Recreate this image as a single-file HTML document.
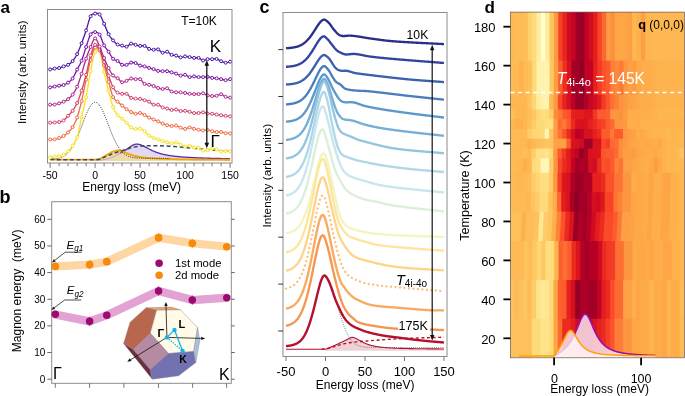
<!DOCTYPE html>
<html><head><meta charset="utf-8"><style>
html,body{margin:0;padding:0;background:#fff;width:685px;height:396px;overflow:hidden}
svg{display:block;will-change:transform}
text{font-family:"Liberation Sans",sans-serif}
</style></head><body>
<svg width="685" height="396" viewBox="0 0 685 396" font-family="Liberation Sans, sans-serif">
<rect width="685" height="396" fill="#fff"/>
<path d="M95.1,160.3 L95.55,160.3 L96,160.29 L96.45,160.29 L96.9,160.27 L97.35,160.26 L97.8,160.24 L98.25,160.22 L98.7,160.2 L99.15,160.17 L99.6,160.14 L100.05,160.1 L100.5,160.06 L100.95,160.01 L101.4,159.97 L101.85,159.91 L102.3,159.86 L102.75,159.8 L103.2,159.73 L103.65,159.66 L104.1,159.58 L104.55,159.5 L105,159.42 L105.45,159.33 L105.9,159.23 L106.35,159.13 L106.8,159.03 L107.25,158.92 L107.7,158.8 L108.15,158.68 L108.6,158.55 L109.05,158.41 L109.5,158.27 L109.95,158.13 L110.4,157.97 L110.85,157.82 L111.3,157.65 L111.75,157.48 L112.2,157.3 L112.65,157.12 L113.1,156.93 L113.55,156.73 L114,156.53 L114.45,156.32 L114.9,156.11 L115.35,155.89 L115.8,155.66 L116.25,155.43 L116.7,155.19 L117.15,154.95 L117.6,154.71 L118.05,154.46 L118.5,154.2 L118.95,153.95 L119.4,153.69 L119.85,153.43 L120.3,153.17 L120.75,152.91 L121.2,152.65 L121.65,152.4 L122.1,152.15 L122.55,151.9 L123,151.64 L123.45,151.38 L123.9,151.1 L124.35,150.82 L124.8,150.54 L125.25,150.25 L125.7,149.95 L126.15,149.64 L126.6,149.33 L127.05,149.02 L127.5,148.71 L127.95,148.39 L128.4,148.07 L128.85,147.75 L129.3,147.43 L129.75,147.12 L130.2,146.81 L130.65,146.51 L131.1,146.22 L131.55,145.94 L132,145.67 L132.45,145.41 L132.9,145.18 L133.35,144.96 L133.8,144.76 L134.25,144.59 L134.7,144.44 L135.15,144.31 L135.6,144.22 L136.05,144.15 L136.5,144.11 L136.95,144.1 L137.4,144.12 L137.85,144.16 L138.3,144.22 L138.75,144.3 L139.2,144.4 L139.65,144.51 L140.1,144.64 L140.55,144.78 L141,144.94 L141.45,145.11 L141.9,145.3 L142.35,145.49 L142.8,145.7 L143.25,145.91 L143.7,146.13 L144.15,146.36 L144.6,146.6 L145.05,146.83 L145.5,147.07 L145.95,147.32 L146.4,147.56 L146.85,147.81 L147.3,148.05 L147.75,148.3 L148.2,148.54 L148.65,148.78 L149.1,149.02 L149.55,149.25 L150,149.48 L150.45,149.71 L150.9,149.93 L151.35,150.15 L151.8,150.37 L152.25,150.58 L152.7,150.78 L153.15,150.99 L153.6,151.18 L154.05,151.37 L154.5,151.56 L154.95,151.74 L155.4,151.92 L155.85,152.09 L156.3,152.26 L156.75,152.42 L157.2,152.58 L157.65,152.73 L158.1,152.88 L158.55,153.03 L159,153.17 L159.45,153.31 L159.9,153.44 L160.35,153.57 L160.8,153.69 L161.25,153.82 L161.7,153.93 L162.15,154.05 L162.6,154.16 L163.05,154.27 L163.5,154.37 L163.95,154.47 L164.4,154.57 L164.85,154.67 L165.3,154.76 L165.75,154.85 L166.2,154.94 L166.65,155.03 L167.1,155.11 L167.55,155.19 L168,155.27 L168.45,155.35 L168.9,155.42 L169.35,155.49 L169.8,155.57 L170.25,155.63 L170.7,155.7 L171.15,155.77 L171.6,155.83 L172.05,155.89 L172.5,155.95 L172.95,156.01 L173.4,156.07 L173.85,156.12 L174.3,156.18 L174.75,156.23 L175.2,156.28 L175.65,156.33 L176.1,156.38 L176.55,156.43 L177,156.48 L177.45,156.52 L177.9,156.57 L178.35,156.61 L178.8,156.65 L179.25,156.69 L179.7,156.73 L180.15,156.77 L180.6,156.81 L181.05,156.85 L181.5,156.89 L181.95,156.92 L182.4,156.96 L182.85,156.99 L183.3,157.03 L183.75,157.06 L184.2,157.09 L184.65,157.13 L185.1,157.16 L185.55,157.19 L186,157.22 L186.45,157.25 L186.9,157.28 L187.35,157.31 L187.8,157.33 L188.25,157.36 L188.7,157.39 L189.15,157.41 L189.6,157.44 L190.05,157.47 L190.5,157.49 L190.95,157.51 L191.4,157.54 L191.85,157.56 L192.3,157.59 L192.75,157.61 L193.2,157.63 L193.65,157.65 L194.1,157.67 L194.55,157.7 L195,157.72 L195.45,157.74 L195.9,157.76 L196.35,157.78 L196.8,157.8 L197.25,157.82 L197.7,157.83 L198.15,157.85 L198.6,157.87 L199.05,157.89 L199.5,157.91 L199.95,157.93 L200.4,157.94 L200.85,157.96 L201.3,157.98 L201.75,157.99 L202.2,158.01 L202.65,158.03 L203.1,158.04 L203.55,158.06 L204,158.07 L204.45,158.09 L204.9,158.1 L205.35,158.12 L205.8,158.13 L206.25,158.15 L206.7,158.16 L207.15,158.17 L207.6,158.19 L208.05,158.2 L208.5,158.21 L208.95,158.23 L209.4,158.24 L209.85,158.25 L210.3,158.27 L210.75,158.28 L211.2,158.29 L211.65,158.3 L212.1,158.32 L212.55,158.33 L213,158.34 L213.45,158.35 L213.9,158.36 L214.35,158.38 L214.8,158.39 L215.25,158.4 L215.7,158.41 L216.15,158.42 L216.6,158.43 L217.05,158.44 L217.5,158.45 L217.95,158.46 L218.4,158.47 L218.85,158.48 L219.3,158.49 L219.75,158.5 L220.2,158.51 L220.65,158.52 L221.1,158.53 L221.55,158.54 L222,158.55 L222.45,158.56 L222.9,158.57 L223.35,158.58 L223.8,158.59 L224.25,158.6 L224.7,158.61 L225.15,158.62 L225.6,158.63 L226.05,158.63 L226.5,158.64 L226.95,158.65 L227.4,158.66 L227.85,158.67 L228.3,158.68 L228.75,158.69 L229.2,158.69 L229.65,158.7 L230.1,158.71 L230.1,161 L95.1,161 Z" fill="#ddd5ee" fill-opacity="0.9"/>
<path d="M94.2,159.7 L94.65,159.7 L95.1,159.7 L95.55,159.69 L96,159.66 L96.45,159.61 L96.9,159.54 L97.35,159.45 L97.8,159.34 L98.25,159.22 L98.7,159.09 L99.15,158.93 L99.6,158.77 L100.05,158.59 L100.5,158.4 L100.95,158.2 L101.4,157.98 L101.85,157.76 L102.3,157.53 L102.75,157.29 L103.2,157.04 L103.65,156.79 L104.1,156.53 L104.55,156.27 L105,156 L105.45,155.73 L105.9,155.46 L106.35,155.19 L106.8,154.91 L107.25,154.64 L107.7,154.37 L108.15,154.1 L108.6,153.83 L109.05,153.57 L109.5,153.31 L109.95,153.06 L110.4,152.81 L110.85,152.57 L111.3,152.34 L111.75,152.12 L112.2,151.9 L112.65,151.7 L113.1,151.51 L113.55,151.33 L114,151.17 L114.45,151.01 L114.9,150.88 L115.35,150.76 L115.8,150.65 L116.25,150.56 L116.7,150.49 L117.15,150.44 L117.6,150.41 L118.05,150.4 L118.5,150.42 L118.95,150.45 L119.4,150.51 L119.85,150.58 L120.3,150.67 L120.75,150.78 L121.2,150.9 L121.65,151.04 L122.1,151.18 L122.55,151.34 L123,151.51 L123.45,151.68 L123.9,151.86 L124.35,152.05 L124.8,152.24 L125.25,152.43 L125.7,152.63 L126.15,152.82 L126.6,153.01 L127.05,153.21 L127.5,153.4 L127.95,153.58 L128.4,153.77 L128.85,153.95 L129.3,154.12 L129.75,154.29 L130.2,154.46 L130.65,154.62 L131.1,154.78 L131.55,154.93 L132,155.08 L132.45,155.22 L132.9,155.36 L133.35,155.49 L133.8,155.62 L134.25,155.75 L134.7,155.87 L135.15,155.98 L135.6,156.09 L136.05,156.2 L136.5,156.31 L136.95,156.4 L137.4,156.5 L137.85,156.59 L138.3,156.68 L138.75,156.77 L139.2,156.85 L139.65,156.93 L140.1,157.01 L140.55,157.08 L141,157.15 L141.45,157.22 L141.9,157.29 L142.35,157.35 L142.8,157.41 L143.25,157.47 L143.7,157.53 L144.15,157.58 L144.6,157.64 L145.05,157.69 L145.5,157.74 L145.95,157.79 L146.4,157.84 L146.85,157.88 L147.3,157.92 L147.75,157.97 L148.2,158.01 L148.65,158.05 L149.1,158.09 L149.55,158.12 L150,158.16 L150.45,158.2 L150.9,158.23 L151.35,158.26 L151.8,158.29 L152.25,158.33 L152.7,158.36 L153.15,158.39 L153.6,158.41 L154.05,158.44 L154.5,158.47 L154.95,158.5 L155.4,158.52 L155.85,158.55 L156.3,158.57 L156.75,158.59 L157.2,158.62 L157.65,158.64 L158.1,158.66 L158.55,158.68 L159,158.7 L159.45,158.72 L159.9,158.74 L160.35,158.76 L160.8,158.78 L161.25,158.8 L161.7,158.82 L162.15,158.84 L162.6,158.85 L163.05,158.87 L163.5,158.89 L163.95,158.9 L164.4,158.92 L164.85,158.93 L165.3,158.95 L165.75,158.96 L166.2,158.98 L166.65,158.99 L167.1,159 L167.55,159.02 L168,159.03 L168.45,159.04 L168.9,159.06 L169.35,159.07 L169.8,159.08 L170.25,159.09 L170.7,159.1 L171.15,159.12 L171.6,159.13 L172.05,159.14 L172.5,159.15 L172.95,159.16 L173.4,159.17 L173.85,159.18 L174.3,159.19 L174.75,159.2 L175.2,159.21 L175.65,159.22 L176.1,159.23 L176.55,159.24 L177,159.25 L177.45,159.26 L177.9,159.26 L178.35,159.27 L178.8,159.28 L179.25,159.29 L179.7,159.3 L180.15,159.31 L180.6,159.31 L181.05,159.32 L181.5,159.33 L181.95,159.34 L182.4,159.34 L182.85,159.35 L183.3,159.36 L183.75,159.37 L184.2,159.37 L184.65,159.38 L185.1,159.39 L185.55,159.39 L186,159.4 L186.45,159.41 L186.9,159.41 L187.35,159.42 L187.8,159.42 L188.25,159.43 L188.7,159.44 L189.15,159.44 L189.6,159.45 L190.05,159.45 L190.5,159.46 L190.95,159.46 L191.4,159.47 L191.85,159.48 L192.3,159.48 L192.75,159.49 L193.2,159.49 L193.65,159.5 L194.1,159.5 L194.55,159.51 L195,159.51 L195.45,159.52 L195.9,159.52 L196.35,159.53 L196.8,159.53 L197.25,159.53 L197.7,159.54 L198.15,159.54 L198.6,159.55 L199.05,159.55 L199.5,159.56 L199.95,159.56 L200.4,159.56 L200.85,159.57 L201.3,159.57 L201.75,159.58 L202.2,159.58 L202.65,159.59 L203.1,159.59 L203.55,159.59 L204,159.6 L204.45,159.6 L204.9,159.6 L205.35,159.61 L205.8,159.61 L206.25,159.61 L206.7,159.62 L207.15,159.62 L207.6,159.63 L208.05,159.63 L208.5,159.63 L208.95,159.64 L209.4,159.64 L209.85,159.64 L210.3,159.64 L210.75,159.65 L211.2,159.65 L211.65,159.65 L212.1,159.66 L212.55,159.66 L213,159.66 L213.45,159.67 L213.9,159.67 L214.35,159.67 L214.8,159.67 L215.25,159.68 L215.7,159.68 L216.15,159.68 L216.6,159.69 L217.05,159.69 L217.5,159.69 L217.95,159.69 L218.4,159.7 L218.85,159.7 L219.3,159.7 L219.75,159.7 L220.2,159.71 L220.65,159.71 L221.1,159.71 L221.55,159.71 L222,159.72 L222.45,159.72 L222.9,159.72 L223.35,159.72 L223.8,159.73 L224.25,159.73 L224.7,159.73 L225.15,159.73 L225.6,159.73 L226.05,159.74 L226.5,159.74 L226.95,159.74 L227.4,159.74 L227.85,159.75 L228.3,159.75 L228.75,159.75 L229.2,159.75 L229.65,159.75 L230.1,159.76 L230.1,161 L94.2,161 Z" fill="#ecdcac"/>
<path d="M120.3,153.17 L120.75,152.91 L121.2,152.65 L121.65,152.4 L122.1,152.15 L122.55,151.9 L123,151.64 L123.45,151.38 L123.9,151.1 L124.35,150.82 L124.8,150.54 L125.25,150.25 L125.7,149.95 L126.15,149.64 L126.6,149.33 L127.05,149.02 L127.5,148.71 L127.95,148.39 L128.4,148.07 L128.85,147.75 L129.3,147.43 L129.75,147.12 L130.2,146.81 L130.65,146.51 L131.1,146.22 L131.55,145.94 L132,145.67 L132.45,145.41 L132.9,145.18 L133.35,144.96 L133.8,144.76 L134.25,144.59 L134.7,144.44 L135.15,144.31 L135.6,144.22 L136.05,144.15 L136.5,144.11 L136.95,144.1 L137.4,144.12 L137.85,144.16 L138.3,144.22 L138.75,144.3 L139.2,144.4 L139.65,144.51 L140.1,144.64 L140.55,144.78 L141,144.94 L141.45,145.11 L141.9,145.3 L142.35,145.49 L142.8,145.7 L143.25,145.91 L143.7,146.13 L144.15,146.36 L144.6,146.6 L145.05,146.83 L145.5,147.07 L145.95,147.32 L146.4,147.56 L146.85,147.81 L147.3,148.05 L147.75,148.3 L148.2,148.54 L148.65,148.78 L149.1,149.02 L149.55,149.25 L150,149.48 L150.45,149.71 L150.9,149.93 L151.35,150.15 L151.8,150.37 L152.25,150.58 L152.7,150.78 L153.15,150.99 L153.6,151.18 L154.05,151.37 L154.5,151.56 L154.95,151.74 L155.4,151.92 L155.85,152.09 L156.3,152.26 L156.75,152.42 L157.2,152.58 L157.65,152.73 L158.1,152.88 L158.55,153.03 L159,153.17 L159.45,153.31 L159.9,153.44 L160.35,153.57 L160.8,153.69 L161.25,153.82 L161.7,153.93 L162.15,154.05 L162.6,154.16 L163.05,154.27 L163.5,154.37 L163.95,154.47 L164.4,154.57 L164.85,154.67 L165.3,154.76 L165.75,154.85 L166.2,154.94 L166.65,155.03 L167.1,155.11 L167.55,155.19 L168,155.27 L168.45,155.35 L168.9,155.42 L169.35,155.49 L169.8,155.57 L170.25,155.63 L170.7,155.7 L171.15,155.77 L171.6,155.83 L172.05,155.89 L172.5,155.95 L172.95,156.01 L173.4,156.07 L173.85,156.12 L174.3,156.18 L174.75,156.23 L175.2,156.28 L175.65,156.33 L176.1,156.38 L176.55,156.43 L177,156.48 L177.45,156.52 L177.9,156.57 L178.35,156.61 L178.8,156.65 L179.25,156.69 L179.7,156.73 L180.15,156.77 L180.6,156.81 L181.05,156.85 L181.5,156.89 L181.95,156.92 L182.4,156.96 L182.85,156.99 L183.3,157.03 L183.75,157.06 L184.2,157.09 L184.65,157.13 L185.1,157.16 L185.55,157.19 L186,157.22 L186.45,157.25 L186.9,157.28 L187.35,157.31 L187.8,157.33 L188.25,157.36 L188.7,157.39 L189.15,157.41 L189.6,157.44 L190.05,157.47 L190.5,157.49 L190.95,157.51 L191.4,157.54 L191.85,157.56 L192.3,157.59 L192.75,157.61 L193.2,157.63 L193.65,157.65 L194.1,157.67 L194.55,157.7 L195,157.72 L195.45,157.74 L195.9,157.76 L196.35,157.78 L196.8,157.8 L197.25,157.82 L197.7,157.83 L198.15,157.85 L198.6,157.87 L199.05,157.89 L199.5,157.91 L199.95,157.93 L200.4,157.94 L200.85,157.96 L201.3,157.98 L201.75,157.99 L202.2,158.01 L202.65,158.03 L203.1,158.04 L203.55,158.06 L204,158.07 L204.45,158.09 L204.9,158.1 L205.35,158.12 L205.8,158.13 L206.25,158.15 L206.7,158.16 L207.15,158.17 L207.6,158.19 L208.05,158.2 L208.5,158.21 L208.95,158.23 L209.4,158.24 L209.85,158.25 L210.3,158.27 L210.75,158.28 L211.2,158.29 L211.65,158.3 L212.1,158.32 L212.55,158.33 L213,158.34 L213.45,158.35 L213.9,158.36 L214.35,158.38 L214.8,158.39 L215.25,158.4 L215.7,158.41 L216.15,158.42 L216.6,158.43 L217.05,158.44 L217.5,158.45 L217.95,158.46 L218.4,158.47 L218.85,158.48 L219.3,158.49 L219.75,158.5 L220.2,158.51 L220.65,158.52 L221.1,158.53 L221.55,158.54 L222,158.55 L222.45,158.56 L222.9,158.57 L223.35,158.58 L223.8,158.59 L224.25,158.6 L224.7,158.61 L225.15,158.62 L225.6,158.63 L226.05,158.63 L226.5,158.64 L226.95,158.65 L227.4,158.66 L227.85,158.67 L228.3,158.68 L228.75,158.69 L229.2,158.69 L229.65,158.7 L230.1,158.71" fill="none" stroke="#5a2aa0" stroke-width="1.3"/>
<path d="M95.1,160.3 L95.55,160.3 L96,160.29 L96.45,160.29 L96.9,160.27 L97.35,160.26 L97.8,160.24 L98.25,160.22 L98.7,160.2 L99.15,160.17 L99.6,160.14 L100.05,160.1 L100.5,160.06 L100.95,160.01 L101.4,159.97 L101.85,159.91 L102.3,159.86 L102.75,159.8 L103.2,159.73 L103.65,159.66 L104.1,159.58 L104.55,159.5 L105,159.42 L105.45,159.33 L105.9,159.23 L106.35,159.13 L106.8,159.03 L107.25,158.92 L107.7,158.8 L108.15,158.68 L108.6,158.55 L109.05,158.41 L109.5,158.27 L109.95,158.13 L110.4,157.97 L110.85,157.82 L111.3,157.65 L111.75,157.48 L112.2,157.3 L112.65,157.12 L113.1,156.93 L113.55,156.73 L114,156.53 L114.45,156.32 L114.9,156.11 L115.35,155.89 L115.8,155.66 L116.25,155.43 L116.7,155.19 L117.15,154.95 L117.6,154.71 L118.05,154.46 L118.5,154.2 L118.95,153.95 L119.4,153.69 L119.85,153.43 L120.3,153.17 L120.75,152.91 L121.2,152.65 L121.65,152.4 L122.1,152.15" fill="none" stroke="#a08ab8" stroke-width="0.7"/>
<path d="M50.1,159.7 L50.55,159.7 L51,159.7 L51.45,159.7 L51.9,159.7 L52.35,159.7 L52.8,159.7 L53.25,159.7 L53.7,159.7 L54.15,159.7 L54.6,159.7 L55.05,159.7 L55.5,159.7 L55.95,159.7 L56.4,159.7 L56.85,159.7 L57.3,159.7 L57.75,159.7 L58.2,159.7 L58.65,159.7 L59.1,159.7 L59.55,159.7 L60,159.7 L60.45,159.7 L60.9,159.7 L61.35,159.7 L61.8,159.7 L62.25,159.7 L62.7,159.7 L63.15,159.7 L63.6,159.7 L64.05,159.7 L64.5,159.7 L64.95,159.7 L65.4,159.7 L65.85,159.7 L66.3,159.7 L66.75,159.7 L67.2,159.7 L67.65,159.7 L68.1,159.7 L68.55,159.7 L69,159.7 L69.45,159.7 L69.9,159.7 L70.35,159.7 L70.8,159.7 L71.25,159.7 L71.7,159.7 L72.15,159.7 L72.6,159.7 L73.05,159.7 L73.5,159.7 L73.95,159.7 L74.4,159.7 L74.85,159.7 L75.3,159.7 L75.75,159.7 L76.2,159.7 L76.65,159.7 L77.1,159.7 L77.55,159.7 L78,159.7 L78.45,159.7 L78.9,159.7 L79.35,159.7 L79.8,159.7 L80.25,159.7 L80.7,159.7 L81.15,159.7 L81.6,159.7 L82.05,159.7 L82.5,159.7 L82.95,159.7 L83.4,159.7 L83.85,159.7 L84.3,159.7 L84.75,159.7 L85.2,159.7 L85.65,159.7 L86.1,159.7 L86.55,159.7 L87,159.7 L87.45,159.7 L87.9,159.7 L88.35,159.7 L88.8,159.7 L89.25,159.7 L89.7,159.7 L90.15,159.7 L90.6,159.7 L91.05,159.7 L91.5,159.7 L91.95,159.7 L92.4,159.7 L92.85,159.7 L93.3,159.7 L93.75,159.7 L94.2,159.7 L94.65,159.7 L95.1,159.7 L95.55,159.69 L96,159.66 L96.45,159.61 L96.9,159.54 L97.35,159.45 L97.8,159.34 L98.25,159.22 L98.7,159.09 L99.15,158.93 L99.6,158.77 L100.05,158.59 L100.5,158.4 L100.95,158.2 L101.4,157.98 L101.85,157.76 L102.3,157.53 L102.75,157.29 L103.2,157.04 L103.65,156.79 L104.1,156.53 L104.55,156.27 L105,156 L105.45,155.73 L105.9,155.46 L106.35,155.19 L106.8,154.91 L107.25,154.64 L107.7,154.37 L108.15,154.1 L108.6,153.83 L109.05,153.57 L109.5,153.31 L109.95,153.06 L110.4,152.81 L110.85,152.57 L111.3,152.34 L111.75,152.12 L112.2,151.9 L112.65,151.7 L113.1,151.51 L113.55,151.33 L114,151.17 L114.45,151.01 L114.9,150.88 L115.35,150.76 L115.8,150.65 L116.25,150.56 L116.7,150.49 L117.15,150.44 L117.6,150.41 L118.05,150.4 L118.5,150.42 L118.95,150.45 L119.4,150.51 L119.85,150.58 L120.3,150.67 L120.75,150.78 L121.2,150.9 L121.65,151.04 L122.1,151.18 L122.55,151.34 L123,151.51 L123.45,151.68 L123.9,151.86 L124.35,152.05 L124.8,152.24 L125.25,152.43 L125.7,152.63 L126.15,152.82 L126.6,153.01 L127.05,153.21 L127.5,153.4 L127.95,153.58 L128.4,153.77 L128.85,153.95 L129.3,154.12 L129.75,154.29 L130.2,154.46 L130.65,154.62 L131.1,154.78 L131.55,154.93 L132,155.08 L132.45,155.22 L132.9,155.36 L133.35,155.49 L133.8,155.62 L134.25,155.75 L134.7,155.87 L135.15,155.98 L135.6,156.09 L136.05,156.2 L136.5,156.31 L136.95,156.4 L137.4,156.5 L137.85,156.59 L138.3,156.68 L138.75,156.77 L139.2,156.85 L139.65,156.93 L140.1,157.01 L140.55,157.08 L141,157.15 L141.45,157.22 L141.9,157.29 L142.35,157.35 L142.8,157.41 L143.25,157.47 L143.7,157.53 L144.15,157.58 L144.6,157.64 L145.05,157.69 L145.5,157.74 L145.95,157.79 L146.4,157.84 L146.85,157.88 L147.3,157.92 L147.75,157.97 L148.2,158.01 L148.65,158.05 L149.1,158.09 L149.55,158.12 L150,158.16 L150.45,158.2 L150.9,158.23 L151.35,158.26 L151.8,158.29 L152.25,158.33 L152.7,158.36 L153.15,158.39 L153.6,158.41 L154.05,158.44 L154.5,158.47 L154.95,158.5 L155.4,158.52 L155.85,158.55 L156.3,158.57 L156.75,158.59 L157.2,158.62 L157.65,158.64 L158.1,158.66 L158.55,158.68 L159,158.7 L159.45,158.72 L159.9,158.74 L160.35,158.76 L160.8,158.78 L161.25,158.8 L161.7,158.82 L162.15,158.84 L162.6,158.85 L163.05,158.87 L163.5,158.89 L163.95,158.9 L164.4,158.92 L164.85,158.93 L165.3,158.95 L165.75,158.96 L166.2,158.98 L166.65,158.99 L167.1,159 L167.55,159.02 L168,159.03 L168.45,159.04 L168.9,159.06 L169.35,159.07 L169.8,159.08 L170.25,159.09 L170.7,159.1 L171.15,159.12 L171.6,159.13 L172.05,159.14 L172.5,159.15 L172.95,159.16 L173.4,159.17 L173.85,159.18 L174.3,159.19 L174.75,159.2 L175.2,159.21 L175.65,159.22 L176.1,159.23 L176.55,159.24 L177,159.25 L177.45,159.26 L177.9,159.26 L178.35,159.27 L178.8,159.28 L179.25,159.29 L179.7,159.3 L180.15,159.31 L180.6,159.31 L181.05,159.32 L181.5,159.33 L181.95,159.34 L182.4,159.34 L182.85,159.35 L183.3,159.36 L183.75,159.37 L184.2,159.37 L184.65,159.38 L185.1,159.39 L185.55,159.39 L186,159.4 L186.45,159.41 L186.9,159.41 L187.35,159.42 L187.8,159.42 L188.25,159.43 L188.7,159.44 L189.15,159.44 L189.6,159.45 L190.05,159.45 L190.5,159.46 L190.95,159.46 L191.4,159.47 L191.85,159.48 L192.3,159.48 L192.75,159.49 L193.2,159.49 L193.65,159.5 L194.1,159.5 L194.55,159.51 L195,159.51 L195.45,159.52 L195.9,159.52 L196.35,159.53 L196.8,159.53 L197.25,159.53 L197.7,159.54 L198.15,159.54 L198.6,159.55 L199.05,159.55 L199.5,159.56 L199.95,159.56 L200.4,159.56 L200.85,159.57 L201.3,159.57 L201.75,159.58 L202.2,159.58 L202.65,159.59 L203.1,159.59 L203.55,159.59 L204,159.6 L204.45,159.6 L204.9,159.6 L205.35,159.61 L205.8,159.61 L206.25,159.61 L206.7,159.62 L207.15,159.62 L207.6,159.63 L208.05,159.63 L208.5,159.63 L208.95,159.64 L209.4,159.64 L209.85,159.64 L210.3,159.64 L210.75,159.65 L211.2,159.65 L211.65,159.65 L212.1,159.66 L212.55,159.66 L213,159.66 L213.45,159.67 L213.9,159.67 L214.35,159.67 L214.8,159.67 L215.25,159.68 L215.7,159.68 L216.15,159.68 L216.6,159.69 L217.05,159.69 L217.5,159.69 L217.95,159.69 L218.4,159.7 L218.85,159.7 L219.3,159.7 L219.75,159.7 L220.2,159.71 L220.65,159.71 L221.1,159.71 L221.55,159.71 L222,159.72 L222.45,159.72 L222.9,159.72 L223.35,159.72 L223.8,159.73 L224.25,159.73 L224.7,159.73 L225.15,159.73 L225.6,159.73 L226.05,159.74 L226.5,159.74 L226.95,159.74 L227.4,159.74 L227.85,159.75 L228.3,159.75 L228.75,159.75 L229.2,159.75 L229.65,159.75 L230.1,159.76" fill="none" stroke="#f7a20a" stroke-width="1.8"/>
<path d="M50,159.16 L50.5,159.15 L51,159.12 L51.5,159.1 L52,159.07 L52.5,159.04 L53,159.01 L53.5,158.97 L54,158.92 L54.5,158.88 L55,158.82 L55.5,158.76 L56,158.7 L56.5,158.62 L57,158.54 L57.5,158.45 L58,158.35 L58.5,158.24 L59,158.12 L59.5,157.99 L60,157.84 L60.5,157.68 L61,157.51 L61.5,157.32 L62,157.11 L62.5,156.89 L63,156.65 L63.5,156.38 L64,156.1 L64.5,155.79 L65,155.46 L65.5,155.11 L66,154.73 L66.5,154.32 L67,153.88 L67.5,153.41 L68,152.91 L68.5,152.38 L69,151.82 L69.5,151.22 L70,150.59 L70.5,149.92 L71,149.22 L71.5,148.48 L72,147.7 L72.5,146.89 L73,146.04 L73.5,145.15 L74,144.22 L74.5,143.26 L75,142.26 L75.5,141.22 L76,140.15 L76.5,139.04 L77,137.91 L77.5,136.74 L78,135.55 L78.5,134.32 L79,133.08 L79.5,131.81 L80,130.53 L80.5,129.22 L81,127.91 L81.5,126.59 L82,125.26 L82.5,123.93 L83,122.6 L83.5,121.28 L84,119.97 L84.5,118.68 L85,117.4 L85.5,116.15 L86,114.93 L86.5,113.74 L87,112.58 L87.5,111.47 L88,110.4 L88.5,109.39 L89,108.43 L89.5,107.52 L90,106.68 L90.5,105.91 L91,105.2 L91.5,104.56 L92,104 L92.5,103.52 L93,103.11 L93.5,102.79 L94,102.54 L94.5,102.38 L95,102.31 L95.5,102.3 L96,102.38 L96.5,102.55 L97,102.79 L97.5,103.12 L98,103.53 L98.5,104.02 L99,104.58 L99.5,105.22 L100,105.93 L100.5,106.71 L101,107.55 L101.5,108.45 L102,109.41 L102.5,110.43 L103,111.49 L103.5,112.6 L104,113.75 L104.5,114.93 L105,116.15 L105.5,117.39 L106,118.66 L106.5,119.95 L107,121.25 L107.5,122.56 L108,123.87 L108.5,125.19 L109,126.5 L109.5,127.81 L110,129.11 L110.5,130.4 L111,131.67 L111.5,132.92 L112,134.14 L112.5,135.35 L113,136.53 L113.5,137.67 L114,138.79 L114.5,139.88 L115,140.93 L115.5,141.95 L116,142.93 L116.5,143.87 L117,144.78 L117.5,145.65 L118,146.48 L118.5,147.28 L119,148.03 L119.5,148.75 L120,149.44 L120.5,150.08 L121,150.7 L121.5,151.27 L122,151.82 L122.5,152.33 L123,152.81 L123.5,153.26 L124,153.68 L124.5,154.07 L125,154.43 L125.5,154.77 L126,155.08 L126.5,155.37 L127,155.64 L127.5,155.89 L128,156.11 L128.5,156.32 L129,156.51 L129.5,156.68 L130,156.84 L130.5,156.98 L131,157.11 L131.5,157.23 L132,157.34 L132.5,157.43 L133,157.52 L133.5,157.59 L134,157.66 L134.5,157.72 L135,157.77 L135.5,157.83 L136,157.89 L136.5,157.93 L137,157.98 L137.5,158.01 L138,158.05 L138.5,158.08 L139,158.1 L139.5,158.13 L140,158.15 L140.5,158.17 L141,158.19 L141.5,158.2 L142,158.21 L142.5,158.22 L143,158.23 L143.5,158.24 L144,158.25 L144.5,158.26 L145,158.26 L145.5,158.27 L146,158.27 L146.5,158.28 L147,158.28 L147.5,158.28 L148,158.29 L148.5,158.29 L149,158.29 L149.5,158.29 L150,158.29 L150.5,158.29 L151,158.29 L151.5,158.3 L152,158.3 L152.5,158.3 L153,158.3 L153.5,158.3 L154,158.3 L154.5,158.3 L155,158.3 L155.5,158.3 L156,158.3 L156.5,158.3 L157,158.3 L157.5,158.3 L158,158.3 L158.5,158.3 L159,158.3 L159.5,158.3 L160,158.3 L160.5,158.3 L161,158.3 L161.5,158.3 L162,158.3 L162.5,158.3 L163,158.3 L163.5,158.3 L164,158.3 L164.5,158.3 L165,158.3 L165.5,158.3 L166,158.3 L166.5,158.3 L167,158.3 L167.5,158.3 L168,158.3 L168.5,158.3 L169,158.3 L169.5,158.3 L170,158.3" fill="none" stroke="#1a1a1a" stroke-width="0.9" stroke-dasharray="1,1.2"/>
<path d="M50.1,159.6 L53.82,159.62 L59.03,159.66 L65.26,159.71 L72.04,159.75 L78.88,159.78 L85.33,159.77 L90.89,159.71 L95.1,159.6 L97.95,159.42 L99.88,159.2 L101.11,158.93 L101.85,158.62 L102.31,158.29 L102.69,157.94 L103.22,157.57 L104.1,157.2 L105.22,156.8 L106.35,156.37 L107.47,155.91 L108.6,155.44 L109.72,154.96 L110.85,154.49 L111.97,154.03 L113.1,153.6 L114.21,153.2 L115.31,152.81 L116.4,152.44 L117.49,152.07 L118.59,151.71 L119.72,151.35 L120.89,150.98 L122.1,150.6 L123.37,150.2 L124.69,149.77 L126.06,149.34 L127.44,148.91 L128.84,148.48 L130.22,148.09 L131.58,147.72 L132.9,147.4 L134.1,147.12 L135.16,146.87 L136.16,146.65 L137.18,146.45 L138.27,146.28 L139.52,146.13 L141.01,146 L142.8,145.9 L144.95,145.82 L147.4,145.76 L150.08,145.72 L152.93,145.71 L155.85,145.72 L158.79,145.75 L161.66,145.81 L164.4,145.9 L167.02,146.02 L169.6,146.18 L172.15,146.36 L174.69,146.57 L177.25,146.79 L179.82,147.03 L182.43,147.27 L185.1,147.5 L187.83,147.74 L190.6,148 L193.41,148.26 L196.24,148.54 L199.08,148.81 L201.93,149.08 L204.78,149.35 L207.6,149.6 L210.57,149.85 L213.75,150.11 L217.03,150.38 L220.26,150.63 L223.31,150.87 L226.06,151.08 L228.36,151.26 L230.1,151.4" fill="none" stroke="#3a4a5c" stroke-width="1.5" stroke-dasharray="4,2.6"/>
<path d="M50.1,157.4 L50.71,157.28 L51.58,157.12 L52.58,156.93 L53.63,156.75 L54.6,156.6 L55.5,156.51 L56.4,156.46 L57.3,156.41 L58.2,156.34 L59.1,156.2 L60,156.02 L60.9,155.81 L61.8,155.55 L62.7,155.22 L63.6,154.8 L64.5,154.28 L65.4,153.69 L66.3,153.02 L67.2,152.26 L68.1,151.4 L69,150.45 L69.9,149.41 L70.8,148.27 L71.7,147.04 L72.6,145.7 L73.5,144.42 L74.4,143.19 L75.3,141.78 L76.2,139.96 L77.1,137.5 L78,134.19 L78.9,130.2 L79.8,125.82 L80.7,121.35 L81.6,117.1 L82.5,113.17 L83.4,109.35 L84.3,105.51 L85.2,101.47 L86.1,97.1 L87,92.19 L87.9,86.84 L88.8,81.36 L89.7,76.05 L90.6,71.2 L91.5,66.65 L92.4,62.18 L93.3,58.08 L94.2,54.59 L95.1,52 L96,50.22 L96.9,49.06 L97.8,48.66 L98.7,49.14 L99.6,50.6 L100.5,53.46 L101.4,57.64 L102.3,62.53 L103.2,67.52 L104.1,72 L105,75.98 L105.9,79.87 L106.8,83.66 L107.7,87.34 L108.6,90.9 L109.5,94.42 L110.4,97.92 L111.3,101.26 L112.2,104.32 L113.1,107 L114,109.24 L114.9,111.12 L115.8,112.71 L116.7,114.08 L117.6,115.3 L118.5,116.26 L119.4,116.93 L120.3,117.45 L121.2,117.96 L122.1,118.6 L123,119.39 L123.9,120.24 L124.8,121.12 L125.7,122.01 L126.6,122.9 L127.5,123.84 L128.4,124.83 L129.3,125.81 L130.2,126.69 L131.1,127.4 L132,127.92 L132.9,128.3 L133.8,128.57 L134.7,128.76 L135.6,128.9 L136.5,128.91 L137.4,128.77 L138.3,128.6 L139.2,128.5 L140.1,128.6 L141,128.9 L141.9,129.34 L142.8,129.88 L143.7,130.51 L144.6,131.2 L145.5,132.03 L146.4,133.01 L147.3,134.04 L148.2,135 L149.1,135.8 L150,136.4 L150.9,136.89 L151.8,137.29 L152.7,137.64 L153.6,138 L154.5,138.34 L155.4,138.65 L156.3,138.93 L157.2,139.21 L158.1,139.5 L159,139.8 L159.9,140.11 L160.8,140.41 L161.7,140.71 L162.6,141 L163.5,141.28 L164.4,141.55 L165.3,141.81 L166.2,142.06 L167.1,142.3 L168,142.55 L168.9,142.82 L169.8,143.06 L170.7,143.23 L171.6,143.3 L172.5,143.18 L173.4,142.89 L174.3,142.57 L175.2,142.33 L176.1,142.3 L177,142.54 L177.9,142.95 L178.8,143.47 L179.7,144.02 L180.6,144.5 L181.5,144.97 L182.4,145.49 L183.3,145.98 L184.2,146.37 L185.1,146.6 L186,146.57 L186.9,146.33 L187.8,146.01 L188.7,145.76 L189.6,145.7 L190.5,145.92 L191.4,146.31 L192.3,146.78 L193.2,147.21 L194.1,147.5 L195,147.57 L195.9,147.48 L196.8,147.36 L197.7,147.33 L198.6,147.5 L199.5,147.98 L200.4,148.68 L201.3,149.46 L202.2,150.15 L203.1,150.6 L204,150.76 L204.9,150.75 L205.8,150.61 L206.7,150.41 L207.6,150.2 L208.5,149.92 L209.4,149.53 L210.3,149.12 L211.2,148.79 L212.1,148.6 L213,148.59 L213.9,148.69 L214.8,148.88 L215.7,149.12 L216.6,149.4 L217.5,149.76 L218.4,150.22 L219.3,150.71 L220.2,151.13 L221.1,151.4 L222,151.48 L222.9,151.42 L223.8,151.29 L224.7,151.16 L225.6,151.1 L226.57,151.13 L227.62,151.19 L228.62,151.27 L229.49,151.35 L230.1,151.4" fill="none" stroke="#f8e21e" stroke-width="1.3"/>
<g fill="#fff" stroke="#f8e21e" stroke-width="1.0"><circle cx="50.1" cy="157.4" r="1.5"/><circle cx="54.6" cy="156.6" r="1.5"/><circle cx="59.1" cy="156.2" r="1.5"/><circle cx="63.6" cy="154.8" r="1.5"/><circle cx="68.1" cy="151.4" r="1.5"/><circle cx="72.6" cy="145.7" r="1.5"/><circle cx="77.1" cy="137.5" r="1.5"/><circle cx="81.6" cy="117.1" r="1.5"/><circle cx="86.1" cy="97.1" r="1.5"/><circle cx="90.6" cy="71.2" r="1.5"/><circle cx="95.1" cy="52" r="1.5"/><circle cx="99.6" cy="50.6" r="1.5"/><circle cx="104.1" cy="72" r="1.5"/><circle cx="108.6" cy="90.9" r="1.5"/><circle cx="113.1" cy="107" r="1.5"/><circle cx="117.6" cy="115.3" r="1.5"/><circle cx="122.1" cy="118.6" r="1.5"/><circle cx="126.6" cy="122.9" r="1.5"/><circle cx="131.1" cy="127.4" r="1.5"/><circle cx="135.6" cy="128.9" r="1.5"/><circle cx="140.1" cy="128.6" r="1.5"/><circle cx="144.6" cy="131.2" r="1.5"/><circle cx="149.1" cy="135.8" r="1.5"/><circle cx="153.6" cy="138" r="1.5"/><circle cx="158.1" cy="139.5" r="1.5"/><circle cx="162.6" cy="141" r="1.5"/><circle cx="167.1" cy="142.3" r="1.5"/><circle cx="171.6" cy="143.3" r="1.5"/><circle cx="176.1" cy="142.3" r="1.5"/><circle cx="180.6" cy="144.5" r="1.5"/><circle cx="185.1" cy="146.6" r="1.5"/><circle cx="189.6" cy="145.7" r="1.5"/><circle cx="194.1" cy="147.5" r="1.5"/><circle cx="198.6" cy="147.5" r="1.5"/><circle cx="203.1" cy="150.6" r="1.5"/><circle cx="207.6" cy="150.2" r="1.5"/><circle cx="212.1" cy="148.6" r="1.5"/><circle cx="216.6" cy="149.4" r="1.5"/><circle cx="221.1" cy="151.4" r="1.5"/><circle cx="225.6" cy="151.1" r="1.5"/><circle cx="230.1" cy="151.4" r="1.5"/></g>
<path d="M50.1,139.5 L50.71,139.51 L51.58,139.53 L52.58,139.54 L53.63,139.5 L54.6,139.4 L55.5,139.21 L56.4,138.96 L57.3,138.67 L58.2,138.34 L59.1,138 L60,137.66 L60.9,137.32 L61.8,136.94 L62.7,136.51 L63.6,136 L64.5,135.41 L65.4,134.76 L66.3,134.05 L67.2,133.26 L68.1,132.4 L69,131.5 L69.9,130.57 L70.8,129.54 L71.7,128.37 L72.6,127 L73.5,125.47 L74.4,123.82 L75.3,121.99 L76.2,119.9 L77.1,117.5 L78,114.76 L78.9,111.72 L79.8,108.42 L80.7,104.9 L81.6,101.2 L82.5,97.2 L83.4,92.89 L84.3,88.42 L85.2,83.97 L86.1,79.7 L87,75.53 L87.9,71.34 L88.8,67.28 L89.7,63.45 L90.6,60 L91.5,56.79 L92.4,53.74 L93.3,51.04 L94.2,48.89 L95.1,47.5 L96,46.92 L96.9,47.03 L97.8,47.72 L98.7,48.91 L99.6,50.5 L100.5,52.64 L101.4,55.4 L102.3,58.55 L103.2,61.86 L104.1,65.1 L105,68.33 L105.9,71.7 L106.8,75.12 L107.7,78.52 L108.6,81.8 L109.5,85.12 L110.4,88.53 L111.3,91.82 L112.2,94.75 L113.1,97.1 L114,98.72 L114.9,99.75 L115.8,100.43 L116.7,101 L117.6,101.7 L118.5,102.51 L119.4,103.28 L120.3,104.03 L121.2,104.76 L122.1,105.5 L123,106.26 L123.9,107.03 L124.8,107.79 L125.7,108.52 L126.6,109.2 L127.5,109.83 L128.4,110.43 L129.3,111 L130.2,111.52 L131.1,112 L132,112.47 L132.9,112.92 L133.8,113.32 L134.7,113.62 L135.6,113.8 L136.5,113.76 L137.4,113.53 L138.3,113.24 L139.2,113.02 L140.1,113 L141,113.21 L141.9,113.57 L142.8,114.02 L143.7,114.52 L144.6,115 L145.5,115.49 L146.4,116.03 L147.3,116.58 L148.2,117.12 L149.1,117.6 L150,118.02 L150.9,118.41 L151.8,118.77 L152.7,119.13 L153.6,119.5 L154.5,119.88 L155.4,120.25 L156.3,120.62 L157.2,121 L158.1,121.4 L159,121.83 L159.9,122.29 L160.8,122.75 L161.7,123.19 L162.6,123.6 L163.5,123.97 L164.4,124.32 L165.3,124.65 L166.2,124.94 L167.1,125.2 L168,125.43 L168.9,125.64 L169.8,125.8 L170.7,125.93 L171.6,126 L172.5,125.96 L173.4,125.81 L174.3,125.64 L175.2,125.54 L176.1,125.6 L177,125.87 L177.9,126.3 L178.8,126.8 L179.7,127.3 L180.6,127.7 L181.5,128.04 L182.4,128.37 L183.3,128.66 L184.2,128.85 L185.1,128.9 L186,128.72 L186.9,128.35 L187.8,127.91 L188.7,127.55 L189.6,127.4 L190.5,127.52 L191.4,127.82 L192.3,128.21 L193.2,128.6 L194.1,128.9 L195,129.1 L195.9,129.27 L196.8,129.41 L197.7,129.55 L198.6,129.7 L199.5,129.88 L200.4,130.08 L201.3,130.27 L202.2,130.42 L203.1,130.5 L204,130.46 L204.9,130.31 L205.8,130.14 L206.7,130.01 L207.6,130 L208.5,130.14 L209.4,130.38 L210.3,130.67 L211.2,130.96 L212.1,131.2 L213,131.4 L213.9,131.59 L214.8,131.76 L215.7,131.9 L216.6,132 L217.5,132.03 L218.4,132 L219.3,131.95 L220.2,131.94 L221.1,132 L222,132.18 L222.9,132.44 L223.8,132.73 L224.7,133 L225.6,133.2 L226.57,133.32 L227.62,133.4 L228.62,133.44 L229.49,133.47 L230.1,133.5" fill="none" stroke="#ee6a45" stroke-width="1.3"/>
<g fill="#fff" stroke="#ee6a45" stroke-width="1.0"><circle cx="50.1" cy="139.5" r="1.5"/><circle cx="54.6" cy="139.4" r="1.5"/><circle cx="59.1" cy="138" r="1.5"/><circle cx="63.6" cy="136" r="1.5"/><circle cx="68.1" cy="132.4" r="1.5"/><circle cx="72.6" cy="127" r="1.5"/><circle cx="77.1" cy="117.5" r="1.5"/><circle cx="81.6" cy="101.2" r="1.5"/><circle cx="86.1" cy="79.7" r="1.5"/><circle cx="90.6" cy="60" r="1.5"/><circle cx="95.1" cy="47.5" r="1.5"/><circle cx="99.6" cy="50.5" r="1.5"/><circle cx="104.1" cy="65.1" r="1.5"/><circle cx="108.6" cy="81.8" r="1.5"/><circle cx="113.1" cy="97.1" r="1.5"/><circle cx="117.6" cy="101.7" r="1.5"/><circle cx="122.1" cy="105.5" r="1.5"/><circle cx="126.6" cy="109.2" r="1.5"/><circle cx="131.1" cy="112" r="1.5"/><circle cx="135.6" cy="113.8" r="1.5"/><circle cx="140.1" cy="113" r="1.5"/><circle cx="144.6" cy="115" r="1.5"/><circle cx="149.1" cy="117.6" r="1.5"/><circle cx="153.6" cy="119.5" r="1.5"/><circle cx="158.1" cy="121.4" r="1.5"/><circle cx="162.6" cy="123.6" r="1.5"/><circle cx="167.1" cy="125.2" r="1.5"/><circle cx="171.6" cy="126" r="1.5"/><circle cx="176.1" cy="125.6" r="1.5"/><circle cx="180.6" cy="127.7" r="1.5"/><circle cx="185.1" cy="128.9" r="1.5"/><circle cx="189.6" cy="127.4" r="1.5"/><circle cx="194.1" cy="128.9" r="1.5"/><circle cx="198.6" cy="129.7" r="1.5"/><circle cx="203.1" cy="130.5" r="1.5"/><circle cx="207.6" cy="130" r="1.5"/><circle cx="212.1" cy="131.2" r="1.5"/><circle cx="216.6" cy="132" r="1.5"/><circle cx="221.1" cy="132" r="1.5"/><circle cx="225.6" cy="133.2" r="1.5"/><circle cx="230.1" cy="133.5" r="1.5"/></g>
<path d="M50.1,122.7 L50.71,122.68 L51.58,122.65 L52.58,122.61 L53.63,122.56 L54.6,122.5 L55.5,122.44 L56.4,122.37 L57.3,122.29 L58.2,122.18 L59.1,122 L60,121.8 L60.9,121.58 L61.8,121.31 L62.7,120.93 L63.6,120.4 L64.5,119.68 L65.4,118.8 L66.3,117.81 L67.2,116.79 L68.1,115.8 L69,114.87 L69.9,113.96 L70.8,113.02 L71.7,111.99 L72.6,110.8 L73.5,109.49 L74.4,108.1 L75.3,106.58 L76.2,104.89 L77.1,103 L78,100.89 L78.9,98.58 L79.8,96.1 L80.7,93.47 L81.6,90.7 L82.5,87.79 L83.4,84.72 L84.3,81.51 L85.2,78.16 L86.1,74.7 L87,70.93 L87.9,66.84 L88.8,62.72 L89.7,58.85 L90.6,55.5 L91.5,52.58 L92.4,49.89 L93.3,47.6 L94.2,45.85 L95.1,44.8 L96,44.55 L96.9,44.98 L97.8,45.97 L98.7,47.36 L99.6,49 L100.5,51.03 L101.4,53.53 L102.3,56.33 L103.2,59.21 L104.1,62 L105,64.73 L105.9,67.53 L106.8,70.34 L107.7,73.08 L108.6,75.7 L109.5,78.26 L110.4,80.79 L111.3,83.21 L112.2,85.42 L113.1,87.3 L114,88.83 L114.9,90.07 L115.8,91.08 L116.7,91.9 L117.6,92.6 L118.5,93.12 L119.4,93.43 L120.3,93.6 L121.2,93.7 L122.1,93.8 L123,93.81 L123.9,93.69 L124.8,93.56 L125.7,93.56 L126.6,93.8 L127.5,94.41 L128.4,95.31 L129.3,96.31 L130.2,97.23 L131.1,97.9 L132,98.26 L132.9,98.44 L133.8,98.51 L134.7,98.54 L135.6,98.6 L136.5,98.67 L137.4,98.7 L138.3,98.73 L139.2,98.78 L140.1,98.9 L141,99.09 L141.9,99.34 L142.8,99.62 L143.7,99.91 L144.6,100.2 L145.5,100.46 L146.4,100.71 L147.3,100.98 L148.2,101.3 L149.1,101.7 L150,102.25 L150.9,102.94 L151.8,103.64 L152.7,104.27 L153.6,104.7 L154.5,104.85 L155.4,104.79 L156.3,104.65 L157.2,104.58 L158.1,104.7 L159,105.09 L159.9,105.66 L160.8,106.31 L161.7,106.92 L162.6,107.4 L163.5,107.72 L164.4,107.94 L165.3,108.11 L166.2,108.28 L167.1,108.5 L168,108.81 L168.9,109.17 L169.8,109.52 L170.7,109.82 L171.6,110 L172.5,110 L173.4,109.85 L174.3,109.65 L175.2,109.5 L176.1,109.5 L177,109.7 L177.9,110.04 L178.8,110.43 L179.7,110.78 L180.6,111 L181.5,111.05 L182.4,110.98 L183.3,110.88 L184.2,110.79 L185.1,110.8 L186,110.92 L186.9,111.1 L187.8,111.33 L188.7,111.57 L189.6,111.8 L190.5,112.05 L191.4,112.32 L192.3,112.6 L193.2,112.83 L194.1,113 L195,113.09 L195.9,113.12 L196.8,113.11 L197.7,113.06 L198.6,113 L199.5,112.87 L200.4,112.68 L201.3,112.48 L202.2,112.33 L203.1,112.3 L204,112.43 L204.9,112.69 L205.8,112.99 L206.7,113.29 L207.6,113.5 L208.5,113.61 L209.4,113.67 L210.3,113.69 L211.2,113.73 L212.1,113.8 L213,113.91 L213.9,114.05 L214.8,114.19 L215.7,114.35 L216.6,114.5 L217.5,114.66 L218.4,114.83 L219.3,115 L220.2,115.16 L221.1,115.3 L222,115.42 L222.9,115.52 L223.8,115.61 L224.7,115.7 L225.6,115.8 L226.57,115.92 L227.62,116.06 L228.62,116.2 L229.49,116.32 L230.1,116.4" fill="none" stroke="#d0436c" stroke-width="1.3"/>
<g fill="#fff" stroke="#d0436c" stroke-width="1.0"><circle cx="50.1" cy="122.7" r="1.5"/><circle cx="54.6" cy="122.5" r="1.5"/><circle cx="59.1" cy="122" r="1.5"/><circle cx="63.6" cy="120.4" r="1.5"/><circle cx="68.1" cy="115.8" r="1.5"/><circle cx="72.6" cy="110.8" r="1.5"/><circle cx="77.1" cy="103" r="1.5"/><circle cx="81.6" cy="90.7" r="1.5"/><circle cx="86.1" cy="74.7" r="1.5"/><circle cx="90.6" cy="55.5" r="1.5"/><circle cx="95.1" cy="44.8" r="1.5"/><circle cx="99.6" cy="49" r="1.5"/><circle cx="104.1" cy="62" r="1.5"/><circle cx="108.6" cy="75.7" r="1.5"/><circle cx="113.1" cy="87.3" r="1.5"/><circle cx="117.6" cy="92.6" r="1.5"/><circle cx="122.1" cy="93.8" r="1.5"/><circle cx="126.6" cy="93.8" r="1.5"/><circle cx="131.1" cy="97.9" r="1.5"/><circle cx="135.6" cy="98.6" r="1.5"/><circle cx="140.1" cy="98.9" r="1.5"/><circle cx="144.6" cy="100.2" r="1.5"/><circle cx="149.1" cy="101.7" r="1.5"/><circle cx="153.6" cy="104.7" r="1.5"/><circle cx="158.1" cy="104.7" r="1.5"/><circle cx="162.6" cy="107.4" r="1.5"/><circle cx="167.1" cy="108.5" r="1.5"/><circle cx="171.6" cy="110" r="1.5"/><circle cx="176.1" cy="109.5" r="1.5"/><circle cx="180.6" cy="111" r="1.5"/><circle cx="185.1" cy="110.8" r="1.5"/><circle cx="189.6" cy="111.8" r="1.5"/><circle cx="194.1" cy="113" r="1.5"/><circle cx="198.6" cy="113" r="1.5"/><circle cx="203.1" cy="112.3" r="1.5"/><circle cx="207.6" cy="113.5" r="1.5"/><circle cx="212.1" cy="113.8" r="1.5"/><circle cx="216.6" cy="114.5" r="1.5"/><circle cx="221.1" cy="115.3" r="1.5"/><circle cx="225.6" cy="115.8" r="1.5"/><circle cx="230.1" cy="116.4" r="1.5"/></g>
<path d="M50.1,104.7 L50.71,104.69 L51.58,104.68 L52.58,104.66 L53.63,104.61 L54.6,104.5 L55.5,104.33 L56.4,104.11 L57.3,103.86 L58.2,103.58 L59.1,103.3 L60,103.02 L60.9,102.74 L61.8,102.43 L62.7,102.09 L63.6,101.7 L64.5,101.27 L65.4,100.82 L66.3,100.32 L67.2,99.76 L68.1,99.1 L69,98.38 L69.9,97.6 L70.8,96.74 L71.7,95.75 L72.6,94.6 L73.5,93.32 L74.4,91.92 L75.3,90.38 L76.2,88.65 L77.1,86.7 L78,84.48 L78.9,82.01 L79.8,79.37 L80.7,76.61 L81.6,73.8 L82.5,70.85 L83.4,67.71 L84.3,64.53 L85.2,61.45 L86.1,58.6 L87,56 L87.9,53.56 L88.8,51.25 L89.7,49.07 L90.6,47 L91.5,44.82 L92.4,42.54 L93.3,40.49 L94.2,39 L95.1,38.4 L96,38.91 L96.9,40.32 L97.8,42.28 L98.7,44.49 L99.6,46.6 L100.5,48.7 L101.4,50.99 L102.3,53.38 L103.2,55.75 L104.1,58 L105,60.15 L105.9,62.26 L106.8,64.32 L107.7,66.27 L108.6,68.1 L109.5,69.83 L110.4,71.48 L111.3,73.01 L112.2,74.36 L113.1,75.5 L114,76.32 L114.9,76.85 L115.8,77.24 L116.7,77.65 L117.6,78.2 L118.5,79.02 L119.4,80.01 L120.3,81 L121.2,81.82 L122.1,82.3 L123,82.37 L123.9,82.14 L124.8,81.73 L125.7,81.24 L126.6,80.8 L127.5,80.34 L128.4,79.79 L129.3,79.24 L130.2,78.78 L131.1,78.5 L132,78.46 L132.9,78.6 L133.8,78.83 L134.7,79.06 L135.6,79.2 L136.5,79.17 L137.4,79.03 L138.3,78.9 L139.2,78.92 L140.1,79.2 L141,79.88 L141.9,80.88 L142.8,82 L143.7,83.04 L144.6,83.8 L145.5,84.23 L146.4,84.45 L147.3,84.56 L148.2,84.64 L149.1,84.8 L150,85.01 L150.9,85.23 L151.8,85.45 L152.7,85.71 L153.6,86 L154.5,86.36 L155.4,86.79 L156.3,87.23 L157.2,87.65 L158.1,88 L159,88.29 L159.9,88.55 L160.8,88.77 L161.7,88.92 L162.6,89 L163.5,88.91 L164.4,88.66 L165.3,88.38 L166.2,88.22 L167.1,88.3 L168,88.73 L168.9,89.41 L169.8,90.21 L170.7,90.95 L171.6,91.5 L172.5,91.83 L173.4,92.03 L174.3,92.15 L175.2,92.23 L176.1,92.3 L177,92.34 L177.9,92.32 L178.8,92.29 L179.7,92.27 L180.6,92.3 L181.5,92.39 L182.4,92.52 L183.3,92.68 L184.2,92.84 L185.1,93 L186,93.16 L186.9,93.34 L187.8,93.51 L188.7,93.67 L189.6,93.8 L190.5,93.9 L191.4,93.97 L192.3,94.03 L193.2,94.07 L194.1,94.1 L195,94.13 L195.9,94.16 L196.8,94.17 L197.7,94.16 L198.6,94.1 L199.5,93.95 L200.4,93.7 L201.3,93.46 L202.2,93.29 L203.1,93.3 L204,93.54 L204.9,93.96 L205.8,94.46 L206.7,94.94 L207.6,95.3 L208.5,95.54 L209.4,95.72 L210.3,95.85 L211.2,95.94 L212.1,96 L213,96.04 L213.9,96.05 L214.8,96.02 L215.7,95.94 L216.6,95.8 L217.5,95.5 L218.4,95.06 L219.3,94.6 L220.2,94.27 L221.1,94.2 L222,94.48 L222.9,95.02 L223.8,95.69 L224.7,96.33 L225.6,96.8 L226.57,97.09 L227.62,97.29 L228.62,97.42 L229.49,97.52 L230.1,97.6" fill="none" stroke="#ad2890" stroke-width="1.3"/>
<g fill="#fff" stroke="#ad2890" stroke-width="1.0"><circle cx="50.1" cy="104.7" r="1.5"/><circle cx="54.6" cy="104.5" r="1.5"/><circle cx="59.1" cy="103.3" r="1.5"/><circle cx="63.6" cy="101.7" r="1.5"/><circle cx="68.1" cy="99.1" r="1.5"/><circle cx="72.6" cy="94.6" r="1.5"/><circle cx="77.1" cy="86.7" r="1.5"/><circle cx="81.6" cy="73.8" r="1.5"/><circle cx="86.1" cy="58.6" r="1.5"/><circle cx="90.6" cy="47" r="1.5"/><circle cx="95.1" cy="38.4" r="1.5"/><circle cx="99.6" cy="46.6" r="1.5"/><circle cx="104.1" cy="58" r="1.5"/><circle cx="108.6" cy="68.1" r="1.5"/><circle cx="113.1" cy="75.5" r="1.5"/><circle cx="117.6" cy="78.2" r="1.5"/><circle cx="122.1" cy="82.3" r="1.5"/><circle cx="126.6" cy="80.8" r="1.5"/><circle cx="131.1" cy="78.5" r="1.5"/><circle cx="135.6" cy="79.2" r="1.5"/><circle cx="140.1" cy="79.2" r="1.5"/><circle cx="144.6" cy="83.8" r="1.5"/><circle cx="149.1" cy="84.8" r="1.5"/><circle cx="153.6" cy="86" r="1.5"/><circle cx="158.1" cy="88" r="1.5"/><circle cx="162.6" cy="89" r="1.5"/><circle cx="167.1" cy="88.3" r="1.5"/><circle cx="171.6" cy="91.5" r="1.5"/><circle cx="176.1" cy="92.3" r="1.5"/><circle cx="180.6" cy="92.3" r="1.5"/><circle cx="185.1" cy="93" r="1.5"/><circle cx="189.6" cy="93.8" r="1.5"/><circle cx="194.1" cy="94.1" r="1.5"/><circle cx="198.6" cy="94.1" r="1.5"/><circle cx="203.1" cy="93.3" r="1.5"/><circle cx="207.6" cy="95.3" r="1.5"/><circle cx="212.1" cy="96" r="1.5"/><circle cx="216.6" cy="95.8" r="1.5"/><circle cx="221.1" cy="94.2" r="1.5"/><circle cx="225.6" cy="96.8" r="1.5"/><circle cx="230.1" cy="97.6" r="1.5"/></g>
<path d="M50.1,87.4 L50.71,87.28 L51.58,87.1 L52.58,86.9 L53.63,86.69 L54.6,86.5 L55.5,86.33 L56.4,86.17 L57.3,86.01 L58.2,85.85 L59.1,85.7 L60,85.58 L60.9,85.49 L61.8,85.4 L62.7,85.25 L63.6,85 L64.5,84.66 L65.4,84.24 L66.3,83.76 L67.2,83.22 L68.1,82.6 L69,81.97 L69.9,81.31 L70.8,80.57 L71.7,79.65 L72.6,78.5 L73.5,77.03 L74.4,75.29 L75.3,73.39 L76.2,71.46 L77.1,69.6 L78,67.9 L78.9,66.27 L79.8,64.61 L80.7,62.79 L81.6,60.7 L82.5,58.25 L83.4,55.51 L84.3,52.63 L85.2,49.75 L86.1,47 L87,44.24 L87.9,41.39 L88.8,38.65 L89.7,36.24 L90.6,34.4 L91.5,33.2 L92.4,32.51 L93.3,32.18 L94.2,32.09 L95.1,32.1 L96,32.16 L96.9,32.36 L97.8,32.77 L98.7,33.49 L99.6,34.6 L100.5,36.3 L101.4,38.54 L102.3,41.01 L103.2,43.4 L104.1,45.4 L105,46.94 L105.9,48.21 L106.8,49.34 L107.7,50.46 L108.6,51.7 L109.5,53.15 L110.4,54.72 L111.3,56.27 L112.2,57.68 L113.1,58.8 L114,59.53 L114.9,59.96 L115.8,60.24 L116.7,60.54 L117.6,61 L118.5,61.72 L119.4,62.59 L120.3,63.48 L121.2,64.26 L122.1,64.8 L123,65.08 L123.9,65.18 L124.8,65.14 L125.7,65 L126.6,64.8 L127.5,64.46 L128.4,63.95 L129.3,63.4 L130.2,62.91 L131.1,62.6 L132,62.48 L132.9,62.47 L133.8,62.56 L134.7,62.74 L135.6,63 L136.5,63.41 L137.4,63.97 L138.3,64.58 L139.2,65.16 L140.1,65.6 L141,65.86 L141.9,66.02 L142.8,66.12 L143.7,66.22 L144.6,66.4 L145.5,66.66 L146.4,66.96 L147.3,67.29 L148.2,67.61 L149.1,67.9 L150,68.15 L150.9,68.37 L151.8,68.59 L152.7,68.83 L153.6,69.1 L154.5,69.45 L155.4,69.85 L156.3,70.26 L157.2,70.63 L158.1,70.9 L159,71.06 L159.9,71.14 L160.8,71.17 L161.7,71.18 L162.6,71.2 L163.5,71.2 L164.4,71.16 L165.3,71.13 L166.2,71.13 L167.1,71.2 L168,71.36 L168.9,71.59 L169.8,71.86 L170.7,72.14 L171.6,72.4 L172.5,72.63 L173.4,72.84 L174.3,73.06 L175.2,73.31 L176.1,73.6 L177,73.99 L177.9,74.48 L178.8,74.96 L179.7,75.37 L180.6,75.6 L181.5,75.57 L182.4,75.33 L183.3,75.03 L184.2,74.81 L185.1,74.8 L186,75.11 L186.9,75.64 L187.8,76.25 L188.7,76.78 L189.6,77.1 L190.5,77.13 L191.4,76.97 L192.3,76.72 L193.2,76.5 L194.1,76.4 L195,76.46 L195.9,76.61 L196.8,76.8 L197.7,76.98 L198.6,77.1 L199.5,77.15 L200.4,77.16 L201.3,77.16 L202.2,77.13 L203.1,77.1 L204,77.04 L204.9,76.93 L205.8,76.83 L206.7,76.78 L207.6,76.8 L208.5,76.94 L209.4,77.17 L210.3,77.44 L211.2,77.7 L212.1,77.9 L213,78.02 L213.9,78.09 L214.8,78.14 L215.7,78.21 L216.6,78.3 L217.5,78.43 L218.4,78.58 L219.3,78.74 L220.2,78.91 L221.1,79.1 L222,79.34 L222.9,79.62 L223.8,79.9 L224.7,80.12 L225.6,80.2 L226.57,80.1 L227.62,79.87 L228.62,79.57 L229.49,79.28 L230.1,79.1" fill="none" stroke="#7d12a8" stroke-width="1.3"/>
<g fill="#fff" stroke="#7d12a8" stroke-width="1.0"><circle cx="50.1" cy="87.4" r="1.5"/><circle cx="54.6" cy="86.5" r="1.5"/><circle cx="59.1" cy="85.7" r="1.5"/><circle cx="63.6" cy="85" r="1.5"/><circle cx="68.1" cy="82.6" r="1.5"/><circle cx="72.6" cy="78.5" r="1.5"/><circle cx="77.1" cy="69.6" r="1.5"/><circle cx="81.6" cy="60.7" r="1.5"/><circle cx="86.1" cy="47" r="1.5"/><circle cx="90.6" cy="34.4" r="1.5"/><circle cx="95.1" cy="32.1" r="1.5"/><circle cx="99.6" cy="34.6" r="1.5"/><circle cx="104.1" cy="45.4" r="1.5"/><circle cx="108.6" cy="51.7" r="1.5"/><circle cx="113.1" cy="58.8" r="1.5"/><circle cx="117.6" cy="61" r="1.5"/><circle cx="122.1" cy="64.8" r="1.5"/><circle cx="126.6" cy="64.8" r="1.5"/><circle cx="131.1" cy="62.6" r="1.5"/><circle cx="135.6" cy="63" r="1.5"/><circle cx="140.1" cy="65.6" r="1.5"/><circle cx="144.6" cy="66.4" r="1.5"/><circle cx="149.1" cy="67.9" r="1.5"/><circle cx="153.6" cy="69.1" r="1.5"/><circle cx="158.1" cy="70.9" r="1.5"/><circle cx="162.6" cy="71.2" r="1.5"/><circle cx="167.1" cy="71.2" r="1.5"/><circle cx="171.6" cy="72.4" r="1.5"/><circle cx="176.1" cy="73.6" r="1.5"/><circle cx="180.6" cy="75.6" r="1.5"/><circle cx="185.1" cy="74.8" r="1.5"/><circle cx="189.6" cy="77.1" r="1.5"/><circle cx="194.1" cy="76.4" r="1.5"/><circle cx="198.6" cy="77.1" r="1.5"/><circle cx="203.1" cy="77.1" r="1.5"/><circle cx="207.6" cy="76.8" r="1.5"/><circle cx="212.1" cy="77.9" r="1.5"/><circle cx="216.6" cy="78.3" r="1.5"/><circle cx="221.1" cy="79.1" r="1.5"/><circle cx="225.6" cy="80.2" r="1.5"/><circle cx="230.1" cy="79.1" r="1.5"/></g>
<path d="M50.1,69.4 L50.71,69.29 L51.58,69.13 L52.58,68.94 L53.63,68.76 L54.6,68.6 L55.5,68.48 L56.4,68.39 L57.3,68.3 L58.2,68.18 L59.1,68 L60,67.74 L60.9,67.43 L61.8,67.09 L62.7,66.74 L63.6,66.4 L64.5,66.11 L65.4,65.86 L66.3,65.59 L67.2,65.25 L68.1,64.8 L69,64.25 L69.9,63.63 L70.8,62.92 L71.7,62.08 L72.6,61.1 L73.5,59.97 L74.4,58.72 L75.3,57.34 L76.2,55.8 L77.1,54.1 L78,52.2 L78.9,50.11 L79.8,47.88 L80.7,45.56 L81.6,43.2 L82.5,40.78 L83.4,38.28 L84.3,35.7 L85.2,33.07 L86.1,30.4 L87,27.48 L87.9,24.31 L88.8,21.18 L89.7,18.41 L90.6,16.3 L91.5,14.97 L92.4,14.23 L93.3,13.88 L94.2,13.73 L95.1,13.6 L96,13.4 L96.9,13.26 L97.8,13.29 L98.7,13.63 L99.6,14.4 L100.5,15.71 L101.4,17.49 L102.3,19.56 L103.2,21.72 L104.1,23.8 L105,25.88 L105.9,28.09 L106.8,30.29 L107.7,32.37 L108.6,34.2 L109.5,35.74 L110.4,37.08 L111.3,38.27 L112.2,39.36 L113.1,40.4 L114,41.4 L114.9,42.34 L115.8,43.18 L116.7,43.91 L117.6,44.5 L118.5,44.91 L119.4,45.16 L120.3,45.3 L121.2,45.43 L122.1,45.6 L123,45.89 L123.9,46.24 L124.8,46.56 L125.7,46.75 L126.6,46.7 L127.5,46.28 L128.4,45.56 L129.3,44.73 L130.2,44.01 L131.1,43.6 L132,43.57 L132.9,43.78 L133.8,44.12 L134.7,44.5 L135.6,44.8 L136.5,45.04 L137.4,45.3 L138.3,45.54 L139.2,45.75 L140.1,45.9 L141,45.92 L141.9,45.84 L142.8,45.74 L143.7,45.73 L144.6,45.9 L145.5,46.34 L146.4,46.99 L147.3,47.71 L148.2,48.39 L149.1,48.9 L150,49.22 L150.9,49.43 L151.8,49.56 L152.7,49.65 L153.6,49.7 L154.5,49.65 L155.4,49.49 L156.3,49.31 L157.2,49.25 L158.1,49.4 L159,49.9 L159.9,50.67 L160.8,51.52 L161.7,52.26 L162.6,52.7 L163.5,52.71 L164.4,52.41 L165.3,52.01 L166.2,51.71 L167.1,51.7 L168,52.09 L168.9,52.76 L169.8,53.53 L170.7,54.26 L171.6,54.8 L172.5,55.09 L173.4,55.24 L174.3,55.32 L175.2,55.41 L176.1,55.6 L177,55.94 L177.9,56.38 L178.8,56.83 L179.7,57.2 L180.6,57.4 L181.5,57.35 L182.4,57.12 L183.3,56.81 L184.2,56.54 L185.1,56.4 L186,56.43 L186.9,56.55 L187.8,56.73 L188.7,56.93 L189.6,57.1 L190.5,57.27 L191.4,57.45 L192.3,57.63 L193.2,57.79 L194.1,57.9 L195,57.91 L195.9,57.83 L196.8,57.75 L197.7,57.75 L198.6,57.9 L199.5,58.32 L200.4,58.94 L201.3,59.62 L202.2,60.19 L203.1,60.5 L204,60.47 L204.9,60.2 L205.8,59.81 L206.7,59.44 L207.6,59.2 L208.5,59.12 L209.4,59.12 L210.3,59.16 L211.2,59.2 L212.1,59.2 L213,59.12 L213.9,58.98 L214.8,58.85 L215.7,58.8 L216.6,58.9 L217.5,59.21 L218.4,59.67 L219.3,60.21 L220.2,60.75 L221.1,61.2 L222,61.59 L222.9,61.98 L223.8,62.32 L224.7,62.57 L225.6,62.7 L226.57,62.64 L227.62,62.43 L228.62,62.15 L229.49,61.88 L230.1,61.7" fill="none" stroke="#4a14a0" stroke-width="1.3"/>
<g fill="#fff" stroke="#4a14a0" stroke-width="1.0"><circle cx="50.1" cy="69.4" r="1.5"/><circle cx="54.6" cy="68.6" r="1.5"/><circle cx="59.1" cy="68" r="1.5"/><circle cx="63.6" cy="66.4" r="1.5"/><circle cx="68.1" cy="64.8" r="1.5"/><circle cx="72.6" cy="61.1" r="1.5"/><circle cx="77.1" cy="54.1" r="1.5"/><circle cx="81.6" cy="43.2" r="1.5"/><circle cx="86.1" cy="30.4" r="1.5"/><circle cx="90.6" cy="16.3" r="1.5"/><circle cx="95.1" cy="13.6" r="1.5"/><circle cx="99.6" cy="14.4" r="1.5"/><circle cx="104.1" cy="23.8" r="1.5"/><circle cx="108.6" cy="34.2" r="1.5"/><circle cx="113.1" cy="40.4" r="1.5"/><circle cx="117.6" cy="44.5" r="1.5"/><circle cx="122.1" cy="45.6" r="1.5"/><circle cx="126.6" cy="46.7" r="1.5"/><circle cx="131.1" cy="43.6" r="1.5"/><circle cx="135.6" cy="44.8" r="1.5"/><circle cx="140.1" cy="45.9" r="1.5"/><circle cx="144.6" cy="45.9" r="1.5"/><circle cx="149.1" cy="48.9" r="1.5"/><circle cx="153.6" cy="49.7" r="1.5"/><circle cx="158.1" cy="49.4" r="1.5"/><circle cx="162.6" cy="52.7" r="1.5"/><circle cx="167.1" cy="51.7" r="1.5"/><circle cx="171.6" cy="54.8" r="1.5"/><circle cx="176.1" cy="55.6" r="1.5"/><circle cx="180.6" cy="57.4" r="1.5"/><circle cx="185.1" cy="56.4" r="1.5"/><circle cx="189.6" cy="57.1" r="1.5"/><circle cx="194.1" cy="57.9" r="1.5"/><circle cx="198.6" cy="57.9" r="1.5"/><circle cx="203.1" cy="60.5" r="1.5"/><circle cx="207.6" cy="59.2" r="1.5"/><circle cx="212.1" cy="59.2" r="1.5"/><circle cx="216.6" cy="58.9" r="1.5"/><circle cx="221.1" cy="61.2" r="1.5"/><circle cx="225.6" cy="62.7" r="1.5"/><circle cx="230.1" cy="61.7" r="1.5"/></g>
<rect x="47.5" y="9.5" width="184.5" height="153.5" fill="none" stroke="#8c8c8c" stroke-width="1"/>
<line x1="50.1" y1="163" x2="50.1" y2="167.8" stroke="#777" stroke-width="1"/>
<line x1="59.1" y1="163" x2="59.1" y2="166.2" stroke="#777" stroke-width="1"/>
<line x1="68.1" y1="163" x2="68.1" y2="166.2" stroke="#777" stroke-width="1"/>
<line x1="77.1" y1="163" x2="77.1" y2="166.2" stroke="#777" stroke-width="1"/>
<line x1="86.1" y1="163" x2="86.1" y2="166.2" stroke="#777" stroke-width="1"/>
<line x1="95.1" y1="163" x2="95.1" y2="167.8" stroke="#777" stroke-width="1"/>
<line x1="104.1" y1="163" x2="104.1" y2="166.2" stroke="#777" stroke-width="1"/>
<line x1="113.1" y1="163" x2="113.1" y2="166.2" stroke="#777" stroke-width="1"/>
<line x1="122.1" y1="163" x2="122.1" y2="166.2" stroke="#777" stroke-width="1"/>
<line x1="131.1" y1="163" x2="131.1" y2="166.2" stroke="#777" stroke-width="1"/>
<line x1="140.1" y1="163" x2="140.1" y2="167.8" stroke="#777" stroke-width="1"/>
<line x1="149.1" y1="163" x2="149.1" y2="166.2" stroke="#777" stroke-width="1"/>
<line x1="158.1" y1="163" x2="158.1" y2="166.2" stroke="#777" stroke-width="1"/>
<line x1="167.1" y1="163" x2="167.1" y2="166.2" stroke="#777" stroke-width="1"/>
<line x1="176.1" y1="163" x2="176.1" y2="166.2" stroke="#777" stroke-width="1"/>
<line x1="185.1" y1="163" x2="185.1" y2="167.8" stroke="#777" stroke-width="1"/>
<line x1="194.1" y1="163" x2="194.1" y2="166.2" stroke="#777" stroke-width="1"/>
<line x1="203.1" y1="163" x2="203.1" y2="166.2" stroke="#777" stroke-width="1"/>
<line x1="212.1" y1="163" x2="212.1" y2="166.2" stroke="#777" stroke-width="1"/>
<line x1="221.1" y1="163" x2="221.1" y2="166.2" stroke="#777" stroke-width="1"/>
<line x1="230.1" y1="163" x2="230.1" y2="167.8" stroke="#777" stroke-width="1"/>
<text x="50.1" y="179" font-size="10.5" text-anchor="middle">-50</text>
<text x="95.1" y="179" font-size="10.5" text-anchor="middle">0</text>
<text x="140.1" y="179" font-size="10.5" text-anchor="middle">50</text>
<text x="185.1" y="179" font-size="10.5" text-anchor="middle">100</text>
<text x="230.1" y="179" font-size="10.5" text-anchor="middle">150</text>
<text x="131.6" y="191.2" font-size="12" text-anchor="middle">Energy loss (meV)</text>
<text transform="translate(25.6,72.3) rotate(-90)" font-size="11.8" text-anchor="middle">Intensity (arb. units)</text>
<text x="181.2" y="25.3" font-size="12">T=10K</text>
<text x="209.8" y="51.8" font-size="17">K</text>
<text x="210.6" y="146.9" font-size="17">Γ</text>
<line x1="206.8" y1="65" x2="206.8" y2="143" stroke="#111" stroke-width="1.3"/>
<path d="M206.8,60.3 L209.1,65.8 L204.5,65.8 Z" fill="#111"/>
<path d="M206.8,148.3 L204.5,142.8 L209.1,142.8 Z" fill="#111"/>
<text x="0.5" y="13.3" font-size="17" font-weight="bold">a</text>
<rect x="51.7" y="201.7" width="179.6" height="181.6" fill="none" stroke="#8c8c8c" stroke-width="1"/>
<line x1="47.3" y1="379.2" x2="51.7" y2="379.2" stroke="#666" stroke-width="1"/>
<line x1="231.3" y1="379.2" x2="234.8" y2="379.2" stroke="#666" stroke-width="1"/>
<text x="45.4" y="382.7" font-size="10" text-anchor="end">0</text>
<line x1="47.3" y1="352.55" x2="51.7" y2="352.55" stroke="#666" stroke-width="1"/>
<line x1="231.3" y1="352.55" x2="234.8" y2="352.55" stroke="#666" stroke-width="1"/>
<text x="45.4" y="356.05" font-size="10" text-anchor="end">10</text>
<line x1="47.3" y1="325.9" x2="51.7" y2="325.9" stroke="#666" stroke-width="1"/>
<line x1="231.3" y1="325.9" x2="234.8" y2="325.9" stroke="#666" stroke-width="1"/>
<text x="45.4" y="329.4" font-size="10" text-anchor="end">20</text>
<line x1="47.3" y1="299.25" x2="51.7" y2="299.25" stroke="#666" stroke-width="1"/>
<line x1="231.3" y1="299.25" x2="234.8" y2="299.25" stroke="#666" stroke-width="1"/>
<text x="45.4" y="302.75" font-size="10" text-anchor="end">30</text>
<line x1="47.3" y1="272.6" x2="51.7" y2="272.6" stroke="#666" stroke-width="1"/>
<line x1="231.3" y1="272.6" x2="234.8" y2="272.6" stroke="#666" stroke-width="1"/>
<text x="45.4" y="276.1" font-size="10" text-anchor="end">40</text>
<line x1="47.3" y1="245.95" x2="51.7" y2="245.95" stroke="#666" stroke-width="1"/>
<line x1="231.3" y1="245.95" x2="234.8" y2="245.95" stroke="#666" stroke-width="1"/>
<text x="45.4" y="249.45" font-size="10" text-anchor="end">50</text>
<line x1="47.3" y1="219.3" x2="51.7" y2="219.3" stroke="#666" stroke-width="1"/>
<line x1="231.3" y1="219.3" x2="234.8" y2="219.3" stroke="#666" stroke-width="1"/>
<text x="45.4" y="222.8" font-size="10" text-anchor="end">60</text>
<line x1="55.3" y1="383.3" x2="55.3" y2="387.8" stroke="#777" stroke-width="1"/>
<line x1="89.6" y1="383.3" x2="89.6" y2="387.8" stroke="#777" stroke-width="1"/>
<line x1="123.9" y1="383.3" x2="123.9" y2="387.8" stroke="#777" stroke-width="1"/>
<line x1="158.5" y1="383.3" x2="158.5" y2="387.8" stroke="#777" stroke-width="1"/>
<line x1="192.6" y1="383.3" x2="192.6" y2="387.8" stroke="#777" stroke-width="1"/>
<line x1="226.6" y1="383.3" x2="226.6" y2="387.8" stroke="#777" stroke-width="1"/>
<path d="M53.8,266.47 L89.6,264.61 L106.8,261.67 L158.6,237.69 L192.3,243.28 L228.3,246.75" fill="none" stroke="#fdd6a2" stroke-width="8.2" stroke-linejoin="round"/>
<path d="M53.8,314.17 L89.6,321.37 L106.8,315.24 L158.6,290.99 L192.3,300.05 L228.3,297.65" fill="none" stroke="#e2a2d3" stroke-width="8.2" stroke-linejoin="round"/>
<line x1="89.6" y1="260" x2="89.6" y2="269.21" stroke="#f7890c" stroke-width="0.8"/>
<line x1="89.6" y1="316.77" x2="89.6" y2="325.97" stroke="#9b0a6e" stroke-width="0.8"/>
<line x1="158.6" y1="233.09" x2="158.6" y2="242.29" stroke="#f7890c" stroke-width="0.8"/>
<line x1="158.6" y1="286.39" x2="158.6" y2="295.59" stroke="#9b0a6e" stroke-width="0.8"/>
<line x1="192.3" y1="238.69" x2="192.3" y2="247.88" stroke="#f7890c" stroke-width="0.8"/>
<line x1="192.3" y1="295.45" x2="192.3" y2="304.65" stroke="#9b0a6e" stroke-width="0.8"/>
<circle cx="55.3" cy="266.47" r="3.85" fill="#f7890c"/>
<circle cx="89.6" cy="264.61" r="3.85" fill="#f7890c"/>
<circle cx="106.8" cy="261.67" r="3.85" fill="#f7890c"/>
<circle cx="158.6" cy="237.69" r="3.85" fill="#f7890c"/>
<circle cx="192.3" cy="243.28" r="3.85" fill="#f7890c"/>
<circle cx="226.8" cy="246.75" r="3.85" fill="#f7890c"/>
<circle cx="55.3" cy="314.17" r="3.75" fill="#9b0a6e"/>
<circle cx="89.6" cy="321.37" r="3.75" fill="#9b0a6e"/>
<circle cx="106.8" cy="315.24" r="3.75" fill="#9b0a6e"/>
<circle cx="158.6" cy="290.99" r="3.75" fill="#9b0a6e"/>
<circle cx="192.3" cy="300.05" r="3.75" fill="#9b0a6e"/>
<circle cx="226.8" cy="297.65" r="3.75" fill="#9b0a6e"/>
<text x="66.6" y="248.7" font-size="11.5" font-style="italic">E<tspan font-size="8.2" dy="2.6">g1</tspan></text>
<line x1="65.2" y1="252.2" x2="81.8" y2="252.2" stroke="#222" stroke-width="0.8"/>
<line x1="65.2" y1="252.2" x2="54.5" y2="260.5" stroke="#222" stroke-width="0.8"/>
<path d="M52,262.4 L53.93,259.01 L55.77,261.39 Z" fill="#222"/>
<text x="66.8" y="294.3" font-size="11.5" font-style="italic">E<tspan font-size="8.2" dy="2.6">g2</tspan></text>
<line x1="64.7" y1="300" x2="81.3" y2="300" stroke="#222" stroke-width="0.8"/>
<line x1="64.7" y1="300" x2="53.9" y2="308" stroke="#222" stroke-width="0.8"/>
<path d="M51.4,309.9 L53.39,306.55 L55.18,308.95 Z" fill="#222"/>
<circle cx="159.1" cy="263.2" r="3.75" fill="#9b0a6e"/>
<circle cx="159.1" cy="275.3" r="3.75" fill="#f7890c"/>
<text x="175" y="267" font-size="11.3">1st mode</text>
<text x="175" y="279.1" font-size="11.3">2d mode</text>
<text x="53" y="379.3" font-size="16">Γ</text>
<text x="219" y="379.5" font-size="16">K</text>
<text transform="translate(21.3,290.8) rotate(-90)" font-size="12" text-anchor="middle" xml:space="preserve">Magnon energy  (meV)</text>
<text x="-0.6" y="203" font-size="18" font-weight="bold">b</text>
<polygon points="146.1,307.8 171,307.1 180.4,309.8 156.6,310.2" fill="#efa766" stroke="#8a7a80" stroke-width="0.4"/>
<polygon points="146.1,307.8 156.6,310.2 150.3,333.3 133.1,349.5 123.6,343.4 130.1,322.2" fill="#b8674e" stroke="#8a7a80" stroke-width="0.4"/>
<polygon points="156.6,310.2 180.4,309.8 197.6,327.6 193.7,351.5 168.5,353.5 150.3,333.3" fill="#fffbe8" stroke="#8a7a80" stroke-width="0.4"/>
<polygon points="150.3,333.3 168.5,353.5 150.3,369.7 133.1,349.5" fill="#b48ba2" stroke="#8a7a80" stroke-width="0.4"/>
<polygon points="123.6,343.4 133.1,349.5 150.3,369.7 152.3,379.2" fill="#6c2f3f" stroke="#8a7a80" stroke-width="0.4"/>
<polygon points="150.3,369.7 168.5,353.5 193.7,351.5 195.8,362.6 178.6,375.8 152.3,379.2" fill="#7272b2" stroke="#8a7a80" stroke-width="0.4"/>
<polygon points="197.6,327.6 199.8,340.4 195.8,362.6 193.7,351.5" fill="#a9c2da" stroke="#8a7a80" stroke-width="0.4"/>
<line x1="166.9" y1="337.4" x2="166" y2="305.5" stroke="#111" stroke-width="0.8"/>
<path d="M165.9,302 L167.68,305.97 L164.28,306.03 Z" fill="#111"/>
<line x1="166.9" y1="337.4" x2="201.5" y2="338.4" stroke="#111" stroke-width="0.8"/>
<path d="M205.2,338.5 L201.17,340.12 L201.23,336.72 Z" fill="#111"/>
<line x1="166.9" y1="337.4" x2="130.5" y2="359.8" stroke="#111" stroke-width="0.8"/>
<path d="M127.3,361.8 L129.84,358.32 L131.54,361.04 Z" fill="#111"/>
<line x1="166.9" y1="337.4" x2="174.5" y2="329.9" stroke="#19b2e6" stroke-width="1.3"/>
<line x1="174.5" y1="329.9" x2="182.6" y2="350.9" stroke="#19b2e6" stroke-width="1.3"/>
<line x1="166.9" y1="337.4" x2="182.6" y2="350.9" stroke="#19b2e6" stroke-width="1.4" stroke-dasharray="1.3,1.3"/>
<circle cx="166.9" cy="337.4" r="2.2" fill="#19b2e6"/>
<circle cx="174.5" cy="329.9" r="2.2" fill="#19b2e6"/>
<circle cx="182.6" cy="350.9" r="2.2" fill="#19b2e6"/>
<text x="157.4" y="336.9" font-size="11" font-weight="bold">Γ</text>
<text x="178.6" y="328.4" font-size="11" font-weight="bold">L</text>
<text x="179.2" y="362.9" font-size="10.5" font-weight="bold">K</text>
<path d="M325.5,349.2 L325.89,349.08 L326.29,348.95 L326.69,348.8 L327.08,348.66 L327.48,348.5 L327.87,348.35 L328.26,348.19 L328.66,348.03 L329.06,347.87 L329.45,347.71 L329.85,347.54 L330.24,347.38 L330.63,347.21 L331.03,347.04 L331.43,346.87 L331.82,346.7 L332.21,346.52 L332.61,346.35 L333,346.18 L333.4,346 L333.8,345.82 L334.19,345.65 L334.58,345.47 L334.98,345.29 L335.38,345.11 L335.77,344.93 L336.17,344.75 L336.56,344.57 L336.95,344.38 L337.35,344.2 L337.75,344.02 L338.14,343.83 L338.54,343.65 L338.93,343.46 L339.32,343.28 L339.72,343.09 L340.12,342.9 L340.51,342.72 L340.9,342.53 L341.3,342.34 L341.69,342.15 L342.09,341.96 L342.49,341.77 L342.88,341.58 L343.27,341.39 L343.67,341.2 L344.06,341.01 L344.46,340.82 L344.86,340.62 L345.25,340.43 L345.64,340.24 L346.04,340.05 L346.44,339.85 L346.83,339.66 L347.23,339.46 L347.62,339.27 L348.01,339.07 L348.41,338.88 L348.81,338.68 L349.2,338.48 L349.6,338.29 L349.99,338.09 L350.38,337.89 L350.78,337.7 L351.18,337.5 L351.57,337.3 L351.96,337.31 L352.36,337.34 L352.75,337.39 L353.15,337.46 L353.55,337.55 L353.94,337.66 L354.33,337.78 L354.73,337.92 L355.12,338.08 L355.52,338.25 L355.92,338.43 L356.31,338.62 L356.7,338.82 L357.1,339.03 L357.5,339.24 L357.89,339.46 L358.29,339.68 L358.68,339.91 L359.07,340.13 L359.47,340.36 L359.87,340.59 L360.26,340.81 L360.65,341.04 L361.05,341.26 L361.44,341.48 L361.84,341.69 L362.24,341.9 L362.63,342.11 L363.02,342.31 L363.42,342.51 L363.81,342.7 L364.21,342.89 L364.61,343.07 L365,343.25 L365.39,343.42 L365.79,343.59 L366.19,343.75 L366.58,343.91 L366.98,344.06 L367.37,344.21 L367.76,344.35 L368.16,344.49 L368.56,344.62 L368.95,344.75 L369.35,344.88 L369.74,345 L370.13,345.11 L370.53,345.22 L370.93,345.33 L371.32,345.44 L371.72,345.54 L372.11,345.64 L372.5,345.73 L372.9,345.82 L373.3,345.91 L373.69,345.99 L374.08,346.08 L374.48,346.16 L374.88,346.23 L375.27,346.31 L375.67,346.38 L376.06,346.45 L376.45,346.52 L376.85,346.58 L377.25,346.64 L377.64,346.7 L378.04,346.76 L378.43,346.82 L378.82,346.88 L379.22,346.93 L379.62,346.98 L380.01,347.03 L380.4,347.08 L380.8,347.13 L381.19,347.17 L381.59,347.22 L381.99,347.26 L382.38,347.3 L382.77,347.34 L383.17,347.38 L383.56,347.42 L383.96,347.45 L384.36,347.49 L384.75,347.52 L385.14,347.56 L385.54,347.59 L385.94,347.62 L386.33,347.65 L386.73,347.68 L387.12,347.71 L387.51,347.74 L387.91,347.77 L388.31,347.8 L388.7,347.82 L389.1,347.85 L389.49,347.87 L389.88,347.9 L390.28,347.92 L390.68,347.94 L391.07,347.97 L391.47,347.99 L391.86,348.01 L392.25,348.03 L392.65,348.05 L393.05,348.07 L393.44,348.09 L393.84,348.11 L394.23,348.13 L394.62,348.14 L395.02,348.16 L395.42,348.18 L395.81,348.2 L396.2,348.21 L396.6,348.23 L397,348.24 L397.39,348.26 L397.78,348.27 L398.18,348.29 L398.57,348.3 L398.97,348.32 L399.37,348.33 L399.76,348.34 L400.15,348.36 L400.55,348.37 L400.94,348.38 L401.34,348.39 L401.74,348.4 L402.13,348.42 L402.52,348.43 L402.92,348.44 L403.31,348.45 L403.71,348.46 L404.11,348.47 L404.5,348.48 L404.89,348.49 L405.29,348.5 L405.69,348.51 L406.08,348.52 L406.48,348.53 L406.87,348.54 L407.26,348.55 L407.66,348.55 L408.06,348.56 L408.45,348.57 L408.85,348.58 L409.24,348.59 L409.63,348.6 L410.03,348.6 L410.43,348.61 L410.82,348.62 L411.22,348.63 L411.61,348.63 L412,348.64 L412.4,348.65 L412.8,348.65 L413.19,348.66 L413.59,348.67 L413.98,348.67 L414.38,348.68 L414.77,348.69 L415.17,348.69 L415.56,348.7 L415.95,348.7 L416.35,348.71 L416.75,348.72 L417.14,348.72 L417.54,348.73 L417.93,348.73 L418.32,348.74 L418.72,348.74 L419.12,348.75 L419.51,348.75 L419.9,348.76 L420.3,348.76 L420.69,348.77 L421.09,348.77 L421.49,348.78 L421.88,348.78 L422.27,348.79 L422.67,348.79 L423.06,348.79 L423.46,348.8 L423.86,348.8 L424.25,348.81 L424.64,348.81 L425.04,348.82 L425.44,348.82 L425.83,348.82 L426.23,348.83 L426.62,348.83 L427.01,348.83 L427.41,348.84 L427.81,348.84 L428.2,348.85 L428.6,348.85 L428.99,348.85 L429.38,348.86 L429.78,348.86 L430.18,348.86 L430.57,348.87 L430.97,348.87 L431.36,348.87 L431.75,348.88 L432.15,348.88 L432.55,348.88 L432.94,348.88 L433.34,348.89 L433.73,348.89 L434.12,348.89 L434.52,348.9 L434.92,348.9 L435.31,348.9 L435.7,348.9 L436.1,348.91 L436.5,348.91 L436.89,348.91 L437.29,348.91 L437.68,348.92 L438.07,348.92 L438.47,348.92 L438.87,348.92 L439.26,348.93 L439.65,348.93 L440.05,348.93 L440.44,348.93 L440.84,348.94 L441.24,348.94 L441.63,348.94 L442.02,348.94 L442.42,348.95 L442.81,348.95 L443.21,348.95 L443.61,348.95 L444,348.95 L444,350.8 L325.5,350.8 Z" fill="#eed2d6"/>
<path d="M286,349.2 L286.39,349.2 L286.79,349.2 L287.19,349.2 L287.58,349.2 L287.98,349.2 L288.37,349.2 L288.76,349.2 L289.16,349.2 L289.56,349.2 L289.95,349.2 L290.35,349.2 L290.74,349.2 L291.13,349.2 L291.53,349.2 L291.93,349.2 L292.32,349.2 L292.71,349.2 L293.11,349.2 L293.5,349.2 L293.9,349.2 L294.3,349.2 L294.69,349.2 L295.08,349.2 L295.48,349.2 L295.88,349.2 L296.27,349.2 L296.67,349.2 L297.06,349.2 L297.45,349.2 L297.85,349.2 L298.25,349.2 L298.64,349.2 L299.04,349.2 L299.43,349.2 L299.82,349.2 L300.22,349.2 L300.62,349.2 L301.01,349.2 L301.4,349.2 L301.8,349.2 L302.19,349.2 L302.59,349.2 L302.99,349.2 L303.38,349.2 L303.77,349.2 L304.17,349.2 L304.56,349.2 L304.96,349.2 L305.36,349.2 L305.75,349.2 L306.14,349.2 L306.54,349.2 L306.94,349.2 L307.33,349.2 L307.73,349.2 L308.12,349.2 L308.51,349.2 L308.91,349.2 L309.31,349.2 L309.7,349.2 L310.1,349.2 L310.49,349.2 L310.88,349.2 L311.28,349.2 L311.68,349.2 L312.07,349.2 L312.46,349.2 L312.86,349.2 L313.25,349.2 L313.65,349.2 L314.05,349.2 L314.44,349.2 L314.83,349.2 L315.23,349.2 L315.62,349.2 L316.02,349.2 L316.42,349.2 L316.81,349.2 L317.2,349.2 L317.6,349.2 L318,349.2 L318.39,349.2 L318.79,349.2 L319.18,349.2 L319.57,349.2 L319.97,349.2 L320.37,349.2 L320.76,349.2 L321.15,349.2 L321.55,349.2 L321.94,349.2 L322.34,349.2 L322.74,349.2 L323.13,349.2 L323.52,349.2 L323.92,349.2 L324.31,349.2 L324.71,349.2 L325.11,349.2 L325.5,349.2 L325.89,349.08 L326.29,348.95 L326.69,348.8 L327.08,348.66 L327.48,348.5 L327.87,348.35 L328.26,348.19 L328.66,348.03 L329.06,347.87 L329.45,347.71 L329.85,347.54 L330.24,347.38 L330.63,347.21 L331.03,347.04 L331.43,346.87 L331.82,346.7 L332.21,346.52 L332.61,346.35 L333,346.18 L333.4,346 L333.8,345.82 L334.19,345.65 L334.58,345.47 L334.98,345.29 L335.38,345.11 L335.77,344.93 L336.17,344.75 L336.56,344.57 L336.95,344.38 L337.35,344.2 L337.75,344.02 L338.14,343.83 L338.54,343.65 L338.93,343.46 L339.32,343.28 L339.72,343.09 L340.12,342.9 L340.51,342.72 L340.9,342.53 L341.3,342.34 L341.69,342.15 L342.09,341.96 L342.49,341.77 L342.88,341.58 L343.27,341.39 L343.67,341.2 L344.06,341.01 L344.46,340.82 L344.86,340.62 L345.25,340.43 L345.64,340.24 L346.04,340.05 L346.44,339.85 L346.83,339.66 L347.23,339.46 L347.62,339.27 L348.01,339.07 L348.41,338.88 L348.81,338.68 L349.2,338.48 L349.6,338.29 L349.99,338.09 L350.38,337.89 L350.78,337.7 L351.18,337.5 L351.57,337.3 L351.96,337.31 L352.36,337.34 L352.75,337.39 L353.15,337.46 L353.55,337.55 L353.94,337.66 L354.33,337.78 L354.73,337.92 L355.12,338.08 L355.52,338.25 L355.92,338.43 L356.31,338.62 L356.7,338.82 L357.1,339.03 L357.5,339.24 L357.89,339.46 L358.29,339.68 L358.68,339.91 L359.07,340.13 L359.47,340.36 L359.87,340.59 L360.26,340.81 L360.65,341.04 L361.05,341.26 L361.44,341.48 L361.84,341.69 L362.24,341.9 L362.63,342.11 L363.02,342.31 L363.42,342.51 L363.81,342.7 L364.21,342.89 L364.61,343.07 L365,343.25 L365.39,343.42 L365.79,343.59 L366.19,343.75 L366.58,343.91 L366.98,344.06 L367.37,344.21 L367.76,344.35 L368.16,344.49 L368.56,344.62 L368.95,344.75 L369.35,344.88 L369.74,345 L370.13,345.11 L370.53,345.22 L370.93,345.33 L371.32,345.44 L371.72,345.54 L372.11,345.64 L372.5,345.73 L372.9,345.82 L373.3,345.91 L373.69,345.99 L374.08,346.08 L374.48,346.16 L374.88,346.23 L375.27,346.31 L375.67,346.38 L376.06,346.45 L376.45,346.52 L376.85,346.58 L377.25,346.64 L377.64,346.7 L378.04,346.76 L378.43,346.82 L378.82,346.88 L379.22,346.93 L379.62,346.98 L380.01,347.03 L380.4,347.08 L380.8,347.13 L381.19,347.17 L381.59,347.22 L381.99,347.26 L382.38,347.3 L382.77,347.34 L383.17,347.38 L383.56,347.42 L383.96,347.45 L384.36,347.49 L384.75,347.52 L385.14,347.56 L385.54,347.59 L385.94,347.62 L386.33,347.65 L386.73,347.68 L387.12,347.71 L387.51,347.74 L387.91,347.77 L388.31,347.8 L388.7,347.82 L389.1,347.85 L389.49,347.87 L389.88,347.9 L390.28,347.92 L390.68,347.94 L391.07,347.97 L391.47,347.99 L391.86,348.01 L392.25,348.03 L392.65,348.05 L393.05,348.07 L393.44,348.09 L393.84,348.11 L394.23,348.13 L394.62,348.14 L395.02,348.16 L395.42,348.18 L395.81,348.2 L396.2,348.21 L396.6,348.23 L397,348.24 L397.39,348.26 L397.78,348.27 L398.18,348.29 L398.57,348.3 L398.97,348.32 L399.37,348.33 L399.76,348.34 L400.15,348.36 L400.55,348.37 L400.94,348.38 L401.34,348.39 L401.74,348.4 L402.13,348.42 L402.52,348.43 L402.92,348.44 L403.31,348.45 L403.71,348.46 L404.11,348.47 L404.5,348.48 L404.89,348.49 L405.29,348.5 L405.69,348.51 L406.08,348.52 L406.48,348.53 L406.87,348.54 L407.26,348.55 L407.66,348.55 L408.06,348.56 L408.45,348.57 L408.85,348.58 L409.24,348.59 L409.63,348.6 L410.03,348.6 L410.43,348.61 L410.82,348.62 L411.22,348.63 L411.61,348.63 L412,348.64 L412.4,348.65 L412.8,348.65 L413.19,348.66 L413.59,348.67 L413.98,348.67 L414.38,348.68 L414.77,348.69 L415.17,348.69 L415.56,348.7 L415.95,348.7 L416.35,348.71 L416.75,348.72 L417.14,348.72 L417.54,348.73 L417.93,348.73 L418.32,348.74 L418.72,348.74 L419.12,348.75 L419.51,348.75 L419.9,348.76 L420.3,348.76 L420.69,348.77 L421.09,348.77 L421.49,348.78 L421.88,348.78 L422.27,348.79 L422.67,348.79 L423.06,348.79 L423.46,348.8 L423.86,348.8 L424.25,348.81 L424.64,348.81 L425.04,348.82 L425.44,348.82 L425.83,348.82 L426.23,348.83 L426.62,348.83 L427.01,348.83 L427.41,348.84 L427.81,348.84 L428.2,348.85 L428.6,348.85 L428.99,348.85 L429.38,348.86 L429.78,348.86 L430.18,348.86 L430.57,348.87 L430.97,348.87 L431.36,348.87 L431.75,348.88 L432.15,348.88 L432.55,348.88 L432.94,348.88 L433.34,348.89 L433.73,348.89 L434.12,348.89 L434.52,348.9 L434.92,348.9 L435.31,348.9 L435.7,348.9 L436.1,348.91 L436.5,348.91 L436.89,348.91 L437.29,348.91 L437.68,348.92 L438.07,348.92 L438.47,348.92 L438.87,348.92 L439.26,348.93 L439.65,348.93 L440.05,348.93 L440.44,348.93 L440.84,348.94 L441.24,348.94 L441.63,348.94 L442.02,348.94 L442.42,348.95 L442.81,348.95 L443.21,348.95 L443.61,348.95 L444,348.95" fill="none" stroke="#b30f2e" stroke-width="1.1"/>
<path d="M321.55,349.2 L322.41,349.08 L323.6,348.93 L325.01,348.75 L326.52,348.53 L328.04,348.28 L329.45,348 L330.72,347.67 L331.94,347.3 L333.15,346.9 L334.42,346.47 L335.8,346.04 L337.35,345.6 L339.03,345.14 L340.8,344.66 L342.68,344.16 L344.69,343.67 L346.86,343.21 L349.2,342.8 L351.59,342.45 L354,342.14 L356.56,341.87 L359.41,341.6 L362.7,341.32 L366.58,341 L371.07,340.64 L376.06,340.24 L381.49,339.83 L387.3,339.43 L393.41,339.04 L399.76,338.7 L407.01,338.39 L415.33,338.09 L423.95,337.81 L432.12,337.56 L439.06,337.35 L444,337.2" fill="none" stroke="#b30f2e" stroke-width="1.4" stroke-dasharray="3,2.6"/>
<path d="M325,275.56 L325.5,275.73 L326,276.02 L326.5,276.42 L327,276.93 L327.5,277.54 L328,278.27 L328.5,279.09 L329,280.02 L329.5,281.04 L330,282.14 L330.5,283.33 L331,284.61 L331.5,285.95 L332,287.36 L332.5,288.83 L333,290.36 L333.5,291.94 L334,293.56 L334.5,295.22 L335,296.9 L335.5,298.62 L336,300.34 L336.5,302.08 L337,303.83 L337.5,305.58 L338,307.32 L338.5,309.05 L339,310.76 L339.5,312.45 L340,314.12 L340.5,315.76 L341,317.37 L341.5,318.94 L342,320.48 L342.5,321.97 L343,323.42 L343.5,324.82 L344,326.18 L344.5,327.48 L345,328.74 L345.5,329.94 L346,331.1 L346.5,332.2 L347,333.25 L347.5,334.25 L348,335.2 L348.5,336.1 L349,336.95 L349.5,337.76 L350,338.51 L350.5,339.22 L351,339.89 L351.5,340.51 L352,341.1 L352.5,341.64 L353,342.15 L353.5,342.62 L354,343.05 L354.5,343.46 L355,343.83 L355.5,344.18 L356,344.49 L356.5,344.78 L357,345.05 L357.5,345.29 L358,345.52 L358.5,345.72 L359,345.9 L359.5,346.07 L360,346.22 L360.5,346.36 L361,346.49 L361.5,346.6 L362,346.7 L362.5,346.79 L363,346.87 L363.5,346.95 L364,347.01 L364.5,347.07 L365,347.12 L365.5,347.17 L366,347.21 L366.5,347.25 L367,347.28 L367.5,347.31 L368,347.33 L368.5,347.35 L369,347.37 L369.5,347.39 L370,347.4 L370.5,347.42 L371,347.43 L371.5,347.44 L372,347.45 L372.5,347.45 L373,347.46 L373.5,347.47 L374,347.47 L374.5,347.48 L375,347.48 L375.5,347.48 L376,347.49 L376.5,347.49 L377,347.49 L377.5,347.49 L378,347.49 L378.5,347.49 L379,347.49 L379.5,347.5 L380,347.5 L380.5,347.5 L381,347.5 L381.5,347.5 L382,347.5 L382.5,347.5 L383,347.5 L383.5,347.5 L384,347.5 L384.5,347.5 L385,347.5 L385.5,347.5 L386,347.5 L386.5,347.5 L387,347.5 L387.5,347.5 L388,347.5 L388.5,347.5 L389,347.5 L389.5,347.5 L390,347.5 L390.5,347.5 L391,347.5 L391.5,347.5 L392,347.5 L392.5,347.5 L393,347.5 L393.5,347.5 L394,347.5 L394.5,347.5 L395,347.5 L395.5,347.5 L396,347.5 L396.5,347.5 L397,347.5 L397.5,347.5 L398,347.5 L398.5,347.5 L399,347.5 L399.5,347.5 L400,347.5 L400.5,347.5 L401,347.5 L401.5,347.5 L402,347.5 L402.5,347.5 L403,347.5 L403.5,347.5 L404,347.5 L404.5,347.5 L405,347.5 L405.5,347.5 L406,347.5 L406.5,347.5 L407,347.5 L407.5,347.5 L408,347.5 L408.5,347.5 L409,347.5 L409.5,347.5 L410,347.5 L410.5,347.5 L411,347.5 L411.5,347.5 L412,347.5 L412.5,347.5 L413,347.5 L413.5,347.5 L414,347.5 L414.5,347.5 L415,347.5 L415.5,347.5 L416,347.5 L416.5,347.5 L417,347.5 L417.5,347.5 L418,347.5 L418.5,347.5 L419,347.5 L419.5,347.5 L420,347.5 L420.5,347.5 L421,347.5 L421.5,347.5 L422,347.5 L422.5,347.5 L423,347.5 L423.5,347.5 L424,347.5 L424.5,347.5 L425,347.5 L425.5,347.5 L426,347.5 L426.5,347.5 L427,347.5 L427.5,347.5 L428,347.5 L428.5,347.5 L429,347.5 L429.5,347.5 L430,347.5 L430.5,347.5 L431,347.5 L431.5,347.5 L432,347.5 L432.5,347.5 L433,347.5 L433.5,347.5 L434,347.5 L434.5,347.5 L435,347.5 L435.5,347.5 L436,347.5 L436.5,347.5 L437,347.5 L437.5,347.5 L438,347.5 L438.5,347.5 L439,347.5 L439.5,347.5 L440,347.5 L440.5,347.5 L441,347.5 L441.5,347.5 L442,347.5 L442.5,347.5 L443,347.5 L443.5,347.5 L444,347.5 L444.5,347.5" fill="none" stroke="#555" stroke-width="0.8" stroke-dasharray="0.9,1.2"/>
<path d="M286,48.22 L286.39,48.2 L286.79,48.18 L287.19,48.15 L287.58,48.12 L287.98,48.09 L288.37,48.06 L288.76,48.03 L289.16,48 L289.56,47.96 L289.95,47.92 L290.35,47.88 L290.74,47.84 L291.13,47.8 L291.53,47.75 L291.93,47.7 L292.32,47.64 L292.71,47.59 L293.11,47.53 L293.5,47.46 L293.9,47.39 L294.3,47.32 L294.69,47.24 L295.08,47.16 L295.48,47.07 L295.88,46.97 L296.27,46.87 L296.67,46.77 L297.06,46.65 L297.45,46.53 L297.85,46.4 L298.25,46.27 L298.64,46.13 L299.04,45.97 L299.43,45.81 L299.82,45.64 L300.22,45.46 L300.62,45.28 L301.01,45.08 L301.4,44.86 L301.8,44.64 L302.19,44.41 L302.59,44.16 L302.99,43.91 L303.38,43.64 L303.77,43.35 L304.17,43.06 L304.56,42.75 L304.96,42.43 L305.36,42.09 L305.75,41.74 L306.14,41.38 L306.54,41 L306.94,40.6 L307.33,40.2 L307.73,39.78 L308.12,39.34 L308.51,38.89 L308.91,38.43 L309.31,37.95 L309.7,37.46 L310.1,36.95 L310.49,36.44 L310.88,35.91 L311.28,35.36 L311.68,34.81 L312.07,34.25 L312.46,33.67 L312.86,33.09 L313.25,32.5 L313.65,31.9 L314.05,31.29 L314.44,30.68 L314.83,30.07 L315.23,29.45 L315.62,28.83 L316.02,28.21 L316.42,27.59 L316.81,26.98 L317.2,26.37 L317.6,25.77 L318,25.19 L318.39,24.61 L318.79,24.05 L319.18,23.51 L319.57,22.99 L319.97,22.5 L320.37,22.03 L320.76,21.6 L321.15,21.2 L321.55,20.84 L321.94,20.52 L322.34,20.25 L322.74,20.02 L323.13,19.84 L323.52,19.71 L323.92,19.63 L324.31,19.6 L324.71,19.65 L325.11,19.8 L325.5,20.04 L325.89,20.34 L326.29,20.63 L326.69,20.93 L327.08,21.24 L327.48,21.57 L327.87,21.92 L328.26,22.29 L328.66,22.68 L329.06,23.11 L329.45,23.57 L329.85,24.07 L330.24,24.62 L330.63,25.19 L331.03,25.75 L331.43,26.3 L331.82,26.84 L332.21,27.38 L332.61,27.9 L333,28.42 L333.4,28.92 L333.8,29.42 L334.19,29.91 L334.58,30.39 L334.98,30.87 L335.38,31.34 L335.77,31.79 L336.17,32.22 L336.56,32.64 L336.95,33.03 L337.35,33.4 L337.75,33.75 L338.14,34.07 L338.54,34.37 L338.93,34.64 L339.32,34.89 L339.72,35.11 L340.12,35.31 L340.51,35.49 L340.9,35.65 L341.3,35.77 L341.69,35.87 L342.09,35.95 L342.49,36 L342.88,36.03 L343.27,36.05 L343.67,36.05 L344.06,36.04 L344.46,36.02 L344.86,35.99 L345.25,35.96 L345.64,35.92 L346.04,35.87 L346.44,35.83 L346.83,35.79 L347.23,35.74 L347.62,35.71 L348.01,35.67 L348.41,35.65 L348.81,35.63 L349.2,35.62 L349.6,35.63 L349.99,35.64 L350.38,35.66 L350.78,35.69 L351.18,35.71 L351.57,35.74 L351.96,35.77 L352.36,35.8 L352.75,35.83 L353.15,35.87 L353.55,35.9 L353.94,35.94 L354.33,35.99 L354.73,36.03 L355.12,36.08 L355.52,36.12 L355.92,36.17 L356.31,36.22 L356.7,36.28 L357.1,36.33 L357.5,36.39 L357.89,36.45 L358.29,36.51 L358.68,36.57 L359.07,36.63 L359.47,36.69 L359.87,36.76 L360.26,36.82 L360.65,36.89 L361.05,36.96 L361.44,37.02 L361.84,37.09 L362.24,37.16 L362.63,37.23 L363.02,37.3 L363.42,37.37 L363.81,37.44 L364.21,37.51 L364.61,37.57 L365,37.64 L365.39,37.71 L365.79,37.78 L366.19,37.85 L366.58,37.91 L366.98,37.98 L367.37,38.04 L367.76,38.1 L368.16,38.17 L368.56,38.23 L368.95,38.29 L369.35,38.34 L369.74,38.4 L370.13,38.45 L370.53,38.51 L370.93,38.56 L371.32,38.61 L371.72,38.66 L372.11,38.72 L372.5,38.77 L372.9,38.82 L373.3,38.88 L373.69,38.93 L374.08,38.99 L374.48,39.04 L374.88,39.1 L375.27,39.15 L375.67,39.2 L376.06,39.26 L376.45,39.31 L376.85,39.37 L377.25,39.42 L377.64,39.48 L378.04,39.53 L378.43,39.59 L378.82,39.64 L379.22,39.7 L379.62,39.75 L380.01,39.8 L380.4,39.86 L380.8,39.91 L381.19,39.96 L381.59,40.02 L381.99,40.07 L382.38,40.12 L382.77,40.17 L383.17,40.22 L383.56,40.27 L383.96,40.32 L384.36,40.37 L384.75,40.42 L385.14,40.46 L385.54,40.51 L385.94,40.55 L386.33,40.6 L386.73,40.64 L387.12,40.69 L387.51,40.73 L387.91,40.77 L388.31,40.81 L388.7,40.85 L389.1,40.89 L389.49,40.93 L389.88,40.97 L390.28,41 L390.68,41.04 L391.07,41.08 L391.47,41.11 L391.86,41.15 L392.25,41.18 L392.65,41.21 L393.05,41.25 L393.44,41.28 L393.84,41.31 L394.23,41.34 L394.62,41.37 L395.02,41.4 L395.42,41.43 L395.81,41.46 L396.2,41.49 L396.6,41.52 L397,41.55 L397.39,41.58 L397.78,41.61 L398.18,41.63 L398.57,41.66 L398.97,41.69 L399.37,41.72 L399.76,41.74 L400.15,41.77 L400.55,41.79 L400.94,41.82 L401.34,41.84 L401.74,41.87 L402.13,41.89 L402.52,41.92 L402.92,41.94 L403.31,41.97 L403.71,41.99 L404.11,42.01 L404.5,42.04 L404.89,42.06 L405.29,42.09 L405.69,42.11 L406.08,42.13 L406.48,42.16 L406.87,42.18 L407.26,42.2 L407.66,42.23 L408.06,42.25 L408.45,42.27 L408.85,42.29 L409.24,42.32 L409.63,42.34 L410.03,42.36 L410.43,42.39 L410.82,42.41 L411.22,42.43 L411.61,42.45 L412,42.47 L412.4,42.5 L412.8,42.52 L413.19,42.54 L413.59,42.56 L413.98,42.58 L414.38,42.6 L414.77,42.63 L415.17,42.65 L415.56,42.67 L415.95,42.69 L416.35,42.71 L416.75,42.73 L417.14,42.75 L417.54,42.77 L417.93,42.79 L418.32,42.81 L418.72,42.83 L419.12,42.86 L419.51,42.88 L419.9,42.9 L420.3,42.92 L420.69,42.94 L421.09,42.96 L421.49,42.98 L421.88,43 L422.27,43.02 L422.67,43.04 L423.06,43.06 L423.46,43.08 L423.86,43.1 L424.25,43.12 L424.64,43.13 L425.04,43.15 L425.44,43.17 L425.83,43.19 L426.23,43.21 L426.62,43.23 L427.01,43.25 L427.41,43.27 L427.81,43.29 L428.2,43.31 L428.6,43.33 L428.99,43.35 L429.38,43.37 L429.78,43.39 L430.18,43.41 L430.57,43.42 L430.97,43.44 L431.36,43.46 L431.75,43.48 L432.15,43.5 L432.55,43.52 L432.94,43.54 L433.34,43.56 L433.73,43.58 L434.12,43.6 L434.52,43.62 L434.92,43.64 L435.31,43.66 L435.7,43.67 L436.1,43.69 L436.5,43.71 L436.89,43.73 L437.29,43.75 L437.68,43.77 L438.07,43.79 L438.47,43.81 L438.87,43.83 L439.26,43.85 L439.65,43.87 L440.05,43.89 L440.44,43.91 L440.84,43.93 L441.24,43.95 L441.63,43.97 L442.02,43.99 L442.42,44.01 L442.81,44.03 L443.21,44.05 L443.61,44.07 L444,44.09" fill="none" stroke="#2a2f8c" stroke-width="2.35" stroke-linejoin="round"/>
<path d="M286,66.83 L286.39,66.8 L286.79,66.77 L287.19,66.74 L287.58,66.71 L287.98,66.68 L288.37,66.65 L288.76,66.61 L289.16,66.57 L289.56,66.53 L289.95,66.49 L290.35,66.45 L290.74,66.4 L291.13,66.35 L291.53,66.29 L291.93,66.23 L292.32,66.17 L292.71,66.11 L293.11,66.04 L293.5,65.97 L293.9,65.89 L294.3,65.8 L294.69,65.71 L295.08,65.62 L295.48,65.52 L295.88,65.41 L296.27,65.3 L296.67,65.18 L297.06,65.05 L297.45,64.92 L297.85,64.77 L298.25,64.62 L298.64,64.46 L299.04,64.29 L299.43,64.11 L299.82,63.92 L300.22,63.71 L300.62,63.5 L301.01,63.28 L301.4,63.04 L301.8,62.79 L302.19,62.53 L302.59,62.26 L302.99,61.97 L303.38,61.67 L303.77,61.36 L304.17,61.03 L304.56,60.68 L304.96,60.33 L305.36,59.95 L305.75,59.57 L306.14,59.16 L306.54,58.75 L306.94,58.31 L307.33,57.86 L307.73,57.4 L308.12,56.92 L308.51,56.43 L308.91,55.92 L309.31,55.4 L309.7,54.86 L310.1,54.31 L310.49,53.75 L310.88,53.17 L311.28,52.58 L311.68,51.98 L312.07,51.37 L312.46,50.75 L312.86,50.12 L313.25,49.48 L313.65,48.84 L314.05,48.19 L314.44,47.53 L314.83,46.88 L315.23,46.22 L315.62,45.56 L316.02,44.9 L316.42,44.25 L316.81,43.6 L317.2,42.97 L317.6,42.34 L318,41.73 L318.39,41.14 L318.79,40.56 L319.18,40.01 L319.57,39.48 L319.97,38.99 L320.37,38.53 L320.76,38.1 L321.15,37.72 L321.55,37.38 L321.94,37.09 L322.34,36.84 L322.74,36.65 L323.13,36.51 L323.52,36.43 L323.92,36.4 L324.31,36.45 L324.71,36.61 L325.11,36.87 L325.5,37.23 L325.89,37.63 L326.29,38 L326.69,38.37 L327.08,38.74 L327.48,39.12 L327.87,39.5 L328.26,39.92 L328.66,40.36 L329.06,40.84 L329.45,41.38 L329.85,41.93 L330.24,42.47 L330.63,43 L331.03,43.53 L331.43,44.04 L331.82,44.54 L332.21,45.03 L332.61,45.52 L333,46.01 L333.4,46.49 L333.8,46.98 L334.19,47.48 L334.58,47.96 L334.98,48.43 L335.38,48.87 L335.77,49.29 L336.17,49.68 L336.56,50.06 L336.95,50.41 L337.35,50.75 L337.75,51.06 L338.14,51.34 L338.54,51.6 L338.93,51.84 L339.32,52.06 L339.72,52.26 L340.12,52.44 L340.51,52.61 L340.9,52.77 L341.3,52.94 L341.69,53.13 L342.09,53.31 L342.49,53.49 L342.88,53.67 L343.27,53.84 L343.67,53.99 L344.06,54.13 L344.46,54.24 L344.86,54.34 L345.25,54.4 L345.64,54.44 L346.04,54.46 L346.44,54.47 L346.83,54.47 L347.23,54.46 L347.62,54.43 L348.01,54.41 L348.41,54.37 L348.81,54.34 L349.2,54.29 L349.6,54.25 L349.99,54.21 L350.38,54.16 L350.78,54.12 L351.18,54.08 L351.57,54.04 L351.96,54.01 L352.36,53.98 L352.75,53.96 L353.15,53.95 L353.55,53.94 L353.94,53.94 L354.33,53.95 L354.73,53.98 L355.12,54.01 L355.52,54.04 L355.92,54.08 L356.31,54.12 L356.7,54.17 L357.1,54.22 L357.5,54.27 L357.89,54.33 L358.29,54.39 L358.68,54.45 L359.07,54.52 L359.47,54.58 L359.87,54.65 L360.26,54.72 L360.65,54.8 L361.05,54.87 L361.44,54.95 L361.84,55.02 L362.24,55.1 L362.63,55.18 L363.02,55.26 L363.42,55.34 L363.81,55.42 L364.21,55.5 L364.61,55.58 L365,55.66 L365.39,55.74 L365.79,55.81 L366.19,55.89 L366.58,55.96 L366.98,56.04 L367.37,56.11 L367.76,56.18 L368.16,56.25 L368.56,56.31 L368.95,56.38 L369.35,56.44 L369.74,56.5 L370.13,56.55 L370.53,56.6 L370.93,56.65 L371.32,56.7 L371.72,56.75 L372.11,56.8 L372.5,56.85 L372.9,56.89 L373.3,56.94 L373.69,56.99 L374.08,57.03 L374.48,57.08 L374.88,57.12 L375.27,57.17 L375.67,57.21 L376.06,57.26 L376.45,57.3 L376.85,57.35 L377.25,57.39 L377.64,57.43 L378.04,57.48 L378.43,57.52 L378.82,57.56 L379.22,57.6 L379.62,57.64 L380.01,57.68 L380.4,57.72 L380.8,57.77 L381.19,57.81 L381.59,57.85 L381.99,57.89 L382.38,57.92 L382.77,57.96 L383.17,58 L383.56,58.04 L383.96,58.08 L384.36,58.12 L384.75,58.16 L385.14,58.19 L385.54,58.23 L385.94,58.27 L386.33,58.31 L386.73,58.34 L387.12,58.38 L387.51,58.42 L387.91,58.45 L388.31,58.49 L388.7,58.53 L389.1,58.56 L389.49,58.6 L389.88,58.64 L390.28,58.67 L390.68,58.71 L391.07,58.74 L391.47,58.78 L391.86,58.81 L392.25,58.85 L392.65,58.88 L393.05,58.92 L393.44,58.95 L393.84,58.99 L394.23,59.02 L394.62,59.06 L395.02,59.09 L395.42,59.12 L395.81,59.16 L396.2,59.19 L396.6,59.23 L397,59.26 L397.39,59.3 L397.78,59.33 L398.18,59.36 L398.57,59.4 L398.97,59.43 L399.37,59.46 L399.76,59.5 L400.15,59.53 L400.55,59.56 L400.94,59.6 L401.34,59.63 L401.74,59.66 L402.13,59.7 L402.52,59.73 L402.92,59.76 L403.31,59.79 L403.71,59.83 L404.11,59.86 L404.5,59.89 L404.89,59.93 L405.29,59.96 L405.69,59.99 L406.08,60.02 L406.48,60.05 L406.87,60.09 L407.26,60.12 L407.66,60.15 L408.06,60.18 L408.45,60.21 L408.85,60.25 L409.24,60.28 L409.63,60.31 L410.03,60.34 L410.43,60.37 L410.82,60.4 L411.22,60.44 L411.61,60.47 L412,60.5 L412.4,60.53 L412.8,60.56 L413.19,60.59 L413.59,60.62 L413.98,60.66 L414.38,60.69 L414.77,60.72 L415.17,60.75 L415.56,60.78 L415.95,60.81 L416.35,60.84 L416.75,60.87 L417.14,60.9 L417.54,60.93 L417.93,60.96 L418.32,61 L418.72,61.03 L419.12,61.06 L419.51,61.09 L419.9,61.12 L420.3,61.15 L420.69,61.18 L421.09,61.21 L421.49,61.24 L421.88,61.27 L422.27,61.3 L422.67,61.33 L423.06,61.36 L423.46,61.39 L423.86,61.42 L424.25,61.45 L424.64,61.48 L425.04,61.52 L425.44,61.55 L425.83,61.58 L426.23,61.61 L426.62,61.64 L427.01,61.67 L427.41,61.7 L427.81,61.73 L428.2,61.76 L428.6,61.79 L428.99,61.82 L429.38,61.85 L429.78,61.88 L430.18,61.91 L430.57,61.94 L430.97,61.97 L431.36,62 L431.75,62.03 L432.15,62.06 L432.55,62.09 L432.94,62.12 L433.34,62.15 L433.73,62.18 L434.12,62.21 L434.52,62.25 L434.92,62.28 L435.31,62.31 L435.7,62.34 L436.1,62.37 L436.5,62.4 L436.89,62.43 L437.29,62.46 L437.68,62.49 L438.07,62.52 L438.47,62.55 L438.87,62.58 L439.26,62.61 L439.65,62.64 L440.05,62.67 L440.44,62.71 L440.84,62.74 L441.24,62.77 L441.63,62.8 L442.02,62.83 L442.42,62.86 L442.81,62.89 L443.21,62.92 L443.61,62.95 L444,62.99" fill="none" stroke="#3343a0" stroke-width="2.35" stroke-linejoin="round"/>
<path d="M286,84.52 L286.39,84.5 L286.79,84.47 L287.19,84.45 L287.58,84.42 L287.98,84.39 L288.37,84.36 L288.76,84.33 L289.16,84.29 L289.56,84.26 L289.95,84.22 L290.35,84.17 L290.74,84.13 L291.13,84.08 L291.53,84.03 L291.93,83.98 L292.32,83.93 L292.71,83.87 L293.11,83.8 L293.5,83.74 L293.9,83.67 L294.3,83.59 L294.69,83.51 L295.08,83.42 L295.48,83.33 L295.88,83.23 L296.27,83.13 L296.67,83.02 L297.06,82.9 L297.45,82.78 L297.85,82.65 L298.25,82.51 L298.64,82.36 L299.04,82.2 L299.43,82.04 L299.82,81.86 L300.22,81.68 L300.62,81.48 L301.01,81.28 L301.4,81.06 L301.8,80.83 L302.19,80.59 L302.59,80.34 L302.99,80.07 L303.38,79.79 L303.77,79.5 L304.17,79.2 L304.56,78.88 L304.96,78.55 L305.36,78.2 L305.75,77.84 L306.14,77.46 L306.54,77.07 L306.94,76.67 L307.33,76.25 L307.73,75.81 L308.12,75.36 L308.51,74.9 L308.91,74.42 L309.31,73.93 L309.7,73.42 L310.1,72.9 L310.49,72.37 L310.88,71.82 L311.28,71.26 L311.68,70.69 L312.07,70.11 L312.46,69.52 L312.86,68.91 L313.25,68.3 L313.65,67.69 L314.05,67.06 L314.44,66.43 L314.83,65.8 L315.23,65.16 L315.62,64.52 L316.02,63.88 L316.42,63.24 L316.81,62.61 L317.2,61.99 L317.6,61.37 L318,60.76 L318.39,60.17 L318.79,59.59 L319.18,59.03 L319.57,58.5 L319.97,57.99 L320.37,57.51 L320.76,57.06 L321.15,56.65 L321.55,56.28 L321.94,55.95 L322.34,55.67 L322.74,55.43 L323.13,55.24 L323.52,55.11 L323.92,55.03 L324.31,55 L324.71,55.05 L325.11,55.21 L325.5,55.46 L325.89,55.75 L326.29,56.05 L326.69,56.34 L327.08,56.65 L327.48,56.97 L327.87,57.31 L328.26,57.67 L328.66,58.06 L329.06,58.5 L329.45,58.97 L329.85,59.5 L330.24,60.08 L330.63,60.7 L331.03,61.33 L331.43,61.97 L331.82,62.6 L332.21,63.24 L332.61,63.86 L333,64.47 L333.4,65.06 L333.8,65.63 L334.19,66.18 L334.58,66.7 L334.98,67.19 L335.38,67.65 L335.77,68.08 L336.17,68.47 L336.56,68.81 L336.95,69.11 L337.35,69.38 L337.75,69.62 L338.14,69.82 L338.54,69.99 L338.93,70.14 L339.32,70.27 L339.72,70.39 L340.12,70.49 L340.51,70.59 L340.9,70.68 L341.3,70.75 L341.69,70.79 L342.09,70.81 L342.49,70.82 L342.88,70.81 L343.27,70.8 L343.67,70.78 L344.06,70.76 L344.46,70.74 L344.86,70.73 L345.25,70.72 L345.64,70.73 L346.04,70.74 L346.44,70.78 L346.83,70.83 L347.23,70.89 L347.62,70.97 L348.01,71.05 L348.41,71.15 L348.81,71.25 L349.2,71.36 L349.6,71.48 L349.99,71.61 L350.38,71.73 L350.78,71.86 L351.18,71.99 L351.57,72.12 L351.96,72.25 L352.36,72.38 L352.75,72.5 L353.15,72.61 L353.55,72.72 L353.94,72.82 L354.33,72.9 L354.73,72.98 L355.12,73.04 L355.52,73.11 L355.92,73.18 L356.31,73.24 L356.7,73.3 L357.1,73.36 L357.5,73.42 L357.89,73.48 L358.29,73.54 L358.68,73.6 L359.07,73.66 L359.47,73.71 L359.87,73.77 L360.26,73.82 L360.65,73.88 L361.05,73.93 L361.44,73.98 L361.84,74.04 L362.24,74.09 L362.63,74.14 L363.02,74.19 L363.42,74.24 L363.81,74.29 L364.21,74.34 L364.61,74.39 L365,74.44 L365.39,74.49 L365.79,74.54 L366.19,74.58 L366.58,74.63 L366.98,74.68 L367.37,74.73 L367.76,74.77 L368.16,74.82 L368.56,74.87 L368.95,74.92 L369.35,74.96 L369.74,75.01 L370.13,75.06 L370.53,75.1 L370.93,75.15 L371.32,75.2 L371.72,75.25 L372.11,75.29 L372.5,75.34 L372.9,75.39 L373.3,75.44 L373.69,75.48 L374.08,75.53 L374.48,75.58 L374.88,75.62 L375.27,75.67 L375.67,75.72 L376.06,75.77 L376.45,75.81 L376.85,75.86 L377.25,75.91 L377.64,75.96 L378.04,76 L378.43,76.05 L378.82,76.1 L379.22,76.14 L379.62,76.19 L380.01,76.24 L380.4,76.29 L380.8,76.33 L381.19,76.38 L381.59,76.43 L381.99,76.47 L382.38,76.52 L382.77,76.57 L383.17,76.61 L383.56,76.66 L383.96,76.71 L384.36,76.75 L384.75,76.8 L385.14,76.85 L385.54,76.89 L385.94,76.94 L386.33,76.99 L386.73,77.03 L387.12,77.08 L387.51,77.12 L387.91,77.17 L388.31,77.22 L388.7,77.26 L389.1,77.31 L389.49,77.35 L389.88,77.4 L390.28,77.44 L390.68,77.49 L391.07,77.53 L391.47,77.58 L391.86,77.62 L392.25,77.67 L392.65,77.71 L393.05,77.76 L393.44,77.8 L393.84,77.85 L394.23,77.89 L394.62,77.94 L395.02,77.98 L395.42,78.02 L395.81,78.07 L396.2,78.11 L396.6,78.15 L397,78.2 L397.39,78.24 L397.78,78.28 L398.18,78.33 L398.57,78.37 L398.97,78.41 L399.37,78.45 L399.76,78.5 L400.15,78.54 L400.55,78.58 L400.94,78.62 L401.34,78.66 L401.74,78.7 L402.13,78.74 L402.52,78.78 L402.92,78.83 L403.31,78.87 L403.71,78.91 L404.11,78.95 L404.5,78.99 L404.89,79.02 L405.29,79.06 L405.69,79.1 L406.08,79.14 L406.48,79.18 L406.87,79.22 L407.26,79.26 L407.66,79.3 L408.06,79.33 L408.45,79.37 L408.85,79.41 L409.24,79.44 L409.63,79.48 L410.03,79.52 L410.43,79.55 L410.82,79.59 L411.22,79.62 L411.61,79.66 L412,79.69 L412.4,79.73 L412.8,79.76 L413.19,79.8 L413.59,79.83 L413.98,79.87 L414.38,79.9 L414.77,79.93 L415.17,79.96 L415.56,80 L415.95,80.03 L416.35,80.06 L416.75,80.09 L417.14,80.13 L417.54,80.16 L417.93,80.19 L418.32,80.22 L418.72,80.25 L419.12,80.28 L419.51,80.31 L419.9,80.34 L420.3,80.37 L420.69,80.4 L421.09,80.43 L421.49,80.46 L421.88,80.49 L422.27,80.52 L422.67,80.55 L423.06,80.58 L423.46,80.61 L423.86,80.64 L424.25,80.67 L424.64,80.7 L425.04,80.72 L425.44,80.75 L425.83,80.78 L426.23,80.81 L426.62,80.84 L427.01,80.87 L427.41,80.89 L427.81,80.92 L428.2,80.95 L428.6,80.98 L428.99,81.01 L429.38,81.03 L429.78,81.06 L430.18,81.09 L430.57,81.12 L430.97,81.15 L431.36,81.17 L431.75,81.2 L432.15,81.23 L432.55,81.26 L432.94,81.28 L433.34,81.31 L433.73,81.34 L434.12,81.37 L434.52,81.4 L434.92,81.42 L435.31,81.45 L435.7,81.48 L436.1,81.51 L436.5,81.54 L436.89,81.56 L437.29,81.59 L437.68,81.62 L438.07,81.65 L438.47,81.68 L438.87,81.71 L439.26,81.73 L439.65,81.76 L440.05,81.79 L440.44,81.82 L440.84,81.85 L441.24,81.88 L441.63,81.91 L442.02,81.94 L442.42,81.97 L442.81,82 L443.21,82.03 L443.61,82.06 L444,82.09" fill="none" stroke="#3b61ae" stroke-width="2.35" stroke-linejoin="round"/>
<path d="M286,104.43 L286.39,104.4 L286.79,104.37 L287.19,104.33 L287.58,104.3 L287.98,104.26 L288.37,104.22 L288.76,104.17 L289.16,104.13 L289.56,104.08 L289.95,104.03 L290.35,103.98 L290.74,103.92 L291.13,103.86 L291.53,103.8 L291.93,103.73 L292.32,103.66 L292.71,103.58 L293.11,103.5 L293.5,103.41 L293.9,103.32 L294.3,103.22 L294.69,103.11 L295.08,103 L295.48,102.88 L295.88,102.76 L296.27,102.62 L296.67,102.48 L297.06,102.33 L297.45,102.17 L297.85,102 L298.25,101.81 L298.64,101.62 L299.04,101.42 L299.43,101.2 L299.82,100.98 L300.22,100.74 L300.62,100.48 L301.01,100.22 L301.4,99.93 L301.8,99.64 L302.19,99.32 L302.59,99 L302.99,98.65 L303.38,98.29 L303.77,97.91 L304.17,97.52 L304.56,97.1 L304.96,96.67 L305.36,96.22 L305.75,95.75 L306.14,95.26 L306.54,94.75 L306.94,94.23 L307.33,93.68 L307.73,93.12 L308.12,92.53 L308.51,91.93 L308.91,91.31 L309.31,90.67 L309.7,90.01 L310.1,89.34 L310.49,88.65 L310.88,87.94 L311.28,87.21 L311.68,86.47 L312.07,85.71 L312.46,84.95 L312.86,84.17 L313.25,83.37 L313.65,82.57 L314.05,81.76 L314.44,80.94 L314.83,80.12 L315.23,79.29 L315.62,78.46 L316.02,77.63 L316.42,76.8 L316.81,75.98 L317.2,75.17 L317.6,74.37 L318,73.58 L318.39,72.81 L318.79,72.06 L319.18,71.34 L319.57,70.64 L319.97,69.98 L320.37,69.36 L320.76,68.78 L321.15,68.25 L321.55,67.76 L321.94,67.33 L322.34,66.97 L322.74,66.66 L323.13,66.42 L323.52,66.24 L323.92,66.14 L324.31,66.1 L324.71,66.17 L325.11,66.37 L325.5,66.69 L325.89,67.09 L326.29,67.48 L326.69,67.88 L327.08,68.3 L327.48,68.74 L327.87,69.2 L328.26,69.69 L328.66,70.21 L329.06,70.77 L329.45,71.38 L329.85,72.03 L330.24,72.74 L330.63,73.47 L331.03,74.21 L331.43,74.92 L331.82,75.63 L332.21,76.32 L332.61,76.99 L333,77.64 L333.4,78.27 L333.8,78.88 L334.19,79.47 L334.58,80.03 L334.98,80.57 L335.38,81.07 L335.77,81.5 L336.17,81.89 L336.56,82.22 L336.95,82.52 L337.35,82.79 L337.75,83.04 L338.14,83.26 L338.54,83.47 L338.93,83.67 L339.32,83.88 L339.72,84.1 L340.12,84.35 L340.51,84.63 L340.9,84.94 L341.3,85.29 L341.69,85.67 L342.09,86.05 L342.49,86.44 L342.88,86.84 L343.27,87.21 L343.67,87.58 L344.06,87.91 L344.46,88.2 L344.86,88.46 L345.25,88.65 L345.64,88.81 L346.04,88.96 L346.44,89.09 L346.83,89.21 L347.23,89.32 L347.62,89.43 L348.01,89.52 L348.41,89.61 L348.81,89.69 L349.2,89.77 L349.6,89.84 L349.99,89.9 L350.38,89.96 L350.78,90.02 L351.18,90.07 L351.57,90.12 L351.96,90.17 L352.36,90.22 L352.75,90.26 L353.15,90.3 L353.55,90.34 L353.94,90.38 L354.33,90.42 L354.73,90.46 L355.12,90.49 L355.52,90.53 L355.92,90.56 L356.31,90.59 L356.7,90.62 L357.1,90.66 L357.5,90.69 L357.89,90.71 L358.29,90.74 L358.68,90.76 L359.07,90.78 L359.47,90.8 L359.87,90.82 L360.26,90.83 L360.65,90.85 L361.05,90.86 L361.44,90.87 L361.84,90.89 L362.24,90.9 L362.63,90.91 L363.02,90.92 L363.42,90.94 L363.81,90.95 L364.21,90.96 L364.61,90.98 L365,91 L365.39,91.01 L365.79,91.03 L366.19,91.05 L366.58,91.08 L366.98,91.1 L367.37,91.13 L367.76,91.16 L368.16,91.19 L368.56,91.23 L368.95,91.27 L369.35,91.31 L369.74,91.35 L370.13,91.39 L370.53,91.43 L370.93,91.47 L371.32,91.52 L371.72,91.56 L372.11,91.6 L372.5,91.64 L372.9,91.69 L373.3,91.73 L373.69,91.77 L374.08,91.82 L374.48,91.86 L374.88,91.9 L375.27,91.95 L375.67,91.99 L376.06,92.03 L376.45,92.08 L376.85,92.12 L377.25,92.17 L377.64,92.21 L378.04,92.26 L378.43,92.3 L378.82,92.35 L379.22,92.39 L379.62,92.44 L380.01,92.49 L380.4,92.53 L380.8,92.58 L381.19,92.62 L381.59,92.67 L381.99,92.72 L382.38,92.76 L382.77,92.81 L383.17,92.86 L383.56,92.9 L383.96,92.95 L384.36,93 L384.75,93.05 L385.14,93.09 L385.54,93.14 L385.94,93.19 L386.33,93.23 L386.73,93.28 L387.12,93.33 L387.51,93.38 L387.91,93.42 L388.31,93.47 L388.7,93.52 L389.1,93.57 L389.49,93.62 L389.88,93.66 L390.28,93.71 L390.68,93.76 L391.07,93.81 L391.47,93.85 L391.86,93.9 L392.25,93.95 L392.65,94 L393.05,94.05 L393.44,94.09 L393.84,94.14 L394.23,94.19 L394.62,94.24 L395.02,94.29 L395.42,94.33 L395.81,94.38 L396.2,94.43 L396.6,94.48 L397,94.52 L397.39,94.57 L397.78,94.62 L398.18,94.67 L398.57,94.71 L398.97,94.76 L399.37,94.81 L399.76,94.86 L400.15,94.9 L400.55,94.95 L400.94,95 L401.34,95.04 L401.74,95.09 L402.13,95.14 L402.52,95.18 L402.92,95.23 L403.31,95.28 L403.71,95.32 L404.11,95.37 L404.5,95.41 L404.89,95.46 L405.29,95.5 L405.69,95.55 L406.08,95.59 L406.48,95.64 L406.87,95.68 L407.26,95.73 L407.66,95.77 L408.06,95.82 L408.45,95.86 L408.85,95.91 L409.24,95.95 L409.63,95.99 L410.03,96.04 L410.43,96.08 L410.82,96.12 L411.22,96.17 L411.61,96.21 L412,96.26 L412.4,96.3 L412.8,96.34 L413.19,96.39 L413.59,96.43 L413.98,96.47 L414.38,96.52 L414.77,96.56 L415.17,96.6 L415.56,96.64 L415.95,96.69 L416.35,96.73 L416.75,96.77 L417.14,96.82 L417.54,96.86 L417.93,96.9 L418.32,96.94 L418.72,96.99 L419.12,97.03 L419.51,97.07 L419.9,97.11 L420.3,97.16 L420.69,97.2 L421.09,97.24 L421.49,97.28 L421.88,97.33 L422.27,97.37 L422.67,97.41 L423.06,97.45 L423.46,97.5 L423.86,97.54 L424.25,97.58 L424.64,97.62 L425.04,97.66 L425.44,97.71 L425.83,97.75 L426.23,97.79 L426.62,97.83 L427.01,97.87 L427.41,97.92 L427.81,97.96 L428.2,98 L428.6,98.04 L428.99,98.08 L429.38,98.13 L429.78,98.17 L430.18,98.21 L430.57,98.25 L430.97,98.29 L431.36,98.34 L431.75,98.38 L432.15,98.42 L432.55,98.46 L432.94,98.5 L433.34,98.55 L433.73,98.59 L434.12,98.63 L434.52,98.67 L434.92,98.71 L435.31,98.76 L435.7,98.8 L436.1,98.84 L436.5,98.88 L436.89,98.92 L437.29,98.96 L437.68,99.01 L438.07,99.05 L438.47,99.09 L438.87,99.13 L439.26,99.17 L439.65,99.22 L440.05,99.26 L440.44,99.3 L440.84,99.34 L441.24,99.39 L441.63,99.43 L442.02,99.47 L442.42,99.51 L442.81,99.55 L443.21,99.6 L443.61,99.64 L444,99.68" fill="none" stroke="#4a7ebf" stroke-width="2.35" stroke-linejoin="round"/>
<path d="M286,121.74 L286.39,121.7 L286.79,121.66 L287.19,121.62 L287.58,121.57 L287.98,121.52 L288.37,121.47 L288.76,121.42 L289.16,121.37 L289.56,121.31 L289.95,121.24 L290.35,121.18 L290.74,121.11 L291.13,121.03 L291.53,120.95 L291.93,120.87 L292.32,120.78 L292.71,120.69 L293.11,120.58 L293.5,120.48 L293.9,120.36 L294.3,120.24 L294.69,120.11 L295.08,119.97 L295.48,119.83 L295.88,119.67 L296.27,119.5 L296.67,119.33 L297.06,119.14 L297.45,118.94 L297.85,118.73 L298.25,118.51 L298.64,118.27 L299.04,118.02 L299.43,117.75 L299.82,117.47 L300.22,117.18 L300.62,116.86 L301.01,116.53 L301.4,116.18 L301.8,115.82 L302.19,115.43 L302.59,115.03 L302.99,114.6 L303.38,114.15 L303.77,113.69 L304.17,113.2 L304.56,112.69 L304.96,112.15 L305.36,111.6 L305.75,111.02 L306.14,110.41 L306.54,109.79 L306.94,109.14 L307.33,108.46 L307.73,107.77 L308.12,107.05 L308.51,106.3 L308.91,105.54 L309.31,104.75 L309.7,103.93 L310.1,103.1 L310.49,102.24 L310.88,101.37 L311.28,100.47 L311.68,99.56 L312.07,98.62 L312.46,97.67 L312.86,96.71 L313.25,95.73 L313.65,94.74 L314.05,93.74 L314.44,92.73 L314.83,91.71 L315.23,90.69 L315.62,89.66 L316.02,88.64 L316.42,87.62 L316.81,86.6 L317.2,85.6 L317.6,84.61 L318,83.64 L318.39,82.69 L318.79,81.76 L319.18,80.87 L319.57,80.01 L319.97,79.2 L320.37,78.43 L320.76,77.71 L321.15,77.05 L321.55,76.45 L321.94,75.93 L322.34,75.47 L322.74,75.09 L323.13,74.79 L323.52,74.57 L323.92,74.44 L324.31,74.4 L324.71,74.48 L325.11,74.73 L325.5,75.13 L325.89,75.63 L326.29,76.14 L326.69,76.68 L327.08,77.25 L327.48,77.85 L327.87,78.48 L328.26,79.15 L328.66,79.86 L329.06,80.61 L329.45,81.41 L329.85,82.25 L330.24,83.15 L330.63,84.07 L331.03,84.97 L331.43,85.84 L331.82,86.68 L332.21,87.5 L332.61,88.29 L333,89.06 L333.4,89.81 L333.8,90.54 L334.19,91.25 L334.58,91.95 L334.98,92.64 L335.38,93.33 L335.77,94.01 L336.17,94.7 L336.56,95.36 L336.95,96 L337.35,96.61 L337.75,97.2 L338.14,97.76 L338.54,98.28 L338.93,98.76 L339.32,99.22 L339.72,99.63 L340.12,100.02 L340.51,100.37 L340.9,100.69 L341.3,100.99 L341.69,101.25 L342.09,101.47 L342.49,101.66 L342.88,101.82 L343.27,101.95 L343.67,102.06 L344.06,102.14 L344.46,102.21 L344.86,102.26 L345.25,102.29 L345.64,102.31 L346.04,102.32 L346.44,102.32 L346.83,102.32 L347.23,102.3 L347.62,102.29 L348.01,102.27 L348.41,102.25 L348.81,102.23 L349.2,102.22 L349.6,102.2 L349.99,102.19 L350.38,102.19 L350.78,102.19 L351.18,102.19 L351.57,102.21 L351.96,102.23 L352.36,102.26 L352.75,102.3 L353.15,102.35 L353.55,102.41 L353.94,102.48 L354.33,102.56 L354.73,102.65 L355.12,102.75 L355.52,102.85 L355.92,102.96 L356.31,103.08 L356.7,103.2 L357.1,103.33 L357.5,103.46 L357.89,103.6 L358.29,103.74 L358.68,103.88 L359.07,104.03 L359.47,104.17 L359.87,104.32 L360.26,104.47 L360.65,104.61 L361.05,104.76 L361.44,104.9 L361.84,105.04 L362.24,105.18 L362.63,105.31 L363.02,105.44 L363.42,105.57 L363.81,105.69 L364.21,105.8 L364.61,105.91 L365,106 L365.39,106.1 L365.79,106.19 L366.19,106.28 L366.58,106.37 L366.98,106.46 L367.37,106.55 L367.76,106.64 L368.16,106.72 L368.56,106.81 L368.95,106.89 L369.35,106.98 L369.74,107.06 L370.13,107.14 L370.53,107.22 L370.93,107.3 L371.32,107.38 L371.72,107.46 L372.11,107.54 L372.5,107.62 L372.9,107.69 L373.3,107.77 L373.69,107.85 L374.08,107.92 L374.48,107.99 L374.88,108.07 L375.27,108.14 L375.67,108.21 L376.06,108.28 L376.45,108.35 L376.85,108.42 L377.25,108.49 L377.64,108.56 L378.04,108.63 L378.43,108.7 L378.82,108.77 L379.22,108.83 L379.62,108.9 L380.01,108.97 L380.4,109.03 L380.8,109.1 L381.19,109.16 L381.59,109.23 L381.99,109.29 L382.38,109.35 L382.77,109.42 L383.17,109.48 L383.56,109.55 L383.96,109.61 L384.36,109.67 L384.75,109.73 L385.14,109.8 L385.54,109.86 L385.94,109.92 L386.33,109.98 L386.73,110.04 L387.12,110.11 L387.51,110.17 L387.91,110.23 L388.31,110.29 L388.7,110.35 L389.1,110.41 L389.49,110.47 L389.88,110.53 L390.28,110.59 L390.68,110.65 L391.07,110.71 L391.47,110.77 L391.86,110.82 L392.25,110.88 L392.65,110.94 L393.05,111 L393.44,111.06 L393.84,111.12 L394.23,111.17 L394.62,111.23 L395.02,111.29 L395.42,111.34 L395.81,111.4 L396.2,111.46 L396.6,111.52 L397,111.57 L397.39,111.63 L397.78,111.68 L398.18,111.74 L398.57,111.8 L398.97,111.85 L399.37,111.91 L399.76,111.96 L400.15,112.02 L400.55,112.07 L400.94,112.13 L401.34,112.18 L401.74,112.24 L402.13,112.29 L402.52,112.35 L402.92,112.4 L403.31,112.46 L403.71,112.51 L404.11,112.56 L404.5,112.62 L404.89,112.67 L405.29,112.73 L405.69,112.78 L406.08,112.83 L406.48,112.89 L406.87,112.94 L407.26,112.99 L407.66,113.05 L408.06,113.1 L408.45,113.15 L408.85,113.21 L409.24,113.26 L409.63,113.31 L410.03,113.36 L410.43,113.42 L410.82,113.47 L411.22,113.52 L411.61,113.57 L412,113.62 L412.4,113.67 L412.8,113.73 L413.19,113.78 L413.59,113.83 L413.98,113.88 L414.38,113.93 L414.77,113.98 L415.17,114.03 L415.56,114.08 L415.95,114.13 L416.35,114.18 L416.75,114.23 L417.14,114.28 L417.54,114.33 L417.93,114.38 L418.32,114.43 L418.72,114.48 L419.12,114.53 L419.51,114.58 L419.9,114.63 L420.3,114.68 L420.69,114.73 L421.09,114.78 L421.49,114.83 L421.88,114.87 L422.27,114.92 L422.67,114.97 L423.06,115.02 L423.46,115.07 L423.86,115.12 L424.25,115.17 L424.64,115.22 L425.04,115.26 L425.44,115.31 L425.83,115.36 L426.23,115.41 L426.62,115.46 L427.01,115.5 L427.41,115.55 L427.81,115.6 L428.2,115.65 L428.6,115.7 L428.99,115.75 L429.38,115.79 L429.78,115.84 L430.18,115.89 L430.57,115.94 L430.97,115.99 L431.36,116.03 L431.75,116.08 L432.15,116.13 L432.55,116.18 L432.94,116.22 L433.34,116.27 L433.73,116.32 L434.12,116.37 L434.52,116.42 L434.92,116.46 L435.31,116.51 L435.7,116.56 L436.1,116.61 L436.5,116.66 L436.89,116.7 L437.29,116.75 L437.68,116.8 L438.07,116.85 L438.47,116.9 L438.87,116.94 L439.26,116.99 L439.65,117.04 L440.05,117.09 L440.44,117.14 L440.84,117.19 L441.24,117.24 L441.63,117.28 L442.02,117.33 L442.42,117.38 L442.81,117.43 L443.21,117.48 L443.61,117.53 L444,117.58" fill="none" stroke="#5c98ca" stroke-width="2.35" stroke-linejoin="round"/>
<path d="M286,139.95 L286.39,139.9 L286.79,139.85 L287.19,139.79 L287.58,139.73 L287.98,139.67 L288.37,139.61 L288.76,139.54 L289.16,139.47 L289.56,139.39 L289.95,139.31 L290.35,139.23 L290.74,139.14 L291.13,139.04 L291.53,138.94 L291.93,138.83 L292.32,138.71 L292.71,138.59 L293.11,138.46 L293.5,138.32 L293.9,138.17 L294.3,138.02 L294.69,137.85 L295.08,137.67 L295.48,137.48 L295.88,137.28 L296.27,137.07 L296.67,136.84 L297.06,136.6 L297.45,136.34 L297.85,136.07 L298.25,135.78 L298.64,135.48 L299.04,135.15 L299.43,134.81 L299.82,134.45 L300.22,134.07 L300.62,133.66 L301.01,133.24 L301.4,132.79 L301.8,132.31 L302.19,131.82 L302.59,131.29 L302.99,130.74 L303.38,130.17 L303.77,129.57 L304.17,128.93 L304.56,128.28 L304.96,127.59 L305.36,126.87 L305.75,126.12 L306.14,125.35 L306.54,124.54 L306.94,123.7 L307.33,122.83 L307.73,121.93 L308.12,121 L308.51,120.04 L308.91,119.05 L309.31,118.03 L309.7,116.99 L310.1,115.91 L310.49,114.81 L310.88,113.68 L311.28,112.52 L311.68,111.34 L312.07,110.14 L312.46,108.92 L312.86,107.67 L313.25,106.41 L313.65,105.13 L314.05,103.84 L314.44,102.54 L314.83,101.22 L315.23,99.91 L315.62,98.58 L316.02,97.26 L316.42,95.95 L316.81,94.64 L317.2,93.34 L317.6,92.07 L318,90.81 L318.39,89.59 L318.79,88.39 L319.18,87.24 L319.57,86.14 L319.97,85.08 L320.37,84.09 L320.76,83.17 L321.15,82.32 L321.55,81.55 L321.94,80.87 L322.34,80.28 L322.74,79.79 L323.13,79.4 L323.52,79.12 L323.92,78.96 L324.31,78.9 L324.71,79.01 L325.11,79.32 L325.5,79.85 L325.89,80.5 L326.29,81.2 L326.69,81.96 L327.08,82.79 L327.48,83.67 L327.87,84.61 L328.26,85.62 L328.66,86.69 L329.06,87.82 L329.45,89.02 L329.85,90.29 L330.24,91.64 L330.63,93.02 L331.03,94.39 L331.43,95.76 L331.82,97.1 L332.21,98.42 L332.61,99.72 L333,100.99 L333.4,102.23 L333.8,103.44 L334.19,104.61 L334.58,105.76 L334.98,106.87 L335.38,107.94 L335.77,108.94 L336.17,109.88 L336.56,110.76 L336.95,111.59 L337.35,112.37 L337.75,113.1 L338.14,113.78 L338.54,114.41 L338.93,115 L339.32,115.56 L339.72,116.08 L340.12,116.59 L340.51,117.06 L340.9,117.48 L341.3,117.85 L341.69,118.18 L342.09,118.46 L342.49,118.71 L342.88,118.92 L343.27,119.1 L343.67,119.25 L344.06,119.38 L344.46,119.48 L344.86,119.57 L345.25,119.64 L345.64,119.7 L346.04,119.75 L346.44,119.79 L346.83,119.82 L347.23,119.85 L347.62,119.88 L348.01,119.92 L348.41,119.95 L348.81,119.99 L349.2,120.03 L349.6,120.08 L349.99,120.13 L350.38,120.2 L350.78,120.27 L351.18,120.34 L351.57,120.42 L351.96,120.5 L352.36,120.59 L352.75,120.69 L353.15,120.79 L353.55,120.89 L353.94,121 L354.33,121.11 L354.73,121.23 L355.12,121.35 L355.52,121.48 L355.92,121.61 L356.31,121.74 L356.7,121.88 L357.1,122.01 L357.5,122.15 L357.89,122.29 L358.29,122.43 L358.68,122.58 L359.07,122.72 L359.47,122.86 L359.87,123.01 L360.26,123.15 L360.65,123.29 L361.05,123.43 L361.44,123.57 L361.84,123.7 L362.24,123.83 L362.63,123.96 L363.02,124.09 L363.42,124.21 L363.81,124.33 L364.21,124.44 L364.61,124.54 L365,124.65 L365.39,124.74 L365.79,124.84 L366.19,124.94 L366.58,125.04 L366.98,125.13 L367.37,125.23 L367.76,125.33 L368.16,125.42 L368.56,125.52 L368.95,125.61 L369.35,125.7 L369.74,125.8 L370.13,125.89 L370.53,125.98 L370.93,126.07 L371.32,126.16 L371.72,126.25 L372.11,126.34 L372.5,126.43 L372.9,126.52 L373.3,126.61 L373.69,126.69 L374.08,126.78 L374.48,126.86 L374.88,126.95 L375.27,127.03 L375.67,127.11 L376.06,127.19 L376.45,127.27 L376.85,127.35 L377.25,127.43 L377.64,127.5 L378.04,127.58 L378.43,127.65 L378.82,127.72 L379.22,127.79 L379.62,127.86 L380.01,127.93 L380.4,128 L380.8,128.07 L381.19,128.13 L381.59,128.2 L381.99,128.26 L382.38,128.32 L382.77,128.39 L383.17,128.45 L383.56,128.51 L383.96,128.58 L384.36,128.64 L384.75,128.7 L385.14,128.76 L385.54,128.82 L385.94,128.88 L386.33,128.94 L386.73,129 L387.12,129.06 L387.51,129.11 L387.91,129.17 L388.31,129.23 L388.7,129.29 L389.1,129.34 L389.49,129.4 L389.88,129.46 L390.28,129.51 L390.68,129.57 L391.07,129.62 L391.47,129.68 L391.86,129.73 L392.25,129.79 L392.65,129.84 L393.05,129.89 L393.44,129.95 L393.84,130 L394.23,130.05 L394.62,130.1 L395.02,130.16 L395.42,130.21 L395.81,130.26 L396.2,130.31 L396.6,130.36 L397,130.42 L397.39,130.47 L397.78,130.52 L398.18,130.57 L398.57,130.62 L398.97,130.67 L399.37,130.72 L399.76,130.77 L400.15,130.82 L400.55,130.87 L400.94,130.92 L401.34,130.97 L401.74,131.02 L402.13,131.06 L402.52,131.11 L402.92,131.16 L403.31,131.21 L403.71,131.26 L404.11,131.31 L404.5,131.36 L404.89,131.41 L405.29,131.45 L405.69,131.5 L406.08,131.55 L406.48,131.6 L406.87,131.65 L407.26,131.7 L407.66,131.74 L408.06,131.79 L408.45,131.84 L408.85,131.89 L409.24,131.94 L409.63,131.98 L410.03,132.03 L410.43,132.08 L410.82,132.12 L411.22,132.17 L411.61,132.22 L412,132.26 L412.4,132.31 L412.8,132.36 L413.19,132.4 L413.59,132.45 L413.98,132.49 L414.38,132.54 L414.77,132.59 L415.17,132.63 L415.56,132.68 L415.95,132.72 L416.35,132.77 L416.75,132.81 L417.14,132.86 L417.54,132.9 L417.93,132.94 L418.32,132.99 L418.72,133.03 L419.12,133.08 L419.51,133.12 L419.9,133.17 L420.3,133.21 L420.69,133.25 L421.09,133.3 L421.49,133.34 L421.88,133.38 L422.27,133.43 L422.67,133.47 L423.06,133.51 L423.46,133.56 L423.86,133.6 L424.25,133.64 L424.64,133.68 L425.04,133.73 L425.44,133.77 L425.83,133.81 L426.23,133.86 L426.62,133.9 L427.01,133.94 L427.41,133.98 L427.81,134.03 L428.2,134.07 L428.6,134.11 L428.99,134.15 L429.38,134.2 L429.78,134.24 L430.18,134.28 L430.57,134.32 L430.97,134.36 L431.36,134.41 L431.75,134.45 L432.15,134.49 L432.55,134.53 L432.94,134.58 L433.34,134.62 L433.73,134.66 L434.12,134.7 L434.52,134.74 L434.92,134.79 L435.31,134.83 L435.7,134.87 L436.1,134.91 L436.5,134.96 L436.89,135 L437.29,135.04 L437.68,135.08 L438.07,135.13 L438.47,135.17 L438.87,135.21 L439.26,135.25 L439.65,135.3 L440.05,135.34 L440.44,135.38 L440.84,135.42 L441.24,135.47 L441.63,135.51 L442.02,135.55 L442.42,135.6 L442.81,135.64 L443.21,135.68 L443.61,135.73 L444,135.77" fill="none" stroke="#76afd6" stroke-width="2.35" stroke-linejoin="round"/>
<path d="M286,158.46 L286.39,158.4 L286.79,158.33 L287.19,158.26 L287.58,158.19 L287.98,158.11 L288.37,158.03 L288.76,157.95 L289.16,157.86 L289.56,157.76 L289.95,157.66 L290.35,157.55 L290.74,157.44 L291.13,157.32 L291.53,157.19 L291.93,157.05 L292.32,156.91 L292.71,156.75 L293.11,156.59 L293.5,156.41 L293.9,156.22 L294.3,156.03 L294.69,155.82 L295.08,155.59 L295.48,155.35 L295.88,155.1 L296.27,154.83 L296.67,154.54 L297.06,154.24 L297.45,153.92 L297.85,153.57 L298.25,153.21 L298.64,152.82 L299.04,152.42 L299.43,151.98 L299.82,151.53 L300.22,151.04 L300.62,150.54 L301.01,150 L301.4,149.43 L301.8,148.83 L302.19,148.21 L302.59,147.55 L302.99,146.86 L303.38,146.13 L303.77,145.37 L304.17,144.58 L304.56,143.75 L304.96,142.88 L305.36,141.97 L305.75,141.03 L306.14,140.05 L306.54,139.03 L306.94,137.98 L307.33,136.88 L307.73,135.75 L308.12,134.58 L308.51,133.37 L308.91,132.12 L309.31,130.84 L309.7,129.51 L310.1,128.16 L310.49,126.77 L310.88,125.34 L311.28,123.89 L311.68,122.4 L312.07,120.88 L312.46,119.34 L312.86,117.77 L313.25,116.18 L313.65,114.57 L314.05,112.94 L314.44,111.3 L314.83,109.64 L315.23,107.98 L315.62,106.31 L316.02,104.65 L316.42,102.99 L316.81,101.34 L317.2,99.71 L317.6,98.1 L318,96.52 L318.39,94.97 L318.79,93.47 L319.18,92.02 L319.57,90.62 L319.97,89.3 L320.37,88.05 L320.76,86.88 L321.15,85.81 L321.55,84.84 L321.94,83.98 L322.34,83.24 L322.74,82.62 L323.13,82.13 L323.52,81.78 L323.92,81.57 L324.31,81.5 L324.71,81.63 L325.11,82.03 L325.5,82.69 L325.89,83.51 L326.29,84.41 L326.69,85.39 L327.08,86.44 L327.48,87.58 L327.87,88.8 L328.26,90.09 L328.66,91.47 L329.06,92.94 L329.45,94.49 L329.85,96.13 L330.24,97.86 L330.63,99.64 L331.03,101.41 L331.43,103.16 L331.82,104.89 L332.21,106.59 L332.61,108.26 L333,109.9 L333.4,111.5 L333.8,113.07 L334.19,114.59 L334.58,116.08 L334.98,117.54 L335.38,118.96 L335.77,120.36 L336.17,121.7 L336.56,122.97 L336.95,124.15 L337.35,125.26 L337.75,126.29 L338.14,127.23 L338.54,128.08 L338.93,128.86 L339.32,129.56 L339.72,130.19 L340.12,130.75 L340.51,131.24 L340.9,131.69 L341.3,132.08 L341.69,132.42 L342.09,132.73 L342.49,133 L342.88,133.24 L343.27,133.46 L343.67,133.66 L344.06,133.85 L344.46,134.03 L344.86,134.21 L345.25,134.39 L345.64,134.57 L346.04,134.74 L346.44,134.91 L346.83,135.06 L347.23,135.22 L347.62,135.37 L348.01,135.52 L348.41,135.67 L348.81,135.82 L349.2,135.97 L349.6,136.13 L349.99,136.28 L350.38,136.44 L350.78,136.6 L351.18,136.77 L351.57,136.93 L351.96,137.1 L352.36,137.27 L352.75,137.44 L353.15,137.61 L353.55,137.78 L353.94,137.96 L354.33,138.13 L354.73,138.31 L355.12,138.48 L355.52,138.65 L355.92,138.82 L356.31,138.99 L356.7,139.16 L357.1,139.32 L357.5,139.47 L357.89,139.62 L358.29,139.77 L358.68,139.91 L359.07,140.04 L359.47,140.17 L359.87,140.28 L360.26,140.39 L360.65,140.5 L361.05,140.6 L361.44,140.7 L361.84,140.81 L362.24,140.91 L362.63,141.02 L363.02,141.12 L363.42,141.22 L363.81,141.33 L364.21,141.43 L364.61,141.54 L365,141.65 L365.39,141.75 L365.79,141.86 L366.19,141.96 L366.58,142.07 L366.98,142.17 L367.37,142.28 L367.76,142.39 L368.16,142.49 L368.56,142.6 L368.95,142.7 L369.35,142.81 L369.74,142.91 L370.13,143.02 L370.53,143.12 L370.93,143.23 L371.32,143.34 L371.72,143.44 L372.11,143.54 L372.5,143.65 L372.9,143.75 L373.3,143.86 L373.69,143.96 L374.08,144.06 L374.48,144.17 L374.88,144.27 L375.27,144.37 L375.67,144.47 L376.06,144.58 L376.45,144.68 L376.85,144.78 L377.25,144.88 L377.64,144.98 L378.04,145.08 L378.43,145.17 L378.82,145.27 L379.22,145.37 L379.62,145.47 L380.01,145.56 L380.4,145.66 L380.8,145.75 L381.19,145.85 L381.59,145.94 L381.99,146.03 L382.38,146.12 L382.77,146.21 L383.17,146.3 L383.56,146.39 L383.96,146.48 L384.36,146.57 L384.75,146.66 L385.14,146.74 L385.54,146.83 L385.94,146.91 L386.33,146.99 L386.73,147.08 L387.12,147.16 L387.51,147.24 L387.91,147.31 L388.31,147.39 L388.7,147.47 L389.1,147.54 L389.49,147.62 L389.88,147.69 L390.28,147.76 L390.68,147.83 L391.07,147.9 L391.47,147.97 L391.86,148.04 L392.25,148.1 L392.65,148.16 L393.05,148.23 L393.44,148.29 L393.84,148.35 L394.23,148.41 L394.62,148.46 L395.02,148.52 L395.42,148.58 L395.81,148.64 L396.2,148.69 L396.6,148.75 L397,148.8 L397.39,148.86 L397.78,148.91 L398.18,148.96 L398.57,149.02 L398.97,149.07 L399.37,149.12 L399.76,149.17 L400.15,149.22 L400.55,149.27 L400.94,149.32 L401.34,149.37 L401.74,149.42 L402.13,149.47 L402.52,149.51 L402.92,149.56 L403.31,149.61 L403.71,149.65 L404.11,149.7 L404.5,149.74 L404.89,149.79 L405.29,149.83 L405.69,149.87 L406.08,149.92 L406.48,149.96 L406.87,150 L407.26,150.04 L407.66,150.08 L408.06,150.13 L408.45,150.17 L408.85,150.21 L409.24,150.25 L409.63,150.29 L410.03,150.33 L410.43,150.37 L410.82,150.4 L411.22,150.44 L411.61,150.48 L412,150.52 L412.4,150.56 L412.8,150.59 L413.19,150.63 L413.59,150.67 L413.98,150.7 L414.38,150.74 L414.77,150.77 L415.17,150.81 L415.56,150.85 L415.95,150.88 L416.35,150.92 L416.75,150.95 L417.14,150.98 L417.54,151.02 L417.93,151.05 L418.32,151.09 L418.72,151.12 L419.12,151.15 L419.51,151.19 L419.9,151.22 L420.3,151.25 L420.69,151.29 L421.09,151.32 L421.49,151.35 L421.88,151.38 L422.27,151.42 L422.67,151.45 L423.06,151.48 L423.46,151.51 L423.86,151.55 L424.25,151.58 L424.64,151.61 L425.04,151.64 L425.44,151.67 L425.83,151.71 L426.23,151.74 L426.62,151.77 L427.01,151.8 L427.41,151.83 L427.81,151.86 L428.2,151.9 L428.6,151.93 L428.99,151.96 L429.38,151.99 L429.78,152.02 L430.18,152.06 L430.57,152.09 L430.97,152.12 L431.36,152.15 L431.75,152.18 L432.15,152.22 L432.55,152.25 L432.94,152.28 L433.34,152.31 L433.73,152.35 L434.12,152.38 L434.52,152.41 L434.92,152.45 L435.31,152.48 L435.7,152.51 L436.1,152.55 L436.5,152.58 L436.89,152.61 L437.29,152.65 L437.68,152.68 L438.07,152.72 L438.47,152.75 L438.87,152.79 L439.26,152.82 L439.65,152.86 L440.05,152.89 L440.44,152.93 L440.84,152.96 L441.24,153 L441.63,153.04 L442.02,153.07 L442.42,153.11 L442.81,153.15 L443.21,153.19 L443.61,153.22 L444,153.26" fill="none" stroke="#93c5df" stroke-width="2.35" stroke-linejoin="round"/>
<path d="M286,176.97 L286.39,176.9 L286.79,176.82 L287.19,176.74 L287.58,176.66 L287.98,176.57 L288.37,176.47 L288.76,176.37 L289.16,176.27 L289.56,176.15 L289.95,176.04 L290.35,175.91 L290.74,175.78 L291.13,175.63 L291.53,175.48 L291.93,175.32 L292.32,175.15 L292.71,174.97 L293.11,174.78 L293.5,174.57 L293.9,174.35 L294.3,174.12 L294.69,173.87 L295.08,173.61 L295.48,173.33 L295.88,173.03 L296.27,172.71 L296.67,172.38 L297.06,172.02 L297.45,171.64 L297.85,171.24 L298.25,170.81 L298.64,170.36 L299.04,169.88 L299.43,169.38 L299.82,168.85 L300.22,168.28 L300.62,167.69 L301.01,167.06 L301.4,166.4 L301.8,165.71 L302.19,164.98 L302.59,164.22 L302.99,163.42 L303.38,162.58 L303.77,161.7 L304.17,160.78 L304.56,159.82 L304.96,158.82 L305.36,157.78 L305.75,156.7 L306.14,155.57 L306.54,154.41 L306.94,153.2 L307.33,151.94 L307.73,150.65 L308.12,149.31 L308.51,147.93 L308.91,146.51 L309.31,145.06 L309.7,143.56 L310.1,142.02 L310.49,140.45 L310.88,138.84 L311.28,137.19 L311.68,135.52 L312.07,133.81 L312.46,132.08 L312.86,130.32 L313.25,128.54 L313.65,126.74 L314.05,124.92 L314.44,123.1 L314.83,121.26 L315.23,119.42 L315.62,117.58 L316.02,115.75 L316.42,113.93 L316.81,112.12 L317.2,110.34 L317.6,108.59 L318,106.89 L318.39,105.23 L318.79,103.62 L319.18,102.08 L319.57,100.62 L319.97,99.23 L320.37,97.95 L320.76,96.76 L321.15,95.69 L321.55,94.74 L321.94,93.92 L322.34,93.24 L322.74,92.7 L323.13,92.31 L323.52,92.08 L323.92,92 L324.31,92.15 L324.71,92.59 L325.11,93.32 L325.5,94.32 L325.89,95.51 L326.29,96.8 L326.69,98.19 L327.08,99.67 L327.48,101.25 L327.87,102.9 L328.26,104.64 L328.66,106.45 L329.06,108.33 L329.45,110.29 L329.85,112.31 L330.24,114.4 L330.63,116.52 L331.03,118.61 L331.43,120.68 L331.82,122.7 L332.21,124.68 L332.61,126.62 L333,128.51 L333.4,130.34 L333.8,132.13 L334.19,133.86 L334.58,135.55 L334.98,137.19 L335.38,138.78 L335.77,140.34 L336.17,141.83 L336.56,143.24 L336.95,144.57 L337.35,145.82 L337.75,146.99 L338.14,148.06 L338.54,149.04 L338.93,149.93 L339.32,150.74 L339.72,151.48 L340.12,152.14 L340.51,152.73 L340.9,153.26 L341.3,153.73 L341.69,154.15 L342.09,154.52 L342.49,154.85 L342.88,155.15 L343.27,155.41 L343.67,155.64 L344.06,155.85 L344.46,156.04 L344.86,156.22 L345.25,156.38 L345.64,156.54 L346.04,156.69 L346.44,156.84 L346.83,156.98 L347.23,157.12 L347.62,157.25 L348.01,157.39 L348.41,157.53 L348.81,157.66 L349.2,157.8 L349.6,157.93 L349.99,158.07 L350.38,158.21 L350.78,158.35 L351.18,158.49 L351.57,158.63 L351.96,158.77 L352.36,158.91 L352.75,159.06 L353.15,159.19 L353.55,159.33 L353.94,159.47 L354.33,159.6 L354.73,159.73 L355.12,159.85 L355.52,159.97 L355.92,160.08 L356.31,160.19 L356.7,160.28 L357.1,160.37 L357.5,160.46 L357.89,160.54 L358.29,160.62 L358.68,160.71 L359.07,160.79 L359.47,160.88 L359.87,160.96 L360.26,161.04 L360.65,161.13 L361.05,161.21 L361.44,161.3 L361.84,161.38 L362.24,161.46 L362.63,161.55 L363.02,161.63 L363.42,161.72 L363.81,161.8 L364.21,161.88 L364.61,161.97 L365,162.05 L365.39,162.14 L365.79,162.22 L366.19,162.3 L366.58,162.39 L366.98,162.47 L367.37,162.55 L367.76,162.64 L368.16,162.72 L368.56,162.8 L368.95,162.88 L369.35,162.96 L369.74,163.04 L370.13,163.13 L370.53,163.21 L370.93,163.29 L371.32,163.37 L371.72,163.45 L372.11,163.53 L372.5,163.6 L372.9,163.68 L373.3,163.76 L373.69,163.84 L374.08,163.91 L374.48,163.99 L374.88,164.07 L375.27,164.14 L375.67,164.22 L376.06,164.29 L376.45,164.36 L376.85,164.43 L377.25,164.51 L377.64,164.58 L378.04,164.65 L378.43,164.72 L378.82,164.79 L379.22,164.85 L379.62,164.92 L380.01,164.99 L380.4,165.05 L380.8,165.12 L381.19,165.18 L381.59,165.24 L381.99,165.31 L382.38,165.37 L382.77,165.43 L383.17,165.49 L383.56,165.56 L383.96,165.62 L384.36,165.68 L384.75,165.74 L385.14,165.8 L385.54,165.86 L385.94,165.92 L386.33,165.98 L386.73,166.04 L387.12,166.1 L387.51,166.15 L387.91,166.21 L388.31,166.27 L388.7,166.33 L389.1,166.38 L389.49,166.44 L389.88,166.5 L390.28,166.55 L390.68,166.61 L391.07,166.66 L391.47,166.72 L391.86,166.77 L392.25,166.83 L392.65,166.88 L393.05,166.94 L393.44,166.99 L393.84,167.04 L394.23,167.09 L394.62,167.15 L395.02,167.2 L395.42,167.25 L395.81,167.3 L396.2,167.35 L396.6,167.41 L397,167.46 L397.39,167.51 L397.78,167.56 L398.18,167.61 L398.57,167.66 L398.97,167.71 L399.37,167.76 L399.76,167.81 L400.15,167.85 L400.55,167.9 L400.94,167.95 L401.34,168 L401.74,168.05 L402.13,168.09 L402.52,168.14 L402.92,168.19 L403.31,168.23 L403.71,168.28 L404.11,168.33 L404.5,168.37 L404.89,168.42 L405.29,168.46 L405.69,168.51 L406.08,168.55 L406.48,168.6 L406.87,168.64 L407.26,168.69 L407.66,168.73 L408.06,168.77 L408.45,168.82 L408.85,168.86 L409.24,168.9 L409.63,168.94 L410.03,168.99 L410.43,169.03 L410.82,169.07 L411.22,169.11 L411.61,169.15 L412,169.19 L412.4,169.23 L412.8,169.27 L413.19,169.31 L413.59,169.35 L413.98,169.39 L414.38,169.43 L414.77,169.47 L415.17,169.51 L415.56,169.55 L415.95,169.59 L416.35,169.63 L416.75,169.66 L417.14,169.7 L417.54,169.74 L417.93,169.78 L418.32,169.81 L418.72,169.85 L419.12,169.89 L419.51,169.92 L419.9,169.96 L420.3,169.99 L420.69,170.03 L421.09,170.07 L421.49,170.1 L421.88,170.14 L422.27,170.17 L422.67,170.21 L423.06,170.24 L423.46,170.28 L423.86,170.31 L424.25,170.35 L424.64,170.38 L425.04,170.42 L425.44,170.45 L425.83,170.49 L426.23,170.52 L426.62,170.56 L427.01,170.59 L427.41,170.62 L427.81,170.66 L428.2,170.69 L428.6,170.73 L428.99,170.76 L429.38,170.79 L429.78,170.83 L430.18,170.86 L430.57,170.89 L430.97,170.93 L431.36,170.96 L431.75,170.99 L432.15,171.03 L432.55,171.06 L432.94,171.1 L433.34,171.13 L433.73,171.16 L434.12,171.2 L434.52,171.23 L434.92,171.26 L435.31,171.3 L435.7,171.33 L436.1,171.37 L436.5,171.4 L436.89,171.43 L437.29,171.47 L437.68,171.5 L438.07,171.54 L438.47,171.57 L438.87,171.6 L439.26,171.64 L439.65,171.67 L440.05,171.71 L440.44,171.74 L440.84,171.78 L441.24,171.81 L441.63,171.85 L442.02,171.88 L442.42,171.92 L442.81,171.95 L443.21,171.99 L443.61,172.02 L444,172.06" fill="none" stroke="#b0d7e8" stroke-width="2.35" stroke-linejoin="round"/>
<path d="M286,195.59 L286.39,195.5 L286.79,195.41 L287.19,195.31 L287.58,195.2 L287.98,195.09 L288.37,194.97 L288.76,194.85 L289.16,194.71 L289.56,194.57 L289.95,194.42 L290.35,194.26 L290.74,194.09 L291.13,193.92 L291.53,193.72 L291.93,193.52 L292.32,193.3 L292.71,193.07 L293.11,192.83 L293.5,192.57 L293.9,192.29 L294.3,192 L294.69,191.68 L295.08,191.35 L295.48,191 L295.88,190.62 L296.27,190.22 L296.67,189.8 L297.06,189.35 L297.45,188.88 L297.85,188.38 L298.25,187.85 L298.64,187.29 L299.04,186.7 L299.43,186.07 L299.82,185.41 L300.22,184.72 L300.62,183.99 L301.01,183.23 L301.4,182.42 L301.8,181.58 L302.19,180.7 L302.59,179.77 L302.99,178.81 L303.38,177.8 L303.77,176.75 L304.17,175.65 L304.56,174.52 L304.96,173.33 L305.36,172.11 L305.75,170.83 L306.14,169.52 L306.54,168.16 L306.94,166.75 L307.33,165.3 L307.73,163.81 L308.12,162.28 L308.51,160.7 L308.91,159.08 L309.31,157.43 L309.7,155.74 L310.1,154.01 L310.49,152.25 L310.88,150.46 L311.28,148.64 L311.68,146.79 L312.07,144.91 L312.46,143.02 L312.86,141.11 L313.25,139.19 L313.65,137.26 L314.05,135.33 L314.44,133.39 L314.83,131.47 L315.23,129.55 L315.62,127.65 L316.02,125.78 L316.42,123.95 L316.81,122.15 L317.2,120.4 L317.6,118.72 L318,117.1 L318.39,115.56 L318.79,114.1 L319.18,112.75 L319.57,111.51 L319.97,110.38 L320.37,109.38 L320.76,108.52 L321.15,107.8 L321.55,107.24 L321.94,106.83 L322.34,106.58 L322.74,106.5 L323.13,106.62 L323.52,106.96 L323.92,107.54 L324.31,108.33 L324.71,109.33 L325.11,110.53 L325.5,111.92 L325.89,113.38 L326.29,114.85 L326.69,116.31 L327.08,117.78 L327.48,119.26 L327.87,120.75 L328.26,122.27 L328.66,123.81 L329.06,125.39 L329.45,127 L329.85,128.67 L330.24,130.4 L330.63,132.14 L331.03,133.84 L331.43,135.5 L331.82,137.13 L332.21,138.71 L332.61,140.25 L333,141.75 L333.4,143.22 L333.8,144.64 L334.19,146.03 L334.58,147.39 L334.98,148.71 L335.38,150.01 L335.77,151.29 L336.17,152.56 L336.56,153.82 L336.95,155.07 L337.35,156.32 L337.75,157.57 L338.14,158.77 L338.54,159.93 L338.93,161.04 L339.32,162.11 L339.72,163.14 L340.12,164.12 L340.51,165.06 L340.9,165.95 L341.3,166.79 L341.69,167.59 L342.09,168.34 L342.49,169.05 L342.88,169.71 L343.27,170.33 L343.67,170.9 L344.06,171.43 L344.46,171.92 L344.86,172.37 L345.25,172.77 L345.64,173.14 L346.04,173.49 L346.44,173.81 L346.83,174.12 L347.23,174.41 L347.62,174.68 L348.01,174.94 L348.41,175.19 L348.81,175.42 L349.2,175.65 L349.6,175.86 L349.99,176.06 L350.38,176.26 L350.78,176.45 L351.18,176.63 L351.57,176.81 L351.96,176.98 L352.36,177.15 L352.75,177.31 L353.15,177.46 L353.55,177.61 L353.94,177.76 L354.33,177.9 L354.73,178.03 L355.12,178.17 L355.52,178.29 L355.92,178.41 L356.31,178.53 L356.7,178.65 L357.1,178.77 L357.5,178.89 L357.89,179.01 L358.29,179.13 L358.68,179.25 L359.07,179.37 L359.47,179.48 L359.87,179.6 L360.26,179.72 L360.65,179.84 L361.05,179.96 L361.44,180.07 L361.84,180.19 L362.24,180.31 L362.63,180.43 L363.02,180.55 L363.42,180.66 L363.81,180.78 L364.21,180.9 L364.61,181.02 L365,181.14 L365.39,181.25 L365.79,181.37 L366.19,181.49 L366.58,181.6 L366.98,181.72 L367.37,181.84 L367.76,181.95 L368.16,182.07 L368.56,182.18 L368.95,182.29 L369.35,182.41 L369.74,182.52 L370.13,182.63 L370.53,182.74 L370.93,182.85 L371.32,182.96 L371.72,183.07 L372.11,183.18 L372.5,183.29 L372.9,183.39 L373.3,183.5 L373.69,183.6 L374.08,183.71 L374.48,183.81 L374.88,183.91 L375.27,184.01 L375.67,184.11 L376.06,184.2 L376.45,184.3 L376.85,184.4 L377.25,184.49 L377.64,184.58 L378.04,184.67 L378.43,184.76 L378.82,184.84 L379.22,184.93 L379.62,185.01 L380.01,185.1 L380.4,185.17 L380.8,185.25 L381.19,185.33 L381.59,185.4 L381.99,185.48 L382.38,185.55 L382.77,185.62 L383.17,185.69 L383.56,185.76 L383.96,185.83 L384.36,185.9 L384.75,185.97 L385.14,186.03 L385.54,186.1 L385.94,186.16 L386.33,186.22 L386.73,186.28 L387.12,186.34 L387.51,186.4 L387.91,186.46 L388.31,186.52 L388.7,186.58 L389.1,186.63 L389.49,186.69 L389.88,186.74 L390.28,186.8 L390.68,186.85 L391.07,186.9 L391.47,186.96 L391.86,187.01 L392.25,187.06 L392.65,187.11 L393.05,187.16 L393.44,187.21 L393.84,187.26 L394.23,187.3 L394.62,187.35 L395.02,187.4 L395.42,187.45 L395.81,187.49 L396.2,187.54 L396.6,187.58 L397,187.63 L397.39,187.67 L397.78,187.72 L398.18,187.76 L398.57,187.81 L398.97,187.85 L399.37,187.89 L399.76,187.94 L400.15,187.98 L400.55,188.02 L400.94,188.07 L401.34,188.11 L401.74,188.15 L402.13,188.19 L402.52,188.24 L402.92,188.28 L403.31,188.32 L403.71,188.36 L404.11,188.41 L404.5,188.45 L404.89,188.49 L405.29,188.54 L405.69,188.58 L406.08,188.62 L406.48,188.67 L406.87,188.71 L407.26,188.75 L407.66,188.8 L408.06,188.84 L408.45,188.89 L408.85,188.93 L409.24,188.97 L409.63,189.02 L410.03,189.06 L410.43,189.11 L410.82,189.15 L411.22,189.19 L411.61,189.24 L412,189.28 L412.4,189.32 L412.8,189.37 L413.19,189.41 L413.59,189.45 L413.98,189.49 L414.38,189.53 L414.77,189.58 L415.17,189.62 L415.56,189.66 L415.95,189.7 L416.35,189.74 L416.75,189.78 L417.14,189.82 L417.54,189.86 L417.93,189.9 L418.32,189.94 L418.72,189.98 L419.12,190.02 L419.51,190.06 L419.9,190.1 L420.3,190.14 L420.69,190.18 L421.09,190.22 L421.49,190.26 L421.88,190.3 L422.27,190.34 L422.67,190.38 L423.06,190.42 L423.46,190.46 L423.86,190.5 L424.25,190.53 L424.64,190.57 L425.04,190.61 L425.44,190.65 L425.83,190.69 L426.23,190.73 L426.62,190.76 L427.01,190.8 L427.41,190.84 L427.81,190.88 L428.2,190.92 L428.6,190.95 L428.99,190.99 L429.38,191.03 L429.78,191.07 L430.18,191.11 L430.57,191.14 L430.97,191.18 L431.36,191.22 L431.75,191.26 L432.15,191.3 L432.55,191.33 L432.94,191.37 L433.34,191.41 L433.73,191.45 L434.12,191.48 L434.52,191.52 L434.92,191.56 L435.31,191.6 L435.7,191.64 L436.1,191.67 L436.5,191.71 L436.89,191.75 L437.29,191.79 L437.68,191.83 L438.07,191.86 L438.47,191.9 L438.87,191.94 L439.26,191.98 L439.65,192.02 L440.05,192.05 L440.44,192.09 L440.84,192.13 L441.24,192.17 L441.63,192.21 L442.02,192.25 L442.42,192.29 L442.81,192.33 L443.21,192.36 L443.61,192.4 L444,192.44" fill="none" stroke="#c9e5ee" stroke-width="2.35" stroke-linejoin="round"/>
<path d="M286,213.69 L286.39,213.6 L286.79,213.51 L287.19,213.41 L287.58,213.3 L287.98,213.19 L288.37,213.07 L288.76,212.95 L289.16,212.81 L289.56,212.67 L289.95,212.52 L290.35,212.36 L290.74,212.19 L291.13,212.01 L291.53,211.82 L291.93,211.61 L292.32,211.39 L292.71,211.16 L293.11,210.92 L293.5,210.65 L293.9,210.38 L294.3,210.08 L294.69,209.76 L295.08,209.43 L295.48,209.08 L295.88,208.7 L296.27,208.3 L296.67,207.88 L297.06,207.43 L297.45,206.95 L297.85,206.45 L298.25,205.92 L298.64,205.36 L299.04,204.77 L299.43,204.15 L299.82,203.49 L300.22,202.8 L300.62,202.08 L301.01,201.32 L301.4,200.52 L301.8,199.69 L302.19,198.81 L302.59,197.9 L302.99,196.95 L303.38,195.95 L303.77,194.92 L304.17,193.84 L304.56,192.72 L304.96,191.56 L305.36,190.36 L305.75,189.11 L306.14,187.82 L306.54,186.49 L306.94,185.12 L307.33,183.71 L307.73,182.26 L308.12,180.77 L308.51,179.24 L308.91,177.68 L309.31,176.08 L309.7,174.44 L310.1,172.78 L310.49,171.08 L310.88,169.36 L311.28,167.61 L311.68,165.84 L312.07,164.05 L312.46,162.24 L312.86,160.42 L313.25,158.6 L313.65,156.77 L314.05,154.94 L314.44,153.12 L314.83,151.3 L315.23,149.51 L315.62,147.74 L316.02,146 L316.42,144.3 L316.81,142.65 L317.2,141.06 L317.6,139.53 L318,138.07 L318.39,136.69 L318.79,135.41 L319.18,134.24 L319.57,133.17 L319.97,132.22 L320.37,131.41 L320.76,130.73 L321.15,130.2 L321.55,129.81 L321.94,129.58 L322.34,129.5 L322.74,129.61 L323.13,129.94 L323.52,130.48 L323.92,131.23 L324.31,132.18 L324.71,133.31 L325.11,134.62 L325.5,136.09 L325.89,137.61 L326.29,139.07 L326.69,140.49 L327.08,141.87 L327.48,143.23 L327.87,144.58 L328.26,145.93 L328.66,147.29 L329.06,148.67 L329.45,150.09 L329.85,151.57 L330.24,153.11 L330.63,154.67 L331.03,156.2 L331.43,157.69 L331.82,159.15 L332.21,160.57 L332.61,161.96 L333,163.31 L333.4,164.62 L333.8,165.9 L334.19,167.14 L334.58,168.34 L334.98,169.52 L335.38,170.64 L335.77,171.68 L336.17,172.64 L336.56,173.55 L336.95,174.4 L337.35,175.22 L337.75,175.99 L338.14,176.74 L338.54,177.45 L338.93,178.16 L339.32,178.86 L339.72,179.57 L340.12,180.3 L340.51,181.05 L340.9,181.79 L341.3,182.53 L341.69,183.25 L342.09,183.95 L342.49,184.64 L342.88,185.32 L343.27,185.97 L343.67,186.6 L344.06,187.21 L344.46,187.79 L344.86,188.34 L345.25,188.86 L345.64,189.35 L346.04,189.8 L346.44,190.21 L346.83,190.59 L347.23,190.93 L347.62,191.26 L348.01,191.57 L348.41,191.87 L348.81,192.16 L349.2,192.43 L349.6,192.7 L349.99,192.96 L350.38,193.21 L350.78,193.46 L351.18,193.69 L351.57,193.93 L351.96,194.15 L352.36,194.38 L352.75,194.59 L353.15,194.81 L353.55,195.02 L353.94,195.22 L354.33,195.43 L354.73,195.63 L355.12,195.82 L355.52,196.02 L355.92,196.21 L356.31,196.39 L356.7,196.58 L357.1,196.76 L357.5,196.93 L357.89,197.11 L358.29,197.28 L358.68,197.44 L359.07,197.6 L359.47,197.76 L359.87,197.91 L360.26,198.06 L360.65,198.2 L361.05,198.34 L361.44,198.48 L361.84,198.6 L362.24,198.73 L362.63,198.85 L363.02,198.96 L363.42,199.07 L363.81,199.18 L364.21,199.29 L364.61,199.39 L365,199.49 L365.39,199.58 L365.79,199.68 L366.19,199.77 L366.58,199.86 L366.98,199.95 L367.37,200.03 L367.76,200.11 L368.16,200.19 L368.56,200.27 L368.95,200.35 L369.35,200.43 L369.74,200.5 L370.13,200.58 L370.53,200.65 L370.93,200.73 L371.32,200.8 L371.72,200.87 L372.11,200.94 L372.5,201.01 L372.9,201.08 L373.3,201.15 L373.69,201.23 L374.08,201.3 L374.48,201.37 L374.88,201.44 L375.27,201.52 L375.67,201.59 L376.06,201.67 L376.45,201.74 L376.85,201.82 L377.25,201.9 L377.64,201.98 L378.04,202.07 L378.43,202.15 L378.82,202.24 L379.22,202.33 L379.62,202.42 L380.01,202.51 L380.4,202.6 L380.8,202.7 L381.19,202.79 L381.59,202.89 L381.99,202.99 L382.38,203.09 L382.77,203.19 L383.17,203.29 L383.56,203.39 L383.96,203.49 L384.36,203.59 L384.75,203.69 L385.14,203.79 L385.54,203.89 L385.94,203.99 L386.33,204.08 L386.73,204.18 L387.12,204.28 L387.51,204.37 L387.91,204.47 L388.31,204.56 L388.7,204.65 L389.1,204.74 L389.49,204.82 L389.88,204.91 L390.28,204.99 L390.68,205.07 L391.07,205.14 L391.47,205.22 L391.86,205.29 L392.25,205.36 L392.65,205.42 L393.05,205.48 L393.44,205.54 L393.84,205.6 L394.23,205.66 L394.62,205.71 L395.02,205.77 L395.42,205.82 L395.81,205.88 L396.2,205.93 L396.6,205.99 L397,206.04 L397.39,206.09 L397.78,206.15 L398.18,206.2 L398.57,206.25 L398.97,206.3 L399.37,206.36 L399.76,206.41 L400.15,206.46 L400.55,206.51 L400.94,206.56 L401.34,206.61 L401.74,206.67 L402.13,206.72 L402.52,206.77 L402.92,206.82 L403.31,206.87 L403.71,206.92 L404.11,206.96 L404.5,207.01 L404.89,207.06 L405.29,207.11 L405.69,207.16 L406.08,207.21 L406.48,207.26 L406.87,207.3 L407.26,207.35 L407.66,207.4 L408.06,207.45 L408.45,207.49 L408.85,207.54 L409.24,207.59 L409.63,207.63 L410.03,207.68 L410.43,207.73 L410.82,207.77 L411.22,207.82 L411.61,207.86 L412,207.91 L412.4,207.96 L412.8,208 L413.19,208.05 L413.59,208.09 L413.98,208.14 L414.38,208.18 L414.77,208.23 L415.17,208.27 L415.56,208.31 L415.95,208.36 L416.35,208.4 L416.75,208.45 L417.14,208.49 L417.54,208.54 L417.93,208.58 L418.32,208.62 L418.72,208.67 L419.12,208.71 L419.51,208.75 L419.9,208.8 L420.3,208.84 L420.69,208.88 L421.09,208.93 L421.49,208.97 L421.88,209.01 L422.27,209.06 L422.67,209.1 L423.06,209.14 L423.46,209.19 L423.86,209.23 L424.25,209.27 L424.64,209.31 L425.04,209.36 L425.44,209.4 L425.83,209.44 L426.23,209.48 L426.62,209.53 L427.01,209.57 L427.41,209.61 L427.81,209.66 L428.2,209.7 L428.6,209.74 L428.99,209.78 L429.38,209.83 L429.78,209.87 L430.18,209.91 L430.57,209.95 L430.97,210 L431.36,210.04 L431.75,210.08 L432.15,210.13 L432.55,210.17 L432.94,210.21 L433.34,210.25 L433.73,210.3 L434.12,210.34 L434.52,210.38 L434.92,210.43 L435.31,210.47 L435.7,210.51 L436.1,210.56 L436.5,210.6 L436.89,210.64 L437.29,210.69 L437.68,210.73 L438.07,210.78 L438.47,210.82 L438.87,210.86 L439.26,210.91 L439.65,210.95 L440.05,211 L440.44,211.04 L440.84,211.09 L441.24,211.13 L441.63,211.17 L442.02,211.22 L442.42,211.26 L442.81,211.31 L443.21,211.36 L443.61,211.4 L444,211.45" fill="none" stroke="#dcefd9" stroke-width="2.35" stroke-linejoin="round"/>
<path d="M286,233.27 L286.39,233.2 L286.79,233.12 L287.19,233.04 L287.58,232.96 L287.98,232.87 L288.37,232.78 L288.76,232.68 L289.16,232.57 L289.56,232.46 L289.95,232.34 L290.35,232.21 L290.74,232.08 L291.13,231.94 L291.53,231.78 L291.93,231.62 L292.32,231.45 L292.71,231.27 L293.11,231.08 L293.5,230.87 L293.9,230.65 L294.3,230.42 L294.69,230.17 L295.08,229.91 L295.48,229.62 L295.88,229.33 L296.27,229.01 L296.67,228.67 L297.06,228.32 L297.45,227.94 L297.85,227.54 L298.25,227.11 L298.64,226.66 L299.04,226.19 L299.43,225.69 L299.82,225.15 L300.22,224.6 L300.62,224.01 L301.01,223.39 L301.4,222.73 L301.8,222.05 L302.19,221.33 L302.59,220.57 L302.99,219.78 L303.38,218.95 L303.77,218.09 L304.17,217.18 L304.56,216.24 L304.96,215.26 L305.36,214.24 L305.75,213.18 L306.14,212.08 L306.54,210.94 L306.94,209.76 L307.33,208.54 L307.73,207.29 L308.12,205.99 L308.51,204.65 L308.91,203.28 L309.31,201.86 L309.7,200.42 L310.1,198.93 L310.49,197.42 L310.88,195.87 L311.28,194.29 L311.68,192.69 L312.07,191.05 L312.46,189.4 L312.86,187.72 L313.25,186.02 L313.65,184.31 L314.05,182.59 L314.44,180.86 L314.83,179.13 L315.23,177.4 L315.62,175.67 L316.02,173.95 L316.42,172.25 L316.81,170.58 L317.2,168.93 L317.6,167.32 L318,165.76 L318.39,164.25 L318.79,162.8 L319.18,161.42 L319.57,160.11 L319.97,158.9 L320.37,157.79 L320.76,156.78 L321.15,155.88 L321.55,155.11 L321.94,154.47 L322.34,153.96 L322.74,153.59 L323.13,153.37 L323.52,153.3 L323.92,153.4 L324.31,153.72 L324.71,154.23 L325.11,154.94 L325.5,155.84 L325.89,156.88 L326.29,158.03 L326.69,159.29 L327.08,160.63 L327.48,162.05 L327.87,163.55 L328.26,165.12 L328.66,166.75 L329.06,168.43 L329.45,170.15 L329.85,171.91 L330.24,173.71 L330.63,175.53 L331.03,177.38 L331.43,179.25 L331.82,181.13 L332.21,183.03 L332.61,184.93 L333,186.85 L333.4,188.77 L333.8,190.68 L334.19,192.58 L334.58,194.46 L334.98,196.3 L335.38,198.12 L335.77,199.9 L336.17,201.64 L336.56,203.33 L336.95,204.99 L337.35,206.59 L337.75,208.14 L338.14,209.62 L338.54,211.04 L338.93,212.38 L339.32,213.64 L339.72,214.84 L340.12,215.96 L340.51,217.01 L340.9,217.99 L341.3,218.9 L341.69,219.74 L342.09,220.51 L342.49,221.22 L342.88,221.87 L343.27,222.47 L343.67,223.01 L344.06,223.51 L344.46,223.97 L344.86,224.39 L345.25,224.77 L345.64,225.12 L346.04,225.45 L346.44,225.75 L346.83,226.03 L347.23,226.29 L347.62,226.54 L348.01,226.78 L348.41,227.02 L348.81,227.24 L349.2,227.45 L349.6,227.65 L349.99,227.84 L350.38,228.02 L350.78,228.19 L351.18,228.35 L351.57,228.51 L351.96,228.65 L352.36,228.8 L352.75,228.94 L353.15,229.07 L353.55,229.2 L353.94,229.33 L354.33,229.45 L354.73,229.58 L355.12,229.7 L355.52,229.81 L355.92,229.93 L356.31,230.04 L356.7,230.16 L357.1,230.27 L357.5,230.38 L357.89,230.48 L358.29,230.59 L358.68,230.69 L359.07,230.8 L359.47,230.9 L359.87,231 L360.26,231.1 L360.65,231.19 L361.05,231.29 L361.44,231.38 L361.84,231.47 L362.24,231.56 L362.63,231.64 L363.02,231.72 L363.42,231.8 L363.81,231.88 L364.21,231.96 L364.61,232.03 L365,232.1 L365.39,232.17 L365.79,232.24 L366.19,232.31 L366.58,232.38 L366.98,232.45 L367.37,232.51 L367.76,232.58 L368.16,232.64 L368.56,232.7 L368.95,232.77 L369.35,232.83 L369.74,232.89 L370.13,232.95 L370.53,233.01 L370.93,233.06 L371.32,233.12 L371.72,233.18 L372.11,233.23 L372.5,233.28 L372.9,233.34 L373.3,233.39 L373.69,233.44 L374.08,233.49 L374.48,233.54 L374.88,233.58 L375.27,233.63 L375.67,233.67 L376.06,233.72 L376.45,233.76 L376.85,233.8 L377.25,233.84 L377.64,233.88 L378.04,233.92 L378.43,233.95 L378.82,233.99 L379.22,234.02 L379.62,234.06 L380.01,234.09 L380.4,234.13 L380.8,234.16 L381.19,234.19 L381.59,234.23 L381.99,234.26 L382.38,234.29 L382.77,234.32 L383.17,234.35 L383.56,234.38 L383.96,234.41 L384.36,234.44 L384.75,234.47 L385.14,234.5 L385.54,234.53 L385.94,234.56 L386.33,234.58 L386.73,234.61 L387.12,234.64 L387.51,234.66 L387.91,234.69 L388.31,234.72 L388.7,234.74 L389.1,234.77 L389.49,234.79 L389.88,234.82 L390.28,234.84 L390.68,234.87 L391.07,234.89 L391.47,234.92 L391.86,234.94 L392.25,234.96 L392.65,234.99 L393.05,235.01 L393.44,235.03 L393.84,235.05 L394.23,235.07 L394.62,235.1 L395.02,235.12 L395.42,235.14 L395.81,235.16 L396.2,235.18 L396.6,235.2 L397,235.22 L397.39,235.24 L397.78,235.26 L398.18,235.28 L398.57,235.3 L398.97,235.32 L399.37,235.34 L399.76,235.36 L400.15,235.38 L400.55,235.4 L400.94,235.42 L401.34,235.44 L401.74,235.46 L402.13,235.48 L402.52,235.49 L402.92,235.51 L403.31,235.53 L403.71,235.55 L404.11,235.57 L404.5,235.59 L404.89,235.6 L405.29,235.62 L405.69,235.64 L406.08,235.66 L406.48,235.67 L406.87,235.69 L407.26,235.71 L407.66,235.72 L408.06,235.74 L408.45,235.76 L408.85,235.77 L409.24,235.79 L409.63,235.81 L410.03,235.82 L410.43,235.84 L410.82,235.85 L411.22,235.87 L411.61,235.88 L412,235.9 L412.4,235.91 L412.8,235.93 L413.19,235.94 L413.59,235.96 L413.98,235.97 L414.38,235.99 L414.77,236 L415.17,236.02 L415.56,236.03 L415.95,236.05 L416.35,236.06 L416.75,236.07 L417.14,236.09 L417.54,236.1 L417.93,236.11 L418.32,236.13 L418.72,236.14 L419.12,236.16 L419.51,236.17 L419.9,236.18 L420.3,236.2 L420.69,236.21 L421.09,236.22 L421.49,236.23 L421.88,236.25 L422.27,236.26 L422.67,236.27 L423.06,236.29 L423.46,236.3 L423.86,236.31 L424.25,236.32 L424.64,236.34 L425.04,236.35 L425.44,236.36 L425.83,236.37 L426.23,236.39 L426.62,236.4 L427.01,236.41 L427.41,236.42 L427.81,236.44 L428.2,236.45 L428.6,236.46 L428.99,236.47 L429.38,236.48 L429.78,236.5 L430.18,236.51 L430.57,236.52 L430.97,236.53 L431.36,236.55 L431.75,236.56 L432.15,236.57 L432.55,236.58 L432.94,236.59 L433.34,236.61 L433.73,236.62 L434.12,236.63 L434.52,236.64 L434.92,236.66 L435.31,236.67 L435.7,236.68 L436.1,236.69 L436.5,236.71 L436.89,236.72 L437.29,236.73 L437.68,236.74 L438.07,236.75 L438.47,236.77 L438.87,236.78 L439.26,236.79 L439.65,236.81 L440.05,236.82 L440.44,236.83 L440.84,236.84 L441.24,236.86 L441.63,236.87 L442.02,236.88 L442.42,236.9 L442.81,236.91 L443.21,236.92 L443.61,236.93 L444,236.95" fill="none" stroke="#f2f5bd" stroke-width="2.35" stroke-linejoin="round"/>
<path d="M286,252.49 L286.39,252.4 L286.79,252.3 L287.19,252.2 L287.58,252.09 L287.98,251.97 L288.37,251.85 L288.76,251.71 L289.16,251.58 L289.56,251.43 L289.95,251.27 L290.35,251.1 L290.74,250.93 L291.13,250.74 L291.53,250.54 L291.93,250.33 L292.32,250.1 L292.71,249.86 L293.11,249.6 L293.5,249.33 L293.9,249.04 L294.3,248.73 L294.69,248.4 L295.08,248.05 L295.48,247.68 L295.88,247.29 L296.27,246.87 L296.67,246.43 L297.06,245.96 L297.45,245.46 L297.85,244.93 L298.25,244.38 L298.64,243.79 L299.04,243.17 L299.43,242.52 L299.82,241.83 L300.22,241.1 L300.62,240.34 L301.01,239.53 L301.4,238.69 L301.8,237.81 L302.19,236.88 L302.59,235.91 L302.99,234.9 L303.38,233.84 L303.77,232.74 L304.17,231.6 L304.56,230.4 L304.96,229.16 L305.36,227.88 L305.75,226.54 L306.14,225.16 L306.54,223.74 L306.94,222.26 L307.33,220.74 L307.73,219.18 L308.12,217.57 L308.51,215.92 L308.91,214.23 L309.31,212.49 L309.7,210.72 L310.1,208.91 L310.49,207.06 L310.88,205.18 L311.28,203.27 L311.68,201.33 L312.07,199.37 L312.46,197.39 L312.86,195.39 L313.25,193.37 L313.65,191.35 L314.05,189.32 L314.44,187.29 L314.83,185.27 L315.23,183.26 L315.62,181.28 L316.02,179.31 L316.42,177.39 L316.81,175.51 L317.2,173.68 L317.6,171.91 L318,170.21 L318.39,168.59 L318.79,167.07 L319.18,165.65 L319.57,164.35 L319.97,163.17 L320.37,162.12 L320.76,161.22 L321.15,160.46 L321.55,159.87 L321.94,159.44 L322.34,159.19 L322.74,159.1 L323.13,159.2 L323.52,159.51 L323.92,160.02 L324.31,160.72 L324.71,161.61 L325.11,162.67 L325.5,163.91 L325.89,165.28 L326.29,166.75 L326.69,168.31 L327.08,169.95 L327.48,171.66 L327.87,173.44 L328.26,175.28 L328.66,177.17 L329.06,179.09 L329.45,181.05 L329.85,183.04 L330.24,185.05 L330.63,187.07 L331.03,189.1 L331.43,191.14 L331.82,193.18 L332.21,195.21 L332.61,197.22 L333,199.2 L333.4,201.15 L333.8,203.07 L334.19,204.94 L334.58,206.76 L334.98,208.53 L335.38,210.24 L335.77,211.9 L336.17,213.49 L336.56,215.01 L336.95,216.46 L337.35,217.82 L337.75,219.09 L338.14,220.27 L338.54,221.35 L338.93,222.36 L339.32,223.28 L339.72,224.14 L340.12,224.94 L340.51,225.69 L340.9,226.4 L341.3,227.07 L341.69,227.71 L342.09,228.34 L342.49,228.96 L342.88,229.58 L343.27,230.19 L343.67,230.77 L344.06,231.31 L344.46,231.83 L344.86,232.32 L345.25,232.78 L345.64,233.22 L346.04,233.63 L346.44,234.02 L346.83,234.39 L347.23,234.74 L347.62,235.06 L348.01,235.37 L348.41,235.66 L348.81,235.94 L349.2,236.19 L349.6,236.43 L349.99,236.66 L350.38,236.87 L350.78,237.07 L351.18,237.25 L351.57,237.42 L351.96,237.58 L352.36,237.74 L352.75,237.89 L353.15,238.04 L353.55,238.18 L353.94,238.32 L354.33,238.45 L354.73,238.59 L355.12,238.72 L355.52,238.86 L355.92,238.99 L356.31,239.12 L356.7,239.25 L357.1,239.37 L357.5,239.5 L357.89,239.63 L358.29,239.76 L358.68,239.88 L359.07,240.01 L359.47,240.13 L359.87,240.26 L360.26,240.38 L360.65,240.5 L361.05,240.62 L361.44,240.74 L361.84,240.85 L362.24,240.97 L362.63,241.08 L363.02,241.19 L363.42,241.3 L363.81,241.4 L364.21,241.5 L364.61,241.61 L365,241.71 L365.39,241.81 L365.79,241.92 L366.19,242.02 L366.58,242.13 L366.98,242.24 L367.37,242.35 L367.76,242.46 L368.16,242.57 L368.56,242.68 L368.95,242.8 L369.35,242.91 L369.74,243.02 L370.13,243.13 L370.53,243.24 L370.93,243.35 L371.32,243.46 L371.72,243.56 L372.11,243.67 L372.5,243.78 L372.9,243.88 L373.3,243.98 L373.69,244.08 L374.08,244.18 L374.48,244.27 L374.88,244.37 L375.27,244.46 L375.67,244.54 L376.06,244.63 L376.45,244.71 L376.85,244.79 L377.25,244.86 L377.64,244.94 L378.04,245 L378.43,245.07 L378.82,245.13 L379.22,245.19 L379.62,245.25 L380.01,245.3 L380.4,245.36 L380.8,245.42 L381.19,245.47 L381.59,245.53 L381.99,245.58 L382.38,245.63 L382.77,245.68 L383.17,245.73 L383.56,245.78 L383.96,245.83 L384.36,245.88 L384.75,245.93 L385.14,245.97 L385.54,246.02 L385.94,246.06 L386.33,246.11 L386.73,246.15 L387.12,246.19 L387.51,246.24 L387.91,246.28 L388.31,246.32 L388.7,246.36 L389.1,246.4 L389.49,246.44 L389.88,246.48 L390.28,246.52 L390.68,246.56 L391.07,246.59 L391.47,246.63 L391.86,246.67 L392.25,246.7 L392.65,246.74 L393.05,246.78 L393.44,246.81 L393.84,246.85 L394.23,246.88 L394.62,246.91 L395.02,246.95 L395.42,246.98 L395.81,247.02 L396.2,247.05 L396.6,247.08 L397,247.12 L397.39,247.15 L397.78,247.18 L398.18,247.22 L398.57,247.25 L398.97,247.28 L399.37,247.31 L399.76,247.35 L400.15,247.38 L400.55,247.41 L400.94,247.44 L401.34,247.48 L401.74,247.51 L402.13,247.54 L402.52,247.58 L402.92,247.61 L403.31,247.64 L403.71,247.68 L404.11,247.71 L404.5,247.74 L404.89,247.78 L405.29,247.81 L405.69,247.84 L406.08,247.88 L406.48,247.91 L406.87,247.94 L407.26,247.98 L407.66,248.01 L408.06,248.04 L408.45,248.08 L408.85,248.11 L409.24,248.14 L409.63,248.17 L410.03,248.21 L410.43,248.24 L410.82,248.27 L411.22,248.3 L411.61,248.33 L412,248.36 L412.4,248.39 L412.8,248.43 L413.19,248.46 L413.59,248.49 L413.98,248.52 L414.38,248.55 L414.77,248.58 L415.17,248.61 L415.56,248.64 L415.95,248.67 L416.35,248.7 L416.75,248.73 L417.14,248.76 L417.54,248.79 L417.93,248.82 L418.32,248.85 L418.72,248.88 L419.12,248.91 L419.51,248.94 L419.9,248.97 L420.3,249 L420.69,249.03 L421.09,249.06 L421.49,249.09 L421.88,249.12 L422.27,249.15 L422.67,249.18 L423.06,249.21 L423.46,249.23 L423.86,249.26 L424.25,249.29 L424.64,249.32 L425.04,249.35 L425.44,249.38 L425.83,249.41 L426.23,249.44 L426.62,249.46 L427.01,249.49 L427.41,249.52 L427.81,249.55 L428.2,249.58 L428.6,249.61 L428.99,249.64 L429.38,249.67 L429.78,249.69 L430.18,249.72 L430.57,249.75 L430.97,249.78 L431.36,249.81 L431.75,249.84 L432.15,249.86 L432.55,249.89 L432.94,249.92 L433.34,249.95 L433.73,249.98 L434.12,250.01 L434.52,250.04 L434.92,250.06 L435.31,250.09 L435.7,250.12 L436.1,250.15 L436.5,250.18 L436.89,250.21 L437.29,250.24 L437.68,250.26 L438.07,250.29 L438.47,250.32 L438.87,250.35 L439.26,250.38 L439.65,250.41 L440.05,250.44 L440.44,250.47 L440.84,250.49 L441.24,250.52 L441.63,250.55 L442.02,250.58 L442.42,250.61 L442.81,250.64 L443.21,250.67 L443.61,250.7 L444,250.73" fill="none" stroke="#fde69c" stroke-width="2.35" stroke-linejoin="round"/>
<path d="M286,270.69 L286.39,270.6 L286.79,270.5 L287.19,270.4 L287.58,270.29 L287.98,270.17 L288.37,270.05 L288.76,269.91 L289.16,269.78 L289.56,269.63 L289.95,269.47 L290.35,269.3 L290.74,269.13 L291.13,268.94 L291.53,268.74 L291.93,268.53 L292.32,268.3 L292.71,268.06 L293.11,267.8 L293.5,267.53 L293.9,267.24 L294.3,266.93 L294.69,266.6 L295.08,266.25 L295.48,265.88 L295.88,265.49 L296.27,265.07 L296.67,264.63 L297.06,264.16 L297.45,263.66 L297.85,263.13 L298.25,262.58 L298.64,261.99 L299.04,261.37 L299.43,260.72 L299.82,260.03 L300.22,259.3 L300.62,258.54 L301.01,257.73 L301.4,256.89 L301.8,256.01 L302.19,255.08 L302.59,254.11 L302.99,253.1 L303.38,252.04 L303.77,250.94 L304.17,249.8 L304.56,248.6 L304.96,247.36 L305.36,246.08 L305.75,244.74 L306.14,243.36 L306.54,241.94 L306.94,240.46 L307.33,238.94 L307.73,237.38 L308.12,235.77 L308.51,234.12 L308.91,232.43 L309.31,230.69 L309.7,228.92 L310.1,227.11 L310.49,225.26 L310.88,223.38 L311.28,221.47 L311.68,219.53 L312.07,217.57 L312.46,215.59 L312.86,213.59 L313.25,211.57 L313.65,209.55 L314.05,207.52 L314.44,205.49 L314.83,203.47 L315.23,201.46 L315.62,199.48 L316.02,197.51 L316.42,195.59 L316.81,193.71 L317.2,191.88 L317.6,190.11 L318,188.41 L318.39,186.79 L318.79,185.27 L319.18,183.85 L319.57,182.55 L319.97,181.37 L320.37,180.32 L320.76,179.42 L321.15,178.66 L321.55,178.07 L321.94,177.64 L322.34,177.39 L322.74,177.3 L323.13,177.4 L323.52,177.71 L323.92,178.22 L324.31,178.92 L324.71,179.81 L325.11,180.87 L325.5,182.11 L325.89,183.45 L326.29,184.83 L326.69,186.27 L327.08,187.74 L327.48,189.26 L327.87,190.82 L328.26,192.42 L328.66,194.06 L329.06,195.74 L329.45,197.46 L329.85,199.23 L330.24,201.03 L330.63,202.86 L331.03,204.67 L331.43,206.46 L331.82,208.24 L332.21,210 L332.61,211.74 L333,213.46 L333.4,215.16 L333.8,216.84 L334.19,218.51 L334.58,220.15 L334.98,221.78 L335.38,223.37 L335.77,224.89 L336.17,226.37 L336.56,227.78 L336.95,229.14 L337.35,230.45 L337.75,231.71 L338.14,232.89 L338.54,234.01 L338.93,235.07 L339.32,236.06 L339.72,237 L340.12,237.89 L340.51,238.74 L340.9,239.53 L341.3,240.3 L341.69,241.02 L342.09,241.72 L342.49,242.4 L342.88,243.06 L343.27,243.7 L343.67,244.34 L344.06,244.98 L344.46,245.59 L344.86,246.2 L345.25,246.79 L345.64,247.37 L346.04,247.94 L346.44,248.49 L346.83,249.03 L347.23,249.56 L347.62,250.08 L348.01,250.58 L348.41,251.07 L348.81,251.55 L349.2,252.01 L349.6,252.46 L349.99,252.89 L350.38,253.31 L350.78,253.71 L351.18,254.1 L351.57,254.46 L351.96,254.81 L352.36,255.14 L352.75,255.45 L353.15,255.73 L353.55,255.99 L353.94,256.22 L354.33,256.44 L354.73,256.66 L355.12,256.87 L355.52,257.08 L355.92,257.28 L356.31,257.48 L356.7,257.67 L357.1,257.85 L357.5,258.03 L357.89,258.21 L358.29,258.37 L358.68,258.53 L359.07,258.67 L359.47,258.81 L359.87,258.94 L360.26,259.05 L360.65,259.16 L361.05,259.27 L361.44,259.38 L361.84,259.49 L362.24,259.6 L362.63,259.7 L363.02,259.81 L363.42,259.92 L363.81,260.02 L364.21,260.13 L364.61,260.23 L365,260.34 L365.39,260.44 L365.79,260.55 L366.19,260.65 L366.58,260.75 L366.98,260.86 L367.37,260.96 L367.76,261.06 L368.16,261.16 L368.56,261.27 L368.95,261.37 L369.35,261.47 L369.74,261.57 L370.13,261.67 L370.53,261.77 L370.93,261.87 L371.32,261.97 L371.72,262.07 L372.11,262.17 L372.5,262.27 L372.9,262.37 L373.3,262.47 L373.69,262.56 L374.08,262.66 L374.48,262.76 L374.88,262.85 L375.27,262.95 L375.67,263.04 L376.06,263.14 L376.45,263.23 L376.85,263.32 L377.25,263.42 L377.64,263.51 L378.04,263.6 L378.43,263.69 L378.82,263.78 L379.22,263.87 L379.62,263.96 L380.01,264.05 L380.4,264.13 L380.8,264.22 L381.19,264.31 L381.59,264.39 L381.99,264.47 L382.38,264.56 L382.77,264.64 L383.17,264.72 L383.56,264.8 L383.96,264.88 L384.36,264.96 L384.75,265.04 L385.14,265.12 L385.54,265.19 L385.94,265.27 L386.33,265.34 L386.73,265.42 L387.12,265.49 L387.51,265.56 L387.91,265.63 L388.31,265.7 L388.7,265.77 L389.1,265.83 L389.49,265.9 L389.88,265.96 L390.28,266.03 L390.68,266.09 L391.07,266.15 L391.47,266.21 L391.86,266.27 L392.25,266.33 L392.65,266.38 L393.05,266.44 L393.44,266.49 L393.84,266.54 L394.23,266.6 L394.62,266.65 L395.02,266.7 L395.42,266.75 L395.81,266.8 L396.2,266.84 L396.6,266.89 L397,266.94 L397.39,266.99 L397.78,267.03 L398.18,267.08 L398.57,267.12 L398.97,267.17 L399.37,267.21 L399.76,267.25 L400.15,267.3 L400.55,267.34 L400.94,267.38 L401.34,267.42 L401.74,267.46 L402.13,267.5 L402.52,267.54 L402.92,267.58 L403.31,267.62 L403.71,267.66 L404.11,267.69 L404.5,267.73 L404.89,267.77 L405.29,267.8 L405.69,267.84 L406.08,267.87 L406.48,267.91 L406.87,267.94 L407.26,267.98 L407.66,268.01 L408.06,268.04 L408.45,268.08 L408.85,268.11 L409.24,268.14 L409.63,268.17 L410.03,268.2 L410.43,268.23 L410.82,268.27 L411.22,268.3 L411.61,268.33 L412,268.35 L412.4,268.38 L412.8,268.41 L413.19,268.44 L413.59,268.47 L413.98,268.5 L414.38,268.53 L414.77,268.55 L415.17,268.58 L415.56,268.61 L415.95,268.64 L416.35,268.66 L416.75,268.69 L417.14,268.72 L417.54,268.74 L417.93,268.77 L418.32,268.79 L418.72,268.82 L419.12,268.84 L419.51,268.87 L419.9,268.89 L420.3,268.92 L420.69,268.94 L421.09,268.97 L421.49,268.99 L421.88,269.02 L422.27,269.04 L422.67,269.07 L423.06,269.09 L423.46,269.11 L423.86,269.14 L424.25,269.16 L424.64,269.18 L425.04,269.21 L425.44,269.23 L425.83,269.26 L426.23,269.28 L426.62,269.3 L427.01,269.33 L427.41,269.35 L427.81,269.37 L428.2,269.4 L428.6,269.42 L428.99,269.44 L429.38,269.47 L429.78,269.49 L430.18,269.51 L430.57,269.54 L430.97,269.56 L431.36,269.59 L431.75,269.61 L432.15,269.63 L432.55,269.66 L432.94,269.68 L433.34,269.71 L433.73,269.73 L434.12,269.75 L434.52,269.78 L434.92,269.8 L435.31,269.83 L435.7,269.85 L436.1,269.88 L436.5,269.9 L436.89,269.93 L437.29,269.96 L437.68,269.98 L438.07,270.01 L438.47,270.03 L438.87,270.06 L439.26,270.09 L439.65,270.11 L440.05,270.14 L440.44,270.17 L440.84,270.2 L441.24,270.22 L441.63,270.25 L442.02,270.28 L442.42,270.31 L442.81,270.34 L443.21,270.37 L443.61,270.4 L444,270.43" fill="none" stroke="#fdd489" stroke-width="2.35" stroke-linejoin="round"/>
<path d="M286,288.59 L286.39,288.5 L286.79,288.4 L287.19,288.3 L287.58,288.19 L287.98,288.07 L288.37,287.95 L288.76,287.82 L289.16,287.68 L289.56,287.53 L289.95,287.37 L290.35,287.21 L290.74,287.03 L291.13,286.84 L291.53,286.64 L291.93,286.43 L292.32,286.21 L292.71,285.97 L293.11,285.71 L293.5,285.44 L293.9,285.15 L294.3,284.84 L294.69,284.51 L295.08,284.16 L295.48,283.8 L295.88,283.4 L296.27,282.99 L296.67,282.55 L297.06,282.08 L297.45,281.58 L297.85,281.06 L298.25,280.5 L298.64,279.92 L299.04,279.3 L299.43,278.65 L299.82,277.96 L300.22,277.24 L300.62,276.47 L301.01,275.67 L301.4,274.83 L301.8,273.95 L302.19,273.03 L302.59,272.07 L302.99,271.06 L303.38,270 L303.77,268.91 L304.17,267.76 L304.56,266.57 L304.96,265.34 L305.36,264.05 L305.75,262.73 L306.14,261.35 L306.54,259.93 L306.94,258.46 L307.33,256.95 L307.73,255.39 L308.12,253.78 L308.51,252.14 L308.91,250.45 L309.31,248.72 L309.7,246.95 L310.1,245.15 L310.49,243.31 L310.88,241.43 L311.28,239.53 L311.68,237.6 L312.07,235.64 L312.46,233.66 L312.86,231.67 L313.25,229.66 L313.65,227.64 L314.05,225.62 L314.44,223.6 L314.83,221.59 L315.23,219.59 L315.62,217.6 L316.02,215.65 L316.42,213.73 L316.81,211.85 L317.2,210.03 L317.6,208.27 L318,206.57 L318.39,204.96 L318.79,203.45 L319.18,202.03 L319.57,200.73 L319.97,199.55 L320.37,198.51 L320.76,197.61 L321.15,196.86 L321.55,196.27 L321.94,195.84 L322.34,195.59 L322.74,195.5 L323.13,195.6 L323.52,195.91 L323.92,196.41 L324.31,197.11 L324.71,198 L325.11,199.06 L325.5,200.29 L325.89,201.63 L326.29,203.03 L326.69,204.48 L327.08,205.99 L327.48,207.54 L327.87,209.14 L328.26,210.79 L328.66,212.47 L329.06,214.21 L329.45,215.98 L329.85,217.79 L330.24,219.65 L330.63,221.52 L331.03,223.38 L331.43,225.22 L331.82,227.05 L332.21,228.86 L332.61,230.66 L333,232.43 L333.4,234.19 L333.8,235.93 L334.19,237.66 L334.58,239.37 L334.98,241.07 L335.38,242.76 L335.77,244.45 L336.17,246.11 L336.56,247.75 L336.95,249.36 L337.35,250.94 L337.75,252.47 L338.14,253.96 L338.54,255.39 L338.93,256.77 L339.32,258.09 L339.72,259.36 L340.12,260.58 L340.51,261.74 L340.9,262.85 L341.3,263.92 L341.69,264.93 L342.09,265.88 L342.49,266.79 L342.88,267.65 L343.27,268.45 L343.67,269.21 L344.06,269.93 L344.46,270.6 L344.86,271.23 L345.25,271.82 L345.64,272.38 L346.04,272.9 L346.44,273.4 L346.83,273.86 L347.23,274.29 L347.62,274.7 L348.01,275.08 L348.41,275.44 L348.81,275.78 L349.2,276.1 L349.6,276.41 L349.99,276.69 L350.38,276.96 L350.78,277.22 L351.18,277.47 L351.57,277.71 L351.96,277.94 L352.36,278.16 L352.75,278.37 L353.15,278.58 L353.55,278.78 L353.94,278.97 L354.33,279.16 L354.73,279.35 L355.12,279.53 L355.52,279.71 L355.92,279.88 L356.31,280.05 L356.7,280.22 L357.1,280.39 L357.5,280.55 L357.89,280.71 L358.29,280.87 L358.68,281.03 L359.07,281.18 L359.47,281.33 L359.87,281.48 L360.26,281.63 L360.65,281.77 L361.05,281.92 L361.44,282.05 L361.84,282.19 L362.24,282.33 L362.63,282.46 L363.02,282.59 L363.42,282.71 L363.81,282.83 L364.21,282.95 L364.61,283.07 L365,283.18 L365.39,283.28 L365.79,283.39 L366.19,283.49 L366.58,283.58 L366.98,283.67 L367.37,283.75 L367.76,283.83 L368.16,283.91 L368.56,283.98 L368.95,284.05 L369.35,284.11 L369.74,284.18 L370.13,284.25 L370.53,284.31 L370.93,284.38 L371.32,284.44 L371.72,284.5 L372.11,284.57 L372.5,284.63 L372.9,284.69 L373.3,284.74 L373.69,284.8 L374.08,284.86 L374.48,284.92 L374.88,284.97 L375.27,285.03 L375.67,285.08 L376.06,285.13 L376.45,285.19 L376.85,285.24 L377.25,285.29 L377.64,285.34 L378.04,285.39 L378.43,285.44 L378.82,285.49 L379.22,285.53 L379.62,285.58 L380.01,285.63 L380.4,285.67 L380.8,285.72 L381.19,285.76 L381.59,285.81 L381.99,285.85 L382.38,285.89 L382.77,285.94 L383.17,285.98 L383.56,286.02 L383.96,286.06 L384.36,286.1 L384.75,286.14 L385.14,286.18 L385.54,286.22 L385.94,286.26 L386.33,286.3 L386.73,286.34 L387.12,286.38 L387.51,286.41 L387.91,286.45 L388.31,286.49 L388.7,286.53 L389.1,286.56 L389.49,286.6 L389.88,286.63 L390.28,286.67 L390.68,286.71 L391.07,286.74 L391.47,286.78 L391.86,286.81 L392.25,286.85 L392.65,286.88 L393.05,286.91 L393.44,286.95 L393.84,286.98 L394.23,287.02 L394.62,287.05 L395.02,287.08 L395.42,287.12 L395.81,287.15 L396.2,287.19 L396.6,287.22 L397,287.25 L397.39,287.29 L397.78,287.32 L398.18,287.35 L398.57,287.39 L398.97,287.42 L399.37,287.45 L399.76,287.49 L400.15,287.52 L400.55,287.56 L400.94,287.59 L401.34,287.62 L401.74,287.66 L402.13,287.69 L402.52,287.73 L402.92,287.76 L403.31,287.8 L403.71,287.83 L404.11,287.87 L404.5,287.9 L404.89,287.94 L405.29,287.98 L405.69,288.01 L406.08,288.05 L406.48,288.09 L406.87,288.12 L407.26,288.16 L407.66,288.2 L408.06,288.23 L408.45,288.27 L408.85,288.3 L409.24,288.34 L409.63,288.37 L410.03,288.41 L410.43,288.44 L410.82,288.48 L411.22,288.51 L411.61,288.55 L412,288.58 L412.4,288.62 L412.8,288.65 L413.19,288.68 L413.59,288.72 L413.98,288.75 L414.38,288.79 L414.77,288.82 L415.17,288.85 L415.56,288.88 L415.95,288.92 L416.35,288.95 L416.75,288.98 L417.14,289.02 L417.54,289.05 L417.93,289.08 L418.32,289.11 L418.72,289.15 L419.12,289.18 L419.51,289.21 L419.9,289.24 L420.3,289.27 L420.69,289.31 L421.09,289.34 L421.49,289.37 L421.88,289.4 L422.27,289.43 L422.67,289.46 L423.06,289.49 L423.46,289.53 L423.86,289.56 L424.25,289.59 L424.64,289.62 L425.04,289.65 L425.44,289.68 L425.83,289.71 L426.23,289.74 L426.62,289.77 L427.01,289.8 L427.41,289.83 L427.81,289.87 L428.2,289.9 L428.6,289.93 L428.99,289.96 L429.38,289.99 L429.78,290.02 L430.18,290.05 L430.57,290.08 L430.97,290.11 L431.36,290.14 L431.75,290.17 L432.15,290.2 L432.55,290.23 L432.94,290.26 L433.34,290.29 L433.73,290.32 L434.12,290.35 L434.52,290.38 L434.92,290.42 L435.31,290.45 L435.7,290.48 L436.1,290.51 L436.5,290.54 L436.89,290.57 L437.29,290.6 L437.68,290.63 L438.07,290.66 L438.47,290.69 L438.87,290.72 L439.26,290.75 L439.65,290.78 L440.05,290.82 L440.44,290.85 L440.84,290.88 L441.24,290.91 L441.63,290.94 L442.02,290.97 L442.42,291 L442.81,291.03 L443.21,291.07 L443.61,291.1 L444,291.13" fill="none" stroke="#fcc078" stroke-width="2.3" stroke-linejoin="round" stroke-dasharray="0.1,4.4" stroke-linecap="round"/>
<path d="M286,308.69 L286.39,308.6 L286.79,308.5 L287.19,308.4 L287.58,308.29 L287.98,308.17 L288.37,308.04 L288.76,307.91 L289.16,307.77 L289.56,307.62 L289.95,307.47 L290.35,307.3 L290.74,307.12 L291.13,306.93 L291.53,306.73 L291.93,306.52 L292.32,306.29 L292.71,306.05 L293.11,305.79 L293.5,305.52 L293.9,305.23 L294.3,304.92 L294.69,304.59 L295.08,304.24 L295.48,303.86 L295.88,303.47 L296.27,303.05 L296.67,302.61 L297.06,302.14 L297.45,301.64 L297.85,301.11 L298.25,300.55 L298.64,299.96 L299.04,299.34 L299.43,298.68 L299.82,297.99 L300.22,297.26 L300.62,296.5 L301.01,295.69 L301.4,294.85 L301.8,293.96 L302.19,293.03 L302.59,292.06 L302.99,291.04 L303.38,289.98 L303.77,288.88 L304.17,287.73 L304.56,286.53 L304.96,285.29 L305.36,284 L305.75,282.66 L306.14,281.27 L306.54,279.84 L306.94,278.37 L307.33,276.84 L307.73,275.27 L308.12,273.66 L308.51,272 L308.91,270.3 L309.31,268.56 L309.7,266.78 L310.1,264.97 L310.49,263.11 L310.88,261.23 L311.28,259.31 L311.68,257.37 L312.07,255.4 L312.46,253.41 L312.86,251.4 L313.25,249.38 L313.65,247.35 L314.05,245.32 L314.44,243.28 L314.83,241.26 L315.23,239.24 L315.62,237.25 L316.02,235.28 L316.42,233.35 L316.81,231.46 L317.2,229.62 L317.6,227.85 L318,226.15 L318.39,224.53 L318.79,223 L319.18,221.57 L319.57,220.26 L319.97,219.08 L320.37,218.03 L320.76,217.12 L321.15,216.37 L321.55,215.77 L321.94,215.35 L322.34,215.09 L322.74,215 L323.13,215.1 L323.52,215.41 L323.92,215.92 L324.31,216.62 L324.71,217.51 L325.11,218.58 L325.5,219.82 L325.89,221.18 L326.29,222.6 L326.69,224.09 L327.08,225.64 L327.48,227.25 L327.87,228.91 L328.26,230.62 L328.66,232.38 L329.06,234.18 L329.45,236.02 L329.85,237.9 L330.24,239.82 L330.63,241.76 L331.03,243.7 L331.43,245.63 L331.82,247.55 L332.21,249.45 L332.61,251.34 L333,253.2 L333.4,255.04 L333.8,256.86 L334.19,258.65 L334.58,260.41 L334.98,262.15 L335.38,263.85 L335.77,265.5 L336.17,267.11 L336.56,268.68 L336.95,270.2 L337.35,271.68 L337.75,273.1 L338.14,274.46 L338.54,275.74 L338.93,276.96 L339.32,278.11 L339.72,279.2 L340.12,280.22 L340.51,281.18 L340.9,282.08 L341.3,282.92 L341.69,283.68 L342.09,284.36 L342.49,284.97 L342.88,285.52 L343.27,286.04 L343.67,286.54 L344.06,287.03 L344.46,287.53 L344.86,288.07 L345.25,288.65 L345.64,289.24 L346.04,289.82 L346.44,290.37 L346.83,290.89 L347.23,291.4 L347.62,291.89 L348.01,292.36 L348.41,292.81 L348.81,293.25 L349.2,293.67 L349.6,294.08 L349.99,294.47 L350.38,294.86 L350.78,295.22 L351.18,295.58 L351.57,295.92 L351.96,296.26 L352.36,296.58 L352.75,296.89 L353.15,297.18 L353.55,297.47 L353.94,297.74 L354.33,298 L354.73,298.25 L355.12,298.49 L355.52,298.71 L355.92,298.92 L356.31,299.12 L356.7,299.31 L357.1,299.51 L357.5,299.71 L357.89,299.9 L358.29,300.1 L358.68,300.29 L359.07,300.48 L359.47,300.67 L359.87,300.86 L360.26,301.05 L360.65,301.24 L361.05,301.42 L361.44,301.6 L361.84,301.78 L362.24,301.96 L362.63,302.14 L363.02,302.31 L363.42,302.48 L363.81,302.65 L364.21,302.82 L364.61,302.98 L365,303.14 L365.39,303.29 L365.79,303.44 L366.19,303.59 L366.58,303.73 L366.98,303.87 L367.37,304 L367.76,304.12 L368.16,304.25 L368.56,304.36 L368.95,304.47 L369.35,304.58 L369.74,304.67 L370.13,304.77 L370.53,304.85 L370.93,304.93 L371.32,305.01 L371.72,305.08 L372.11,305.16 L372.5,305.23 L372.9,305.3 L373.3,305.37 L373.69,305.43 L374.08,305.5 L374.48,305.56 L374.88,305.62 L375.27,305.68 L375.67,305.74 L376.06,305.8 L376.45,305.85 L376.85,305.91 L377.25,305.96 L377.64,306.01 L378.04,306.06 L378.43,306.11 L378.82,306.16 L379.22,306.2 L379.62,306.25 L380.01,306.29 L380.4,306.33 L380.8,306.37 L381.19,306.41 L381.59,306.45 L381.99,306.49 L382.38,306.53 L382.77,306.57 L383.17,306.6 L383.56,306.64 L383.96,306.67 L384.36,306.71 L384.75,306.74 L385.14,306.77 L385.54,306.81 L385.94,306.84 L386.33,306.87 L386.73,306.9 L387.12,306.93 L387.51,306.96 L387.91,306.99 L388.31,307.02 L388.7,307.05 L389.1,307.08 L389.49,307.1 L389.88,307.13 L390.28,307.16 L390.68,307.19 L391.07,307.22 L391.47,307.24 L391.86,307.27 L392.25,307.3 L392.65,307.33 L393.05,307.36 L393.44,307.38 L393.84,307.41 L394.23,307.44 L394.62,307.47 L395.02,307.5 L395.42,307.53 L395.81,307.56 L396.2,307.59 L396.6,307.62 L397,307.65 L397.39,307.69 L397.78,307.72 L398.18,307.75 L398.57,307.79 L398.97,307.82 L399.37,307.85 L399.76,307.89 L400.15,307.92 L400.55,307.96 L400.94,307.99 L401.34,308.03 L401.74,308.06 L402.13,308.1 L402.52,308.13 L402.92,308.17 L403.31,308.2 L403.71,308.24 L404.11,308.27 L404.5,308.31 L404.89,308.34 L405.29,308.38 L405.69,308.41 L406.08,308.44 L406.48,308.48 L406.87,308.51 L407.26,308.55 L407.66,308.58 L408.06,308.61 L408.45,308.65 L408.85,308.68 L409.24,308.72 L409.63,308.75 L410.03,308.78 L410.43,308.82 L410.82,308.85 L411.22,308.88 L411.61,308.91 L412,308.95 L412.4,308.98 L412.8,309.01 L413.19,309.04 L413.59,309.08 L413.98,309.11 L414.38,309.14 L414.77,309.17 L415.17,309.2 L415.56,309.24 L415.95,309.27 L416.35,309.3 L416.75,309.33 L417.14,309.36 L417.54,309.39 L417.93,309.42 L418.32,309.45 L418.72,309.48 L419.12,309.51 L419.51,309.54 L419.9,309.57 L420.3,309.6 L420.69,309.63 L421.09,309.66 L421.49,309.68 L421.88,309.71 L422.27,309.74 L422.67,309.77 L423.06,309.8 L423.46,309.82 L423.86,309.85 L424.25,309.88 L424.64,309.9 L425.04,309.93 L425.44,309.96 L425.83,309.98 L426.23,310.01 L426.62,310.03 L427.01,310.06 L427.41,310.08 L427.81,310.11 L428.2,310.13 L428.6,310.15 L428.99,310.18 L429.38,310.2 L429.78,310.22 L430.18,310.25 L430.57,310.27 L430.97,310.29 L431.36,310.31 L431.75,310.33 L432.15,310.35 L432.55,310.36 L432.94,310.38 L433.34,310.39 L433.73,310.4 L434.12,310.41 L434.52,310.41 L434.92,310.42 L435.31,310.42 L435.7,310.42 L436.1,310.42 L436.5,310.42 L436.89,310.42 L437.29,310.42 L437.68,310.41 L438.07,310.41 L438.47,310.4 L438.87,310.4 L439.26,310.39 L439.65,310.39 L440.05,310.38 L440.44,310.37 L440.84,310.37 L441.24,310.36 L441.63,310.36 L442.02,310.35 L442.42,310.34 L442.81,310.34 L443.21,310.34 L443.61,310.33 L444,310.33" fill="none" stroke="#f9aa5f" stroke-width="2.35" stroke-linejoin="round"/>
<path d="M286,325.79 L286.39,325.7 L286.79,325.6 L287.19,325.5 L287.58,325.4 L287.98,325.28 L288.37,325.16 L288.76,325.04 L289.16,324.9 L289.56,324.76 L289.95,324.61 L290.35,324.44 L290.74,324.27 L291.13,324.09 L291.53,323.9 L291.93,323.69 L292.32,323.47 L292.71,323.24 L293.11,322.99 L293.5,322.72 L293.9,322.44 L294.3,322.14 L294.69,321.82 L295.08,321.49 L295.48,321.13 L295.88,320.75 L296.27,320.34 L296.67,319.91 L297.06,319.46 L297.45,318.98 L297.85,318.47 L298.25,317.93 L298.64,317.36 L299.04,316.76 L299.43,316.12 L299.82,315.45 L300.22,314.75 L300.62,314.01 L301.01,313.23 L301.4,312.42 L301.8,311.56 L302.19,310.66 L302.59,309.73 L302.99,308.74 L303.38,307.72 L303.77,306.65 L304.17,305.54 L304.56,304.39 L304.96,303.18 L305.36,301.94 L305.75,300.65 L306.14,299.31 L306.54,297.93 L306.94,296.5 L307.33,295.03 L307.73,293.51 L308.12,291.95 L308.51,290.35 L308.91,288.71 L309.31,287.03 L309.7,285.31 L310.1,283.56 L310.49,281.77 L310.88,279.95 L311.28,278.1 L311.68,276.22 L312.07,274.32 L312.46,272.4 L312.86,270.46 L313.25,268.51 L313.65,266.55 L314.05,264.58 L314.44,262.62 L314.83,260.66 L315.23,258.71 L315.62,256.79 L316.02,254.89 L316.42,253.02 L316.81,251.2 L317.2,249.42 L317.6,247.71 L318,246.06 L318.39,244.5 L318.79,243.02 L319.18,241.65 L319.57,240.38 L319.97,239.24 L320.37,238.23 L320.76,237.35 L321.15,236.62 L321.55,236.05 L321.94,235.63 L322.34,235.38 L322.74,235.3 L323.13,235.4 L323.52,235.7 L323.92,236.19 L324.31,236.87 L324.71,237.73 L325.11,238.76 L325.5,239.96 L325.89,241.24 L326.29,242.55 L326.69,243.88 L327.08,245.24 L327.48,246.63 L327.87,248.06 L328.26,249.53 L328.66,251.04 L329.06,252.61 L329.45,254.24 L329.85,255.93 L330.24,257.69 L330.63,259.49 L331.03,261.29 L331.43,263.08 L331.82,264.87 L332.21,266.64 L332.61,268.4 L333,270.15 L333.4,271.87 L333.8,273.57 L334.19,275.25 L334.58,276.9 L334.98,278.53 L335.38,280.14 L335.77,281.72 L336.17,283.27 L336.56,284.8 L336.95,286.32 L337.35,287.81 L337.75,289.27 L338.14,290.7 L338.54,292.09 L338.93,293.44 L339.32,294.77 L339.72,296.05 L340.12,297.3 L340.51,298.51 L340.9,299.67 L341.3,300.79 L341.69,301.86 L342.09,302.89 L342.49,303.87 L342.88,304.81 L343.27,305.69 L343.67,306.52 L344.06,307.31 L344.46,308.05 L344.86,308.74 L345.25,309.41 L345.64,310.05 L346.04,310.66 L346.44,311.25 L346.83,311.81 L347.23,312.35 L347.62,312.86 L348.01,313.36 L348.41,313.84 L348.81,314.29 L349.2,314.73 L349.6,315.15 L349.99,315.55 L350.38,315.94 L350.78,316.3 L351.18,316.66 L351.57,317.02 L351.96,317.38 L352.36,317.73 L352.75,318.08 L353.15,318.43 L353.55,318.77 L353.94,319.11 L354.33,319.44 L354.73,319.77 L355.12,320.08 L355.52,320.39 L355.92,320.69 L356.31,320.97 L356.7,321.24 L357.1,321.5 L357.5,321.74 L357.89,321.96 L358.29,322.16 L358.68,322.35 L359.07,322.51 L359.47,322.66 L359.87,322.81 L360.26,322.95 L360.65,323.08 L361.05,323.21 L361.44,323.33 L361.84,323.45 L362.24,323.57 L362.63,323.68 L363.02,323.79 L363.42,323.9 L363.81,324 L364.21,324.1 L364.61,324.2 L365,324.29 L365.39,324.38 L365.79,324.47 L366.19,324.55 L366.58,324.64 L366.98,324.72 L367.37,324.8 L367.76,324.87 L368.16,324.95 L368.56,325.02 L368.95,325.09 L369.35,325.17 L369.74,325.23 L370.13,325.3 L370.53,325.37 L370.93,325.44 L371.32,325.5 L371.72,325.57 L372.11,325.63 L372.5,325.69 L372.9,325.76 L373.3,325.82 L373.69,325.88 L374.08,325.95 L374.48,326.01 L374.88,326.07 L375.27,326.14 L375.67,326.2 L376.06,326.27 L376.45,326.33 L376.85,326.39 L377.25,326.45 L377.64,326.52 L378.04,326.58 L378.43,326.64 L378.82,326.7 L379.22,326.76 L379.62,326.82 L380.01,326.88 L380.4,326.94 L380.8,327 L381.19,327.05 L381.59,327.11 L381.99,327.17 L382.38,327.22 L382.77,327.28 L383.17,327.33 L383.56,327.39 L383.96,327.44 L384.36,327.49 L384.75,327.55 L385.14,327.6 L385.54,327.65 L385.94,327.7 L386.33,327.75 L386.73,327.8 L387.12,327.84 L387.51,327.89 L387.91,327.94 L388.31,327.98 L388.7,328.03 L389.1,328.07 L389.49,328.11 L389.88,328.15 L390.28,328.19 L390.68,328.23 L391.07,328.27 L391.47,328.31 L391.86,328.35 L392.25,328.39 L392.65,328.42 L393.05,328.45 L393.44,328.49 L393.84,328.52 L394.23,328.55 L394.62,328.58 L395.02,328.61 L395.42,328.64 L395.81,328.66 L396.2,328.69 L396.6,328.71 L397,328.74 L397.39,328.76 L397.78,328.78 L398.18,328.81 L398.57,328.83 L398.97,328.85 L399.37,328.87 L399.76,328.89 L400.15,328.9 L400.55,328.92 L400.94,328.94 L401.34,328.96 L401.74,328.97 L402.13,328.99 L402.52,329.01 L402.92,329.02 L403.31,329.04 L403.71,329.05 L404.11,329.06 L404.5,329.08 L404.89,329.09 L405.29,329.1 L405.69,329.12 L406.08,329.13 L406.48,329.14 L406.87,329.15 L407.26,329.16 L407.66,329.17 L408.06,329.18 L408.45,329.19 L408.85,329.2 L409.24,329.21 L409.63,329.22 L410.03,329.23 L410.43,329.23 L410.82,329.24 L411.22,329.25 L411.61,329.26 L412,329.26 L412.4,329.27 L412.8,329.28 L413.19,329.28 L413.59,329.29 L413.98,329.3 L414.38,329.3 L414.77,329.31 L415.17,329.32 L415.56,329.32 L415.95,329.33 L416.35,329.33 L416.75,329.34 L417.14,329.34 L417.54,329.35 L417.93,329.35 L418.32,329.36 L418.72,329.36 L419.12,329.37 L419.51,329.37 L419.9,329.38 L420.3,329.38 L420.69,329.39 L421.09,329.39 L421.49,329.4 L421.88,329.4 L422.27,329.41 L422.67,329.42 L423.06,329.42 L423.46,329.43 L423.86,329.43 L424.25,329.44 L424.64,329.44 L425.04,329.45 L425.44,329.46 L425.83,329.46 L426.23,329.47 L426.62,329.48 L427.01,329.48 L427.41,329.49 L427.81,329.5 L428.2,329.5 L428.6,329.51 L428.99,329.52 L429.38,329.53 L429.78,329.54 L430.18,329.55 L430.57,329.55 L430.97,329.56 L431.36,329.57 L431.75,329.58 L432.15,329.59 L432.55,329.61 L432.94,329.62 L433.34,329.63 L433.73,329.64 L434.12,329.65 L434.52,329.67 L434.92,329.68 L435.31,329.7 L435.7,329.71 L436.1,329.73 L436.5,329.74 L436.89,329.76 L437.29,329.78 L437.68,329.8 L438.07,329.81 L438.47,329.83 L438.87,329.85 L439.26,329.87 L439.65,329.89 L440.05,329.91 L440.44,329.93 L440.84,329.95 L441.24,329.97 L441.63,329.99 L442.02,330 L442.42,330.02 L442.81,330.04 L443.21,330.06 L443.61,330.08 L444,330.1" fill="none" stroke="#f69650" stroke-width="2.35" stroke-linejoin="round"/>
<path d="M286,346.14 L286.39,346.1 L286.79,346.05 L287.19,346.01 L287.58,345.96 L287.98,345.9 L288.37,345.85 L288.76,345.79 L289.16,345.73 L289.56,345.67 L289.95,345.6 L290.35,345.53 L290.74,345.45 L291.13,345.37 L291.53,345.29 L291.93,345.2 L292.32,345.1 L292.71,345 L293.11,344.89 L293.5,344.77 L293.9,344.65 L294.3,344.52 L294.69,344.38 L295.08,344.23 L295.48,344.07 L295.88,343.89 L296.27,343.71 L296.67,343.51 L297.06,343.3 L297.45,343.08 L297.85,342.84 L298.25,342.58 L298.64,342.31 L299.04,342.02 L299.43,341.7 L299.82,341.37 L300.22,341.02 L300.62,340.64 L301.01,340.24 L301.4,339.81 L301.8,339.36 L302.19,338.88 L302.59,338.37 L302.99,337.83 L303.38,337.26 L303.77,336.66 L304.17,336.02 L304.56,335.35 L304.96,334.65 L305.36,333.91 L305.75,333.13 L306.14,332.31 L306.54,331.46 L306.94,330.56 L307.33,329.63 L307.73,328.65 L308.12,327.64 L308.51,326.58 L308.91,325.48 L309.31,324.35 L309.7,323.17 L310.1,321.95 L310.49,320.69 L310.88,319.4 L311.28,318.06 L311.68,316.69 L312.07,315.29 L312.46,313.85 L312.86,312.38 L313.25,310.88 L313.65,309.35 L314.05,307.79 L314.44,306.22 L314.83,304.62 L315.23,303.01 L315.62,301.38 L316.02,299.75 L316.42,298.11 L316.81,296.47 L317.2,294.84 L317.6,293.23 L318,291.63 L318.39,290.05 L318.79,288.51 L319.18,287.01 L319.57,285.57 L319.97,284.18 L320.37,282.86 L320.76,281.61 L321.15,280.46 L321.55,279.41 L321.94,278.46 L322.34,277.63 L322.74,276.93 L323.13,276.36 L323.52,275.93 L323.92,275.65 L324.31,275.51 L324.71,275.53 L325.11,275.7 L325.5,276.02 L325.89,276.44 L326.29,276.93 L326.69,277.48 L327.08,278.1 L327.48,278.77 L327.87,279.5 L328.26,280.28 L328.66,281.1 L329.06,281.98 L329.45,282.89 L329.85,283.84 L330.24,284.83 L330.63,285.86 L331.03,286.91 L331.43,287.99 L331.82,289.1 L332.21,290.24 L332.61,291.4 L333,292.59 L333.4,293.8 L333.8,295 L334.19,296.16 L334.58,297.26 L334.98,298.33 L335.38,299.35 L335.77,300.35 L336.17,301.31 L336.56,302.25 L336.95,303.17 L337.35,304.07 L337.75,304.96 L338.14,305.83 L338.54,306.7 L338.93,307.55 L339.32,308.41 L339.72,309.27 L340.12,310.13 L340.51,310.97 L340.9,311.79 L341.3,312.58 L341.69,313.35 L342.09,314.1 L342.49,314.82 L342.88,315.52 L343.27,316.19 L343.67,316.84 L344.06,317.46 L344.46,318.05 L344.86,318.62 L345.25,319.17 L345.64,319.69 L346.04,320.19 L346.44,320.66 L346.83,321.11 L347.23,321.55 L347.62,321.96 L348.01,322.36 L348.41,322.74 L348.81,323.11 L349.2,323.46 L349.6,323.79 L349.99,324.12 L350.38,324.43 L350.78,324.73 L351.18,325.02 L351.57,325.29 L351.96,325.56 L352.36,325.82 L352.75,326.06 L353.15,326.3 L353.55,326.53 L353.94,326.75 L354.33,326.96 L354.73,327.16 L355.12,327.35 L355.52,327.53 L355.92,327.7 L356.31,327.87 L356.7,328.03 L357.1,328.2 L357.5,328.36 L357.89,328.53 L358.29,328.69 L358.68,328.85 L359.07,329.02 L359.47,329.18 L359.87,329.34 L360.26,329.5 L360.65,329.66 L361.05,329.82 L361.44,329.98 L361.84,330.14 L362.24,330.29 L362.63,330.45 L363.02,330.6 L363.42,330.75 L363.81,330.89 L364.21,331.03 L364.61,331.17 L365,331.31 L365.39,331.44 L365.79,331.57 L366.19,331.7 L366.58,331.82 L366.98,331.93 L367.37,332.04 L367.76,332.15 L368.16,332.26 L368.56,332.37 L368.95,332.47 L369.35,332.58 L369.74,332.68 L370.13,332.78 L370.53,332.88 L370.93,332.98 L371.32,333.08 L371.72,333.18 L372.11,333.28 L372.5,333.37 L372.9,333.47 L373.3,333.56 L373.69,333.65 L374.08,333.74 L374.48,333.83 L374.88,333.92 L375.27,334.01 L375.67,334.1 L376.06,334.18 L376.45,334.27 L376.85,334.35 L377.25,334.43 L377.64,334.52 L378.04,334.6 L378.43,334.68 L378.82,334.76 L379.22,334.83 L379.62,334.91 L380.01,334.99 L380.4,335.07 L380.8,335.14 L381.19,335.22 L381.59,335.29 L381.99,335.36 L382.38,335.43 L382.77,335.5 L383.17,335.57 L383.56,335.64 L383.96,335.71 L384.36,335.78 L384.75,335.84 L385.14,335.9 L385.54,335.97 L385.94,336.03 L386.33,336.08 L386.73,336.14 L387.12,336.2 L387.51,336.25 L387.91,336.31 L388.31,336.36 L388.7,336.41 L389.1,336.46 L389.49,336.51 L389.88,336.56 L390.28,336.61 L390.68,336.66 L391.07,336.71 L391.47,336.76 L391.86,336.8 L392.25,336.85 L392.65,336.9 L393.05,336.94 L393.44,336.99 L393.84,337.04 L394.23,337.08 L394.62,337.13 L395.02,337.17 L395.42,337.22 L395.81,337.27 L396.2,337.32 L396.6,337.36 L397,337.41 L397.39,337.46 L397.78,337.51 L398.18,337.56 L398.57,337.61 L398.97,337.66 L399.37,337.71 L399.76,337.76 L400.15,337.81 L400.55,337.87 L400.94,337.92 L401.34,337.97 L401.74,338.02 L402.13,338.08 L402.52,338.13 L402.92,338.18 L403.31,338.23 L403.71,338.29 L404.11,338.34 L404.5,338.39 L404.89,338.45 L405.29,338.5 L405.69,338.55 L406.08,338.6 L406.48,338.66 L406.87,338.71 L407.26,338.76 L407.66,338.81 L408.06,338.87 L408.45,338.92 L408.85,338.97 L409.24,339.02 L409.63,339.07 L410.03,339.12 L410.43,339.17 L410.82,339.22 L411.22,339.27 L411.61,339.32 L412,339.37 L412.4,339.42 L412.8,339.47 L413.19,339.52 L413.59,339.57 L413.98,339.62 L414.38,339.67 L414.77,339.71 L415.17,339.76 L415.56,339.81 L415.95,339.85 L416.35,339.9 L416.75,339.94 L417.14,339.99 L417.54,340.03 L417.93,340.07 L418.32,340.12 L418.72,340.16 L419.12,340.21 L419.51,340.25 L419.9,340.29 L420.3,340.33 L420.69,340.38 L421.09,340.42 L421.49,340.46 L421.88,340.5 L422.27,340.54 L422.67,340.58 L423.06,340.62 L423.46,340.66 L423.86,340.7 L424.25,340.74 L424.64,340.78 L425.04,340.82 L425.44,340.86 L425.83,340.9 L426.23,340.94 L426.62,340.98 L427.01,341.02 L427.41,341.06 L427.81,341.09 L428.2,341.13 L428.6,341.17 L428.99,341.21 L429.38,341.24 L429.78,341.28 L430.18,341.32 L430.57,341.36 L430.97,341.39 L431.36,341.43 L431.75,341.47 L432.15,341.5 L432.55,341.54 L432.94,341.58 L433.34,341.61 L433.73,341.64 L434.12,341.68 L434.52,341.71 L434.92,341.75 L435.31,341.78 L435.7,341.81 L436.1,341.85 L436.5,341.88 L436.89,341.91 L437.29,341.94 L437.68,341.97 L438.07,342.01 L438.47,342.04 L438.87,342.07 L439.26,342.1 L439.65,342.13 L440.05,342.16 L440.44,342.2 L440.84,342.23 L441.24,342.26 L441.63,342.29 L442.02,342.32 L442.42,342.35 L442.81,342.38 L443.21,342.42 L443.61,342.45 L444,342.48" fill="none" stroke="#b5112e" stroke-width="2.4" stroke-linejoin="round"/>
<rect x="398" y="320" width="32" height="12" fill="#fff"/>
<rect x="283" y="12.5" width="164" height="344" fill="none" stroke="#8c8c8c" stroke-width="1"/>
<line x1="278.3" y1="49.6" x2="283" y2="49.6" stroke="#333" stroke-width="1"/>
<line x1="278.3" y1="96.5" x2="283" y2="96.5" stroke="#333" stroke-width="1"/>
<line x1="278.3" y1="143.4" x2="283" y2="143.4" stroke="#333" stroke-width="1"/>
<line x1="278.3" y1="190.3" x2="283" y2="190.3" stroke="#333" stroke-width="1"/>
<line x1="278.3" y1="237.2" x2="283" y2="237.2" stroke="#333" stroke-width="1"/>
<line x1="278.3" y1="284.1" x2="283" y2="284.1" stroke="#333" stroke-width="1"/>
<line x1="278.3" y1="331" x2="283" y2="331" stroke="#333" stroke-width="1"/>
<line x1="286" y1="356.5" x2="286" y2="361" stroke="#777" stroke-width="1"/>
<text x="286" y="376.2" font-size="13" text-anchor="middle">-50</text>
<line x1="325.5" y1="356.5" x2="325.5" y2="361" stroke="#777" stroke-width="1"/>
<text x="325.5" y="376.2" font-size="13" text-anchor="middle">0</text>
<line x1="365" y1="356.5" x2="365" y2="361" stroke="#777" stroke-width="1"/>
<text x="365" y="376.2" font-size="13" text-anchor="middle">50</text>
<line x1="404.5" y1="356.5" x2="404.5" y2="361" stroke="#777" stroke-width="1"/>
<text x="404.5" y="376.2" font-size="13" text-anchor="middle">100</text>
<line x1="444" y1="356.5" x2="444" y2="361" stroke="#777" stroke-width="1"/>
<text x="444" y="376.2" font-size="13" text-anchor="middle">150</text>
<text x="365.2" y="389.3" font-size="12" text-anchor="middle">Energy loss (meV)</text>
<text transform="translate(271.0,175.7) rotate(-90)" font-size="11.8" text-anchor="middle">Intensity (arb. units)</text>
<text x="406.6" y="38.7" font-size="12.2">10K</text>
<text x="398.6" y="330.4" font-size="12.6">175K</text>
<text x="396.0" y="285.0" font-size="14.5" font-style="italic">T<tspan font-size="10" font-style="normal" dy="1.8">4i-4o</tspan></text>
<line x1="432.2" y1="50" x2="432.2" y2="335" stroke="#111" stroke-width="1.2"/>
<path d="M432.2,44.8 L434.4,50.3 L430,50.3 Z" fill="#111"/>
<path d="M432.2,340.5 L430,335 L434.4,335 Z" fill="#111"/>
<text x="259.6" y="12.9" font-size="18" font-weight="bold">c</text>
<clipPath id="hm"><rect x="510.4" y="12.1" width="174" height="345.7"/></clipPath><g clip-path="url(#hm)">
<path d="M507.4,12.1 L515.75,12.1 L515.75,61.8 L507.4,61.8 Z" fill="#feb953"/>
<path d="M514.75,12.1 L520.1,12.1 L520.1,61.8 L514.75,61.8 Z" fill="#febc56"/>
<path d="M519.1,12.1 L524.45,12.1 L524.45,61.8 L519.1,61.8 Z" fill="#febc57"/>
<path d="M523.45,12.1 L528.8,12.1 L528.8,61.8 L523.45,61.8 Z" fill="#febe59"/>
<path d="M527.8,12.1 L533.15,12.1 L533.15,61.8 L527.8,61.8 Z" fill="#fed26e"/>
<path d="M532.15,12.1 L537.5,12.1 L537.5,61.8 L532.15,61.8 Z" fill="#fedc7d"/>
<path d="M536.5,12.1 L541.85,12.1 L541.85,61.8 L536.5,61.8 Z" fill="#ffec9e"/>
<path d="M540.85,12.1 L546.2,12.1 L546.2,61.8 L540.85,61.8 Z" fill="#ffffcc"/>
<path d="M545.2,12.1 L550.55,12.1 L550.55,61.8 L545.2,61.8 Z" fill="#ffec9e"/>
<path d="M549.55,12.1 L554.9,12.1 L554.9,61.8 L549.55,61.8 Z" fill="#fec45f"/>
<path d="M553.9,12.1 L559.25,12.1 L559.25,61.8 L553.9,61.8 Z" fill="#fd9a42"/>
<path d="M558.25,12.1 L563.6,12.1 L563.6,61.8 L558.25,61.8 Z" fill="#f64126"/>
<path d="M562.6,12.1 L567.95,12.1 L567.95,61.8 L562.6,61.8 Z" fill="#e8241f"/>
<path d="M566.95,12.1 L572.3,12.1 L572.3,61.8 L566.95,61.8 Z" fill="#ce0b22"/>
<path d="M571.3,12.1 L576.65,12.1 L576.65,61.8 L571.3,61.8 Z" fill="#c30424"/>
<path d="M575.65,12.1 L581,12.1 L581,61.8 L575.65,61.8 Z" fill="#9e0026"/>
<path d="M580,12.1 L585.35,12.1 L585.35,61.8 L580,61.8 Z" fill="#9c0026"/>
<path d="M584.35,12.1 L589.7,12.1 L589.7,61.8 L584.35,61.8 Z" fill="#c10325"/>
<path d="M588.7,12.1 L594.05,12.1 L594.05,61.8 L588.7,61.8 Z" fill="#d00d21"/>
<path d="M593.05,12.1 L598.4,12.1 L598.4,61.8 L593.05,61.8 Z" fill="#e51e1d"/>
<path d="M597.4,12.1 L602.75,12.1 L602.75,61.8 L597.4,61.8 Z" fill="#f74427"/>
<path d="M601.75,12.1 L607.1,12.1 L607.1,61.8 L601.75,61.8 Z" fill="#fc6a32"/>
<path d="M606.1,12.1 L611.45,12.1 L611.45,61.8 L606.1,61.8 Z" fill="#fd9c42"/>
<path d="M610.45,12.1 L615.8,12.1 L615.8,61.8 L610.45,61.8 Z" fill="#fd903d"/>
<path d="M614.8,12.1 L620.15,12.1 L620.15,61.8 L614.8,61.8 Z" fill="#fea546"/>
<path d="M619.15,12.1 L624.5,12.1 L624.5,61.8 L619.15,61.8 Z" fill="#fea546"/>
<path d="M623.5,12.1 L628.85,12.1 L628.85,61.8 L623.5,61.8 Z" fill="#fea546"/>
<path d="M627.85,12.1 L633.2,12.1 L633.2,61.8 L627.85,61.8 Z" fill="#fd9f44"/>
<path d="M632.2,12.1 L637.55,12.1 L637.55,61.8 L632.2,61.8 Z" fill="#feb751"/>
<path d="M636.55,12.1 L641.9,12.1 L641.9,61.8 L636.55,61.8 Z" fill="#feb14b"/>
<path d="M640.9,12.1 L646.25,12.1 L646.25,61.8 L640.9,61.8 Z" fill="#fd9f44"/>
<path d="M645.25,12.1 L650.6,12.1 L650.6,61.8 L645.25,61.8 Z" fill="#feb650"/>
<path d="M649.6,12.1 L654.95,12.1 L654.95,61.8 L649.6,61.8 Z" fill="#feb752"/>
<path d="M653.95,12.1 L659.3,12.1 L659.3,61.8 L653.95,61.8 Z" fill="#feb954"/>
<path d="M658.3,12.1 L663.65,12.1 L663.65,61.8 L658.3,61.8 Z" fill="#feb752"/>
<path d="M662.65,12.1 L668,12.1 L668,61.8 L662.65,61.8 Z" fill="#feb853"/>
<path d="M667,12.1 L672.35,12.1 L672.35,61.8 L667,61.8 Z" fill="#feb853"/>
<path d="M671.35,12.1 L676.7,12.1 L676.7,61.8 L671.35,61.8 Z" fill="#feb853"/>
<path d="M675.7,12.1 L681.05,12.1 L681.05,61.8 L675.7,61.8 Z" fill="#feb853"/>
<path d="M680.05,12.1 L689.4,12.1 L689.4,61.8 L680.05,61.8 Z" fill="#feb954"/>
<path d="M507.4,60.8 L515.75,60.8 L515.75,95.9 L507.4,95.9 Z" fill="#feba54"/>
<path d="M514.75,60.8 L520.1,60.8 L520.1,95.9 L514.75,95.9 Z" fill="#feba54"/>
<path d="M519.1,60.8 L524.45,60.8 L524.45,95.9 L519.1,95.9 Z" fill="#feb14b"/>
<path d="M523.45,60.8 L528.8,60.8 L528.8,95.9 L523.45,95.9 Z" fill="#feba54"/>
<path d="M527.8,60.8 L533.15,60.8 L533.15,95.9 L527.8,95.9 Z" fill="#fec05b"/>
<path d="M532.15,60.8 L537.5,60.8 L537.5,95.9 L532.15,95.9 Z" fill="#fedb79"/>
<path d="M536.5,60.8 L541.85,60.8 L541.85,95.9 L536.5,95.9 Z" fill="#fff2ac"/>
<path d="M540.85,60.8 L546.2,60.8 L546.2,95.9 L540.85,95.9 Z" fill="#fff3b0"/>
<path d="M545.2,60.8 L550.55,60.8 L550.55,95.9 L545.2,95.9 Z" fill="#fff3ae"/>
<path d="M549.55,60.8 L554.9,60.8 L554.9,95.9 L549.55,95.9 Z" fill="#fec662"/>
<path d="M553.9,60.8 L559.25,60.8 L559.25,95.9 L553.9,95.9 Z" fill="#fd9c42"/>
<path d="M558.25,60.8 L563.6,60.8 L563.6,95.9 L558.25,95.9 Z" fill="#fc5b2e"/>
<path d="M562.6,60.8 L567.95,60.8 L567.95,95.9 L562.6,95.9 Z" fill="#ed2f22"/>
<path d="M566.95,60.8 L572.3,60.8 L572.3,95.9 L566.95,95.9 Z" fill="#d7121f"/>
<path d="M571.3,60.8 L576.65,60.8 L576.65,95.9 L571.3,95.9 Z" fill="#a20026"/>
<path d="M575.65,60.8 L581,60.8 L581,95.9 L575.65,95.9 Z" fill="#a20026"/>
<path d="M580,60.8 L585.35,60.8 L585.35,95.9 L580,95.9 Z" fill="#8f0026"/>
<path d="M584.35,60.8 L589.7,60.8 L589.7,95.9 L584.35,95.9 Z" fill="#c20325"/>
<path d="M588.7,60.8 L594.05,60.8 L594.05,95.9 L588.7,95.9 Z" fill="#c20325"/>
<path d="M593.05,60.8 L598.4,60.8 L598.4,95.9 L593.05,95.9 Z" fill="#e6201e"/>
<path d="M597.4,60.8 L602.75,60.8 L602.75,95.9 L597.4,95.9 Z" fill="#f33b25"/>
<path d="M601.75,60.8 L607.1,60.8 L607.1,95.9 L601.75,95.9 Z" fill="#fc512b"/>
<path d="M606.1,60.8 L611.45,60.8 L611.45,95.9 L606.1,95.9 Z" fill="#fc5b2e"/>
<path d="M610.45,60.8 L615.8,60.8 L615.8,95.9 L610.45,95.9 Z" fill="#fd7e38"/>
<path d="M614.8,60.8 L620.15,60.8 L620.15,95.9 L614.8,95.9 Z" fill="#fd8a3b"/>
<path d="M619.15,60.8 L624.5,60.8 L624.5,95.9 L619.15,95.9 Z" fill="#fd7936"/>
<path d="M623.5,60.8 L628.85,60.8 L628.85,95.9 L623.5,95.9 Z" fill="#fd9640"/>
<path d="M627.85,60.8 L633.2,60.8 L633.2,95.9 L627.85,95.9 Z" fill="#fd9f44"/>
<path d="M632.2,60.8 L637.55,60.8 L637.55,95.9 L632.2,95.9 Z" fill="#fd9c42"/>
<path d="M636.55,60.8 L641.9,60.8 L641.9,95.9 L636.55,95.9 Z" fill="#fea948"/>
<path d="M640.9,60.8 L646.25,60.8 L646.25,95.9 L640.9,95.9 Z" fill="#fead4a"/>
<path d="M645.25,60.8 L650.6,60.8 L650.6,95.9 L645.25,95.9 Z" fill="#fead4a"/>
<path d="M649.6,60.8 L654.95,60.8 L654.95,95.9 L649.6,95.9 Z" fill="#feaf4b"/>
<path d="M653.95,60.8 L659.3,60.8 L659.3,95.9 L653.95,95.9 Z" fill="#feb14c"/>
<path d="M658.3,60.8 L663.65,60.8 L663.65,95.9 L658.3,95.9 Z" fill="#feb44e"/>
<path d="M662.65,60.8 L668,60.8 L668,95.9 L662.65,95.9 Z" fill="#feb44e"/>
<path d="M667,60.8 L672.35,60.8 L672.35,95.9 L667,95.9 Z" fill="#feb44e"/>
<path d="M671.35,60.8 L676.7,60.8 L676.7,95.9 L671.35,95.9 Z" fill="#feb44e"/>
<path d="M675.7,60.8 L681.05,60.8 L681.05,95.9 L675.7,95.9 Z" fill="#feb44e"/>
<path d="M680.05,60.8 L689.4,60.8 L689.4,95.9 L680.05,95.9 Z" fill="#feb44e"/>
<path d="M507,94.9 L515.35,94.9 L515.35,110.5 L507,110.5 Z" fill="#feb751"/>
<path d="M514.35,94.9 L519.7,94.9 L519.7,110.5 L514.35,110.5 Z" fill="#feb751"/>
<path d="M518.7,94.9 L524.05,94.9 L524.05,110.5 L518.7,110.5 Z" fill="#feb751"/>
<path d="M523.05,94.9 L528.4,94.9 L528.4,110.5 L523.05,110.5 Z" fill="#feb751"/>
<path d="M527.4,94.9 L532.75,94.9 L532.75,110.5 L527.4,110.5 Z" fill="#fec35e"/>
<path d="M531.75,94.9 L537.1,94.9 L537.1,110.5 L531.75,110.5 Z" fill="#fed774"/>
<path d="M536.1,94.9 L541.45,94.9 L541.45,110.5 L536.1,110.5 Z" fill="#ffeb9b"/>
<path d="M540.45,94.9 L545.8,94.9 L545.8,110.5 L540.45,110.5 Z" fill="#fff2ac"/>
<path d="M544.8,94.9 L550.15,94.9 L550.15,110.5 L544.8,110.5 Z" fill="#fff3b0"/>
<path d="M549.15,94.9 L554.5,94.9 L554.5,110.5 L549.15,110.5 Z" fill="#feb751"/>
<path d="M553.5,94.9 L558.85,94.9 L558.85,110.5 L553.5,110.5 Z" fill="#fd9941"/>
<path d="M557.85,94.9 L563.2,94.9 L563.2,110.5 L557.85,110.5 Z" fill="#f84628"/>
<path d="M562.2,94.9 L567.55,94.9 L567.55,110.5 L562.2,110.5 Z" fill="#e7231e"/>
<path d="M566.55,94.9 L571.9,94.9 L571.9,110.5 L566.55,110.5 Z" fill="#d51020"/>
<path d="M570.9,94.9 L576.25,94.9 L576.25,110.5 L570.9,110.5 Z" fill="#bc0026"/>
<path d="M575.25,94.9 L580.6,94.9 L580.6,110.5 L575.25,110.5 Z" fill="#980026"/>
<path d="M579.6,94.9 L584.95,94.9 L584.95,110.5 L579.6,110.5 Z" fill="#9a0026"/>
<path d="M583.95,94.9 L589.3,94.9 L589.3,110.5 L583.95,110.5 Z" fill="#b20026"/>
<path d="M588.3,94.9 L593.65,94.9 L593.65,110.5 L588.3,110.5 Z" fill="#c50624"/>
<path d="M592.65,94.9 L598,94.9 L598,110.5 L592.65,110.5 Z" fill="#d00d21"/>
<path d="M597,94.9 L602.35,94.9 L602.35,110.5 L597,110.5 Z" fill="#e1191c"/>
<path d="M601.35,94.9 L606.7,94.9 L606.7,110.5 L601.35,110.5 Z" fill="#f23a25"/>
<path d="M605.7,94.9 L611.05,94.9 L611.05,110.5 L605.7,110.5 Z" fill="#fc542c"/>
<path d="M610.05,94.9 L615.4,94.9 L615.4,110.5 L610.05,110.5 Z" fill="#fd7234"/>
<path d="M614.4,94.9 L619.75,94.9 L619.75,110.5 L614.4,110.5 Z" fill="#fd8038"/>
<path d="M618.75,94.9 L624.1,94.9 L624.1,110.5 L618.75,110.5 Z" fill="#fd923e"/>
<path d="M623.1,94.9 L628.45,94.9 L628.45,110.5 L623.1,110.5 Z" fill="#fd9941"/>
<path d="M627.45,94.9 L632.8,94.9 L632.8,110.5 L627.45,110.5 Z" fill="#fea044"/>
<path d="M631.8,94.9 L637.15,94.9 L637.15,110.5 L631.8,110.5 Z" fill="#fea446"/>
<path d="M636.15,94.9 L641.5,94.9 L641.5,110.5 L636.15,110.5 Z" fill="#fea948"/>
<path d="M640.5,94.9 L645.85,94.9 L645.85,110.5 L640.5,110.5 Z" fill="#fead4a"/>
<path d="M644.85,94.9 L650.2,94.9 L650.2,110.5 L644.85,110.5 Z" fill="#fead4a"/>
<path d="M649.2,94.9 L654.55,94.9 L654.55,110.5 L649.2,110.5 Z" fill="#feaf4b"/>
<path d="M653.55,94.9 L658.9,94.9 L658.9,110.5 L653.55,110.5 Z" fill="#feb14c"/>
<path d="M657.9,94.9 L663.25,94.9 L663.25,110.5 L657.9,110.5 Z" fill="#feb44e"/>
<path d="M662.25,94.9 L667.6,94.9 L667.6,110.5 L662.25,110.5 Z" fill="#feb44e"/>
<path d="M666.6,94.9 L671.95,94.9 L671.95,110.5 L666.6,110.5 Z" fill="#feb44e"/>
<path d="M670.95,94.9 L676.3,94.9 L676.3,110.5 L670.95,110.5 Z" fill="#feb44e"/>
<path d="M675.3,94.9 L680.65,94.9 L680.65,110.5 L675.3,110.5 Z" fill="#feb44e"/>
<path d="M679.65,94.9 L689,94.9 L689,110.5 L679.65,110.5 Z" fill="#feb44e"/>
<path d="M507.1,109.5 L515.45,109.5 L515.45,120.2 L507.1,120.2 Z" fill="#fec05b"/>
<path d="M514.45,109.5 L519.8,109.5 L519.8,120.2 L514.45,120.2 Z" fill="#feb751"/>
<path d="M518.8,109.5 L524.15,109.5 L524.15,120.2 L518.8,120.2 Z" fill="#feb751"/>
<path d="M523.15,109.5 L528.5,109.5 L528.5,120.2 L523.15,120.2 Z" fill="#feb751"/>
<path d="M527.5,109.5 L532.85,109.5 L532.85,120.2 L527.5,120.2 Z" fill="#febd58"/>
<path d="M531.85,109.5 L537.2,109.5 L537.2,120.2 L531.85,120.2 Z" fill="#fec662"/>
<path d="M536.2,109.5 L541.55,109.5 L541.55,120.2 L536.2,120.2 Z" fill="#fed774"/>
<path d="M540.55,109.5 L545.9,109.5 L545.9,120.2 L540.55,120.2 Z" fill="#fede80"/>
<path d="M544.9,109.5 L550.25,109.5 L550.25,120.2 L544.9,120.2 Z" fill="#fedb79"/>
<path d="M549.25,109.5 L554.6,109.5 L554.6,120.2 L549.25,120.2 Z" fill="#fecd69"/>
<path d="M553.6,109.5 L558.95,109.5 L558.95,120.2 L553.6,120.2 Z" fill="#fd8a3b"/>
<path d="M557.95,109.5 L563.3,109.5 L563.3,120.2 L557.95,120.2 Z" fill="#fd7936"/>
<path d="M562.3,109.5 L567.65,109.5 L567.65,120.2 L562.3,120.2 Z" fill="#fc5b2e"/>
<path d="M566.65,109.5 L572,109.5 L572,120.2 L566.65,120.2 Z" fill="#fc512b"/>
<path d="M571,109.5 L576.35,109.5 L576.35,120.2 L571,120.2 Z" fill="#e6201e"/>
<path d="M575.35,109.5 L580.7,109.5 L580.7,120.2 L575.35,120.2 Z" fill="#e41c1d"/>
<path d="M579.7,109.5 L585.05,109.5 L585.05,120.2 L579.7,120.2 Z" fill="#e41c1d"/>
<path d="M584.05,109.5 L589.4,109.5 L589.4,120.2 L584.05,120.2 Z" fill="#dd161e"/>
<path d="M588.4,109.5 L593.75,109.5 L593.75,120.2 L588.4,120.2 Z" fill="#dd161e"/>
<path d="M592.75,109.5 L598.1,109.5 L598.1,120.2 L592.75,120.2 Z" fill="#f23924"/>
<path d="M597.1,109.5 L602.45,109.5 L602.45,120.2 L597.1,120.2 Z" fill="#fc5b2e"/>
<path d="M601.45,109.5 L606.8,109.5 L606.8,120.2 L601.45,120.2 Z" fill="#fc5b2e"/>
<path d="M605.8,109.5 L611.15,109.5 L611.15,120.2 L605.8,120.2 Z" fill="#fc6230"/>
<path d="M610.15,109.5 L615.5,109.5 L615.5,120.2 L610.15,120.2 Z" fill="#fd9640"/>
<path d="M614.5,109.5 L619.85,109.5 L619.85,120.2 L614.5,120.2 Z" fill="#fd9640"/>
<path d="M618.85,109.5 L624.2,109.5 L624.2,120.2 L618.85,120.2 Z" fill="#fd903d"/>
<path d="M623.2,109.5 L628.55,109.5 L628.55,120.2 L623.2,120.2 Z" fill="#fd9c42"/>
<path d="M627.55,109.5 L632.9,109.5 L632.9,120.2 L627.55,120.2 Z" fill="#feae4a"/>
<path d="M631.9,109.5 L637.25,109.5 L637.25,120.2 L631.9,120.2 Z" fill="#feab49"/>
<path d="M636.25,109.5 L641.6,109.5 L641.6,120.2 L636.25,120.2 Z" fill="#fead4a"/>
<path d="M640.6,109.5 L645.95,109.5 L645.95,120.2 L640.6,120.2 Z" fill="#fead4a"/>
<path d="M644.95,109.5 L650.3,109.5 L650.3,120.2 L644.95,120.2 Z" fill="#feaf4b"/>
<path d="M649.3,109.5 L654.65,109.5 L654.65,120.2 L649.3,120.2 Z" fill="#feb14c"/>
<path d="M653.65,109.5 L659,109.5 L659,120.2 L653.65,120.2 Z" fill="#feb44e"/>
<path d="M658,109.5 L663.35,109.5 L663.35,120.2 L658,120.2 Z" fill="#feb651"/>
<path d="M662.35,109.5 L667.7,109.5 L667.7,120.2 L662.35,120.2 Z" fill="#feb651"/>
<path d="M666.7,109.5 L672.05,109.5 L672.05,120.2 L666.7,120.2 Z" fill="#feb651"/>
<path d="M671.05,109.5 L676.4,109.5 L676.4,120.2 L671.05,120.2 Z" fill="#feb651"/>
<path d="M675.4,109.5 L680.75,109.5 L680.75,120.2 L675.4,120.2 Z" fill="#feb651"/>
<path d="M679.75,109.5 L689.1,109.5 L689.1,120.2 L679.75,120.2 Z" fill="#feb651"/>
<path d="M506.9,119.2 L515.25,119.2 L515.25,129.9 L506.9,129.9 Z" fill="#feb751"/>
<path d="M514.25,119.2 L519.6,119.2 L519.6,129.9 L514.25,129.9 Z" fill="#feb14b"/>
<path d="M518.6,119.2 L523.95,119.2 L523.95,129.9 L518.6,129.9 Z" fill="#feb14b"/>
<path d="M522.95,119.2 L528.3,119.2 L528.3,129.9 L522.95,129.9 Z" fill="#feb751"/>
<path d="M527.3,119.2 L532.65,119.2 L532.65,129.9 L527.3,129.9 Z" fill="#fec05b"/>
<path d="M531.65,119.2 L537,119.2 L537,129.9 L531.65,129.9 Z" fill="#fecd69"/>
<path d="M536,119.2 L541.35,119.2 L541.35,129.9 L536,129.9 Z" fill="#feda78"/>
<path d="M540.35,119.2 L545.7,119.2 L545.7,129.9 L540.35,129.9 Z" fill="#fedb79"/>
<path d="M544.7,119.2 L550.05,119.2 L550.05,129.9 L544.7,129.9 Z" fill="#fede80"/>
<path d="M549.05,119.2 L554.4,119.2 L554.4,129.9 L549.05,129.9 Z" fill="#fedf83"/>
<path d="M553.4,119.2 L558.75,119.2 L558.75,129.9 L553.4,129.9 Z" fill="#fd9f44"/>
<path d="M557.75,119.2 L563.1,119.2 L563.1,129.9 L557.75,129.9 Z" fill="#fc6a32"/>
<path d="M562.1,119.2 L567.45,119.2 L567.45,129.9 L562.1,129.9 Z" fill="#fd7936"/>
<path d="M566.45,119.2 L571.8,119.2 L571.8,129.9 L566.45,129.9 Z" fill="#fc5b2e"/>
<path d="M570.8,119.2 L576.15,119.2 L576.15,129.9 L570.8,129.9 Z" fill="#eb2b20"/>
<path d="M575.15,119.2 L580.5,119.2 L580.5,129.9 L575.15,129.9 Z" fill="#da141e"/>
<path d="M579.5,119.2 L584.85,119.2 L584.85,129.9 L579.5,129.9 Z" fill="#d7121f"/>
<path d="M583.85,119.2 L589.2,119.2 L589.2,129.9 L583.85,129.9 Z" fill="#da141e"/>
<path d="M588.2,119.2 L593.55,119.2 L593.55,129.9 L588.2,129.9 Z" fill="#e6201e"/>
<path d="M592.55,119.2 L597.9,119.2 L597.9,129.9 L592.55,129.9 Z" fill="#eb2b20"/>
<path d="M596.9,119.2 L602.25,119.2 L602.25,129.9 L596.9,129.9 Z" fill="#f33b25"/>
<path d="M601.25,119.2 L606.6,119.2 L606.6,129.9 L601.25,129.9 Z" fill="#f74427"/>
<path d="M605.6,119.2 L610.95,119.2 L610.95,129.9 L605.6,129.9 Z" fill="#fc5b2e"/>
<path d="M609.95,119.2 L615.3,119.2 L615.3,129.9 L609.95,129.9 Z" fill="#fc6a32"/>
<path d="M614.3,119.2 L619.65,119.2 L619.65,129.9 L614.3,129.9 Z" fill="#fd933f"/>
<path d="M618.65,119.2 L624,119.2 L624,129.9 L618.65,129.9 Z" fill="#fd9640"/>
<path d="M623,119.2 L628.35,119.2 L628.35,129.9 L623,129.9 Z" fill="#fd9941"/>
<path d="M627.35,119.2 L632.7,119.2 L632.7,129.9 L627.35,129.9 Z" fill="#feaf4b"/>
<path d="M631.7,119.2 L637.05,119.2 L637.05,129.9 L631.7,129.9 Z" fill="#feaf4b"/>
<path d="M636.05,119.2 L641.4,119.2 L641.4,129.9 L636.05,129.9 Z" fill="#fead4a"/>
<path d="M640.4,119.2 L645.75,119.2 L645.75,129.9 L640.4,129.9 Z" fill="#feb34d"/>
<path d="M644.75,119.2 L650.1,119.2 L650.1,129.9 L644.75,129.9 Z" fill="#feb34d"/>
<path d="M649.1,119.2 L654.45,119.2 L654.45,129.9 L649.1,129.9 Z" fill="#feb34d"/>
<path d="M653.45,119.2 L658.8,119.2 L658.8,129.9 L653.45,129.9 Z" fill="#feb34d"/>
<path d="M657.8,119.2 L663.15,119.2 L663.15,129.9 L657.8,129.9 Z" fill="#feb34d"/>
<path d="M662.15,119.2 L667.5,119.2 L667.5,129.9 L662.15,129.9 Z" fill="#feb34d"/>
<path d="M666.5,119.2 L671.85,119.2 L671.85,129.9 L666.5,129.9 Z" fill="#feb34d"/>
<path d="M670.85,119.2 L676.2,119.2 L676.2,129.9 L670.85,129.9 Z" fill="#feb34d"/>
<path d="M675.2,119.2 L680.55,119.2 L680.55,129.9 L675.2,129.9 Z" fill="#feb34d"/>
<path d="M679.55,119.2 L688.9,119.2 L688.9,129.9 L679.55,129.9 Z" fill="#feb34d"/>
<path d="M506.9,128.9 L515.25,128.9 L515.25,139.7 L506.9,139.7 Z" fill="#feba54"/>
<path d="M514.25,128.9 L519.6,128.9 L519.6,139.7 L514.25,139.7 Z" fill="#feba54"/>
<path d="M518.6,128.9 L523.95,128.9 L523.95,139.7 L518.6,139.7 Z" fill="#feba54"/>
<path d="M522.95,128.9 L528.3,128.9 L528.3,139.7 L522.95,139.7 Z" fill="#feba54"/>
<path d="M527.3,128.9 L532.65,128.9 L532.65,139.7 L527.3,139.7 Z" fill="#fecd69"/>
<path d="M531.65,128.9 L537,128.9 L537,139.7 L531.65,139.7 Z" fill="#fed673"/>
<path d="M536,128.9 L541.35,128.9 L541.35,139.7 L536,139.7 Z" fill="#fed673"/>
<path d="M540.35,128.9 L545.7,128.9 L545.7,139.7 L540.35,139.7 Z" fill="#feda78"/>
<path d="M544.7,128.9 L550.05,128.9 L550.05,139.7 L544.7,139.7 Z" fill="#fff5b3"/>
<path d="M549.05,128.9 L554.4,128.9 L554.4,139.7 L549.05,139.7 Z" fill="#fec662"/>
<path d="M553.4,128.9 L558.75,128.9 L558.75,139.7 L553.4,139.7 Z" fill="#fd9c42"/>
<path d="M557.75,128.9 L563.1,128.9 L563.1,139.7 L557.75,139.7 Z" fill="#fd7435"/>
<path d="M562.1,128.9 L567.45,128.9 L567.45,139.7 L562.1,139.7 Z" fill="#fc512b"/>
<path d="M566.45,128.9 L571.8,128.9 L571.8,139.7 L566.45,139.7 Z" fill="#eb2b20"/>
<path d="M570.8,128.9 L576.15,128.9 L576.15,139.7 L570.8,139.7 Z" fill="#d7121f"/>
<path d="M575.15,128.9 L580.5,128.9 L580.5,139.7 L575.15,139.7 Z" fill="#b60026"/>
<path d="M579.5,128.9 L584.85,128.9 L584.85,139.7 L579.5,139.7 Z" fill="#c20325"/>
<path d="M583.85,128.9 L589.2,128.9 L589.2,139.7 L583.85,139.7 Z" fill="#d7121f"/>
<path d="M588.2,128.9 L593.55,128.9 L593.55,139.7 L588.2,139.7 Z" fill="#d7121f"/>
<path d="M592.55,128.9 L597.9,128.9 L597.9,139.7 L592.55,139.7 Z" fill="#e6201e"/>
<path d="M596.9,128.9 L602.25,128.9 L602.25,139.7 L596.9,139.7 Z" fill="#eb2b20"/>
<path d="M601.25,128.9 L606.6,128.9 L606.6,139.7 L601.25,139.7 Z" fill="#fc5b2e"/>
<path d="M605.6,128.9 L610.95,128.9 L610.95,139.7 L605.6,139.7 Z" fill="#fc5b2e"/>
<path d="M609.95,128.9 L615.3,128.9 L615.3,139.7 L609.95,139.7 Z" fill="#fd7936"/>
<path d="M614.3,128.9 L619.65,128.9 L619.65,139.7 L614.3,139.7 Z" fill="#fc5b2e"/>
<path d="M618.65,128.9 L624,128.9 L624,139.7 L618.65,139.7 Z" fill="#fc5b2e"/>
<path d="M623,128.9 L628.35,128.9 L628.35,139.7 L623,139.7 Z" fill="#fd9640"/>
<path d="M627.35,128.9 L632.7,128.9 L632.7,139.7 L627.35,139.7 Z" fill="#fd9c42"/>
<path d="M631.7,128.9 L637.05,128.9 L637.05,139.7 L631.7,139.7 Z" fill="#fea245"/>
<path d="M636.05,128.9 L641.4,128.9 L641.4,139.7 L636.05,139.7 Z" fill="#feab49"/>
<path d="M640.4,128.9 L645.75,128.9 L645.75,139.7 L640.4,139.7 Z" fill="#fea848"/>
<path d="M644.75,128.9 L650.1,128.9 L650.1,139.7 L644.75,139.7 Z" fill="#feaf4b"/>
<path d="M649.1,128.9 L654.45,128.9 L654.45,139.7 L649.1,139.7 Z" fill="#feb44e"/>
<path d="M653.45,128.9 L658.8,128.9 L658.8,139.7 L653.45,139.7 Z" fill="#feb550"/>
<path d="M657.8,128.9 L663.15,128.9 L663.15,139.7 L657.8,139.7 Z" fill="#feb54f"/>
<path d="M662.15,128.9 L667.5,128.9 L667.5,139.7 L662.15,139.7 Z" fill="#feb651"/>
<path d="M666.5,128.9 L671.85,128.9 L671.85,139.7 L666.5,139.7 Z" fill="#feb853"/>
<path d="M670.85,128.9 L676.2,128.9 L676.2,139.7 L670.85,139.7 Z" fill="#feb54f"/>
<path d="M675.2,128.9 L680.55,128.9 L680.55,139.7 L675.2,139.7 Z" fill="#feb651"/>
<path d="M679.55,128.9 L688.9,128.9 L688.9,139.7 L679.55,139.7 Z" fill="#feb853"/>
<path d="M506.9,138.7 L515.25,138.7 L515.25,149.4 L506.9,149.4 Z" fill="#feba54"/>
<path d="M514.25,138.7 L519.6,138.7 L519.6,149.4 L514.25,149.4 Z" fill="#feba54"/>
<path d="M518.6,138.7 L523.95,138.7 L523.95,149.4 L518.6,149.4 Z" fill="#feb751"/>
<path d="M522.95,138.7 L528.3,138.7 L528.3,149.4 L522.95,149.4 Z" fill="#feb751"/>
<path d="M527.3,138.7 L532.65,138.7 L532.65,149.4 L527.3,149.4 Z" fill="#feb14b"/>
<path d="M531.65,138.7 L537,138.7 L537,149.4 L531.65,149.4 Z" fill="#feb751"/>
<path d="M536,138.7 L541.35,138.7 L541.35,149.4 L536,149.4 Z" fill="#febd58"/>
<path d="M540.35,138.7 L545.7,138.7 L545.7,149.4 L540.35,149.4 Z" fill="#fec05b"/>
<path d="M544.7,138.7 L550.05,138.7 L550.05,149.4 L544.7,149.4 Z" fill="#fec662"/>
<path d="M549.05,138.7 L554.4,138.7 L554.4,149.4 L549.05,149.4 Z" fill="#fec35e"/>
<path d="M553.4,138.7 L558.75,138.7 L558.75,149.4 L553.4,149.4 Z" fill="#fea245"/>
<path d="M557.75,138.7 L563.1,138.7 L563.1,149.4 L557.75,149.4 Z" fill="#fea245"/>
<path d="M562.1,138.7 L567.45,138.7 L567.45,149.4 L562.1,149.4 Z" fill="#fea245"/>
<path d="M566.45,138.7 L571.8,138.7 L571.8,149.4 L566.45,149.4 Z" fill="#fc5b2e"/>
<path d="M570.8,138.7 L576.15,138.7 L576.15,149.4 L570.8,149.4 Z" fill="#da141e"/>
<path d="M575.15,138.7 L580.5,138.7 L580.5,149.4 L575.15,149.4 Z" fill="#d7121f"/>
<path d="M579.5,138.7 L584.85,138.7 L584.85,149.4 L579.5,149.4 Z" fill="#ce0b22"/>
<path d="M583.85,138.7 L589.2,138.7 L589.2,149.4 L583.85,149.4 Z" fill="#a20026"/>
<path d="M588.2,138.7 L593.55,138.7 L593.55,149.4 L588.2,149.4 Z" fill="#a20026"/>
<path d="M592.55,138.7 L597.9,138.7 L597.9,149.4 L592.55,149.4 Z" fill="#da141e"/>
<path d="M596.9,138.7 L602.25,138.7 L602.25,149.4 L596.9,149.4 Z" fill="#da141e"/>
<path d="M601.25,138.7 L606.6,138.7 L606.6,149.4 L601.25,149.4 Z" fill="#fa4a29"/>
<path d="M605.6,138.7 L610.95,138.7 L610.95,149.4 L605.6,149.4 Z" fill="#f53f26"/>
<path d="M609.95,138.7 L615.3,138.7 L615.3,149.4 L609.95,149.4 Z" fill="#fc6a32"/>
<path d="M614.3,138.7 L619.65,138.7 L619.65,149.4 L614.3,149.4 Z" fill="#fd6f33"/>
<path d="M618.65,138.7 L624,138.7 L624,149.4 L618.65,149.4 Z" fill="#fd903d"/>
<path d="M623,138.7 L628.35,138.7 L628.35,149.4 L623,149.4 Z" fill="#fd9941"/>
<path d="M627.35,138.7 L632.7,138.7 L632.7,149.4 L627.35,149.4 Z" fill="#fea245"/>
<path d="M631.7,138.7 L637.05,138.7 L637.05,149.4 L631.7,149.4 Z" fill="#fea546"/>
<path d="M636.05,138.7 L641.4,138.7 L641.4,149.4 L636.05,149.4 Z" fill="#fea948"/>
<path d="M640.4,138.7 L645.75,138.7 L645.75,149.4 L640.4,149.4 Z" fill="#fead4a"/>
<path d="M644.75,138.7 L650.1,138.7 L650.1,149.4 L644.75,149.4 Z" fill="#fea948"/>
<path d="M649.1,138.7 L654.45,138.7 L654.45,149.4 L649.1,149.4 Z" fill="#feab49"/>
<path d="M653.45,138.7 L658.8,138.7 L658.8,149.4 L653.45,149.4 Z" fill="#fead4a"/>
<path d="M657.8,138.7 L663.15,138.7 L663.15,149.4 L657.8,149.4 Z" fill="#fea948"/>
<path d="M662.15,138.7 L667.5,138.7 L667.5,149.4 L662.15,149.4 Z" fill="#feb34d"/>
<path d="M666.5,138.7 L671.85,138.7 L671.85,149.4 L666.5,149.4 Z" fill="#feb651"/>
<path d="M670.85,138.7 L676.2,138.7 L676.2,149.4 L670.85,149.4 Z" fill="#feb54f"/>
<path d="M675.2,138.7 L680.55,138.7 L680.55,149.4 L675.2,149.4 Z" fill="#feb651"/>
<path d="M679.55,138.7 L688.9,138.7 L688.9,149.4 L679.55,149.4 Z" fill="#feb853"/>
<path d="M506.6,148.4 L514.95,148.4 L514.95,159.2 L506.6,159.2 Z" fill="#feba54"/>
<path d="M513.95,148.4 L519.3,148.4 L519.3,159.2 L513.95,159.2 Z" fill="#feba54"/>
<path d="M518.3,148.4 L523.65,148.4 L523.65,159.2 L518.3,159.2 Z" fill="#feba54"/>
<path d="M522.65,148.4 L528,148.4 L528,159.2 L522.65,159.2 Z" fill="#fec05b"/>
<path d="M527,148.4 L532.35,148.4 L532.35,159.2 L527,159.2 Z" fill="#feba54"/>
<path d="M531.35,148.4 L536.7,148.4 L536.7,159.2 L531.35,159.2 Z" fill="#fecd69"/>
<path d="M535.7,148.4 L541.05,148.4 L541.05,159.2 L535.7,159.2 Z" fill="#fedf83"/>
<path d="M540.05,148.4 L545.4,148.4 L545.4,159.2 L540.05,159.2 Z" fill="#fedf83"/>
<path d="M544.4,148.4 L549.75,148.4 L549.75,159.2 L544.4,159.2 Z" fill="#fee38a"/>
<path d="M548.75,148.4 L554.1,148.4 L554.1,159.2 L548.75,159.2 Z" fill="#feda78"/>
<path d="M553.1,148.4 L558.45,148.4 L558.45,159.2 L553.1,159.2 Z" fill="#fd9c42"/>
<path d="M557.45,148.4 L562.8,148.4 L562.8,159.2 L557.45,159.2 Z" fill="#fc5b2e"/>
<path d="M561.8,148.4 L567.15,148.4 L567.15,159.2 L561.8,159.2 Z" fill="#f23924"/>
<path d="M566.15,148.4 L571.5,148.4 L571.5,159.2 L566.15,159.2 Z" fill="#e41c1d"/>
<path d="M570.5,148.4 L575.85,148.4 L575.85,159.2 L570.5,159.2 Z" fill="#ce0b22"/>
<path d="M574.85,148.4 L580.2,148.4 L580.2,159.2 L574.85,159.2 Z" fill="#c20325"/>
<path d="M579.2,148.4 L584.55,148.4 L584.55,159.2 L579.2,159.2 Z" fill="#8f0026"/>
<path d="M583.55,148.4 L588.9,148.4 L588.9,159.2 L583.55,159.2 Z" fill="#ac0026"/>
<path d="M587.9,148.4 L593.25,148.4 L593.25,159.2 L587.9,159.2 Z" fill="#d7121f"/>
<path d="M592.25,148.4 L597.6,148.4 L597.6,159.2 L592.25,159.2 Z" fill="#da141e"/>
<path d="M596.6,148.4 L601.95,148.4 L601.95,159.2 L596.6,159.2 Z" fill="#dd161e"/>
<path d="M600.95,148.4 L606.3,148.4 L606.3,159.2 L600.95,159.2 Z" fill="#fc512b"/>
<path d="M605.3,148.4 L610.65,148.4 L610.65,159.2 L605.3,159.2 Z" fill="#fc5b2e"/>
<path d="M609.65,148.4 L615,148.4 L615,159.2 L609.65,159.2 Z" fill="#fc5b2e"/>
<path d="M614,148.4 L619.35,148.4 L619.35,159.2 L614,159.2 Z" fill="#fc6a32"/>
<path d="M618.35,148.4 L623.7,148.4 L623.7,159.2 L618.35,159.2 Z" fill="#fd8d3c"/>
<path d="M622.7,148.4 L628.05,148.4 L628.05,159.2 L622.7,159.2 Z" fill="#fd9f44"/>
<path d="M627.05,148.4 L632.4,148.4 L632.4,159.2 L627.05,159.2 Z" fill="#fd9f44"/>
<path d="M631.4,148.4 L636.75,148.4 L636.75,159.2 L631.4,159.2 Z" fill="#fd9c42"/>
<path d="M635.75,148.4 L641.1,148.4 L641.1,159.2 L635.75,159.2 Z" fill="#fea647"/>
<path d="M640.1,148.4 L645.45,148.4 L645.45,159.2 L640.1,159.2 Z" fill="#fea948"/>
<path d="M644.45,148.4 L649.8,148.4 L649.8,159.2 L644.45,159.2 Z" fill="#fead4a"/>
<path d="M648.8,148.4 L654.15,148.4 L654.15,159.2 L648.8,159.2 Z" fill="#fead4a"/>
<path d="M653.15,148.4 L658.5,148.4 L658.5,159.2 L653.15,159.2 Z" fill="#fea948"/>
<path d="M657.5,148.4 L662.85,148.4 L662.85,159.2 L657.5,159.2 Z" fill="#feaf4b"/>
<path d="M661.85,148.4 L667.2,148.4 L667.2,159.2 L661.85,159.2 Z" fill="#feb44e"/>
<path d="M666.2,148.4 L671.55,148.4 L671.55,159.2 L666.2,159.2 Z" fill="#feb651"/>
<path d="M670.55,148.4 L675.9,148.4 L675.9,159.2 L670.55,159.2 Z" fill="#feb54f"/>
<path d="M674.9,148.4 L680.25,148.4 L680.25,159.2 L674.9,159.2 Z" fill="#feb853"/>
<path d="M679.25,148.4 L688.6,148.4 L688.6,159.2 L679.25,159.2 Z" fill="#fec35e"/>
<path d="M507,158.2 L515.35,158.2 L515.35,173.8 L507,173.8 Z" fill="#feba54"/>
<path d="M514.35,158.2 L519.7,158.2 L519.7,173.8 L514.35,173.8 Z" fill="#feba54"/>
<path d="M518.7,158.2 L524.05,158.2 L524.05,173.8 L518.7,173.8 Z" fill="#feb751"/>
<path d="M523.05,158.2 L528.4,158.2 L528.4,173.8 L523.05,173.8 Z" fill="#feb14b"/>
<path d="M527.4,158.2 L532.75,158.2 L532.75,173.8 L527.4,173.8 Z" fill="#feb751"/>
<path d="M531.75,158.2 L537.1,158.2 L537.1,173.8 L531.75,173.8 Z" fill="#fedb79"/>
<path d="M536.1,158.2 L541.45,158.2 L541.45,173.8 L536.1,173.8 Z" fill="#fede80"/>
<path d="M540.45,158.2 L545.8,158.2 L545.8,173.8 L540.45,173.8 Z" fill="#fff6b7"/>
<path d="M544.8,158.2 L550.15,158.2 L550.15,173.8 L544.8,173.8 Z" fill="#fff6b7"/>
<path d="M549.15,158.2 L554.5,158.2 L554.5,173.8 L549.15,173.8 Z" fill="#fecd69"/>
<path d="M553.5,158.2 L558.85,158.2 L558.85,173.8 L553.5,173.8 Z" fill="#fd933f"/>
<path d="M557.85,158.2 L563.2,158.2 L563.2,173.8 L557.85,173.8 Z" fill="#f84628"/>
<path d="M562.2,158.2 L567.55,158.2 L567.55,173.8 L562.2,173.8 Z" fill="#eb2b20"/>
<path d="M566.55,158.2 L571.9,158.2 L571.9,173.8 L566.55,173.8 Z" fill="#e41c1d"/>
<path d="M570.9,158.2 L576.25,158.2 L576.25,173.8 L570.9,173.8 Z" fill="#c20325"/>
<path d="M575.25,158.2 L580.6,158.2 L580.6,173.8 L575.25,173.8 Z" fill="#a20026"/>
<path d="M579.6,158.2 L584.95,158.2 L584.95,173.8 L579.6,173.8 Z" fill="#b10026"/>
<path d="M583.95,158.2 L589.3,158.2 L589.3,173.8 L583.95,173.8 Z" fill="#ac0026"/>
<path d="M588.3,158.2 L593.65,158.2 L593.65,173.8 L588.3,173.8 Z" fill="#d7121f"/>
<path d="M592.65,158.2 L598,158.2 L598,173.8 L592.65,173.8 Z" fill="#d10e21"/>
<path d="M597,158.2 L602.35,158.2 L602.35,173.8 L597,173.8 Z" fill="#eb2b20"/>
<path d="M601.35,158.2 L606.7,158.2 L606.7,173.8 L601.35,173.8 Z" fill="#fc512b"/>
<path d="M605.7,158.2 L611.05,158.2 L611.05,173.8 L605.7,173.8 Z" fill="#fa4a29"/>
<path d="M610.05,158.2 L615.4,158.2 L615.4,173.8 L610.05,173.8 Z" fill="#fc5b2e"/>
<path d="M614.4,158.2 L619.75,158.2 L619.75,173.8 L614.4,173.8 Z" fill="#fd8339"/>
<path d="M618.75,158.2 L624.1,158.2 L624.1,173.8 L618.75,173.8 Z" fill="#fd7435"/>
<path d="M623.1,158.2 L628.45,158.2 L628.45,173.8 L623.1,173.8 Z" fill="#fd9f44"/>
<path d="M627.45,158.2 L632.8,158.2 L632.8,173.8 L627.45,173.8 Z" fill="#fd9f44"/>
<path d="M631.8,158.2 L637.15,158.2 L637.15,173.8 L631.8,173.8 Z" fill="#fea546"/>
<path d="M636.15,158.2 L641.5,158.2 L641.5,173.8 L636.15,173.8 Z" fill="#fea948"/>
<path d="M640.5,158.2 L645.85,158.2 L645.85,173.8 L640.5,173.8 Z" fill="#fead4a"/>
<path d="M644.85,158.2 L650.2,158.2 L650.2,173.8 L644.85,173.8 Z" fill="#feaf4b"/>
<path d="M649.2,158.2 L654.55,158.2 L654.55,173.8 L649.2,173.8 Z" fill="#fea948"/>
<path d="M653.55,158.2 L658.9,158.2 L658.9,173.8 L653.55,173.8 Z" fill="#fd9e43"/>
<path d="M657.9,158.2 L663.25,158.2 L663.25,173.8 L657.9,173.8 Z" fill="#fea948"/>
<path d="M662.25,158.2 L667.6,158.2 L667.6,173.8 L662.25,173.8 Z" fill="#feb34d"/>
<path d="M666.6,158.2 L671.95,158.2 L671.95,173.8 L666.6,173.8 Z" fill="#feb651"/>
<path d="M670.95,158.2 L676.3,158.2 L676.3,173.8 L670.95,173.8 Z" fill="#feb54f"/>
<path d="M675.3,158.2 L680.65,158.2 L680.65,173.8 L675.3,173.8 Z" fill="#feb853"/>
<path d="M679.65,158.2 L689,158.2 L689,173.8 L679.65,173.8 Z" fill="#feb853"/>
<path d="M506.6,172.8 L514.95,172.8 L514.95,193.2 L506.6,193.2 Z" fill="#feba54"/>
<path d="M513.95,172.8 L519.3,172.8 L519.3,193.2 L513.95,193.2 Z" fill="#feb751"/>
<path d="M518.3,172.8 L523.65,172.8 L523.65,193.2 L518.3,193.2 Z" fill="#feb751"/>
<path d="M522.65,172.8 L528,172.8 L528,193.2 L522.65,193.2 Z" fill="#feba54"/>
<path d="M527,172.8 L532.35,172.8 L532.35,193.2 L527,193.2 Z" fill="#febd58"/>
<path d="M531.35,172.8 L536.7,172.8 L536.7,193.2 L531.35,193.2 Z" fill="#fecd69"/>
<path d="M535.7,172.8 L541.05,172.8 L541.05,193.2 L535.7,193.2 Z" fill="#fed774"/>
<path d="M540.05,172.8 L545.4,172.8 L545.4,193.2 L540.05,193.2 Z" fill="#fede80"/>
<path d="M544.4,172.8 L549.75,172.8 L549.75,193.2 L544.4,193.2 Z" fill="#fede80"/>
<path d="M548.75,172.8 L554.1,172.8 L554.1,193.2 L548.75,193.2 Z" fill="#fecd69"/>
<path d="M553.1,172.8 L558.45,172.8 L558.45,193.2 L553.1,193.2 Z" fill="#fd9941"/>
<path d="M557.45,172.8 L562.8,172.8 L562.8,193.2 L557.45,193.2 Z" fill="#f53f26"/>
<path d="M561.8,172.8 L567.15,172.8 L567.15,193.2 L561.8,193.2 Z" fill="#dd161e"/>
<path d="M566.15,172.8 L571.5,172.8 L571.5,193.2 L566.15,193.2 Z" fill="#d7121f"/>
<path d="M570.5,172.8 L575.85,172.8 L575.85,193.2 L570.5,193.2 Z" fill="#b10026"/>
<path d="M574.85,172.8 L580.2,172.8 L580.2,193.2 L574.85,193.2 Z" fill="#9d0026"/>
<path d="M579.2,172.8 L584.55,172.8 L584.55,193.2 L579.2,193.2 Z" fill="#9d0026"/>
<path d="M583.55,172.8 L588.9,172.8 L588.9,193.2 L583.55,193.2 Z" fill="#b10026"/>
<path d="M587.9,172.8 L593.25,172.8 L593.25,193.2 L587.9,193.2 Z" fill="#b10026"/>
<path d="M592.25,172.8 L597.6,172.8 L597.6,193.2 L592.25,193.2 Z" fill="#e6201e"/>
<path d="M596.6,172.8 L601.95,172.8 L601.95,193.2 L596.6,193.2 Z" fill="#e6201e"/>
<path d="M600.95,172.8 L606.3,172.8 L606.3,193.2 L600.95,193.2 Z" fill="#eb2b20"/>
<path d="M605.3,172.8 L610.65,172.8 L610.65,193.2 L605.3,193.2 Z" fill="#fc512b"/>
<path d="M609.65,172.8 L615,172.8 L615,193.2 L609.65,193.2 Z" fill="#fc512b"/>
<path d="M614,172.8 L619.35,172.8 L619.35,193.2 L614,193.2 Z" fill="#fd7435"/>
<path d="M618.35,172.8 L623.7,172.8 L623.7,193.2 L618.35,193.2 Z" fill="#fd7435"/>
<path d="M622.7,172.8 L628.05,172.8 L628.05,193.2 L622.7,193.2 Z" fill="#fd9640"/>
<path d="M627.05,172.8 L632.4,172.8 L632.4,193.2 L627.05,193.2 Z" fill="#fd9640"/>
<path d="M631.4,172.8 L636.75,172.8 L636.75,193.2 L631.4,193.2 Z" fill="#feae4a"/>
<path d="M635.75,172.8 L641.1,172.8 L641.1,193.2 L635.75,193.2 Z" fill="#fea848"/>
<path d="M640.1,172.8 L645.45,172.8 L645.45,193.2 L640.1,193.2 Z" fill="#fea848"/>
<path d="M644.45,172.8 L649.8,172.8 L649.8,193.2 L644.45,193.2 Z" fill="#feab49"/>
<path d="M648.8,172.8 L654.15,172.8 L654.15,193.2 L648.8,193.2 Z" fill="#fea546"/>
<path d="M653.15,172.8 L658.5,172.8 L658.5,193.2 L653.15,193.2 Z" fill="#feae4a"/>
<path d="M657.5,172.8 L662.85,172.8 L662.85,193.2 L657.5,193.2 Z" fill="#feae4a"/>
<path d="M661.85,172.8 L667.2,172.8 L667.2,193.2 L661.85,193.2 Z" fill="#fea647"/>
<path d="M666.2,172.8 L671.55,172.8 L671.55,193.2 L666.2,193.2 Z" fill="#fea647"/>
<path d="M670.55,172.8 L675.9,172.8 L675.9,193.2 L670.55,193.2 Z" fill="#feb14b"/>
<path d="M674.9,172.8 L680.25,172.8 L680.25,193.2 L674.9,193.2 Z" fill="#feb14b"/>
<path d="M679.25,172.8 L688.6,172.8 L688.6,193.2 L679.25,193.2 Z" fill="#feb751"/>
<path d="M506,192.2 L514.35,192.2 L514.35,212.7 L506,212.7 Z" fill="#feba54"/>
<path d="M513.35,192.2 L518.7,192.2 L518.7,212.7 L513.35,212.7 Z" fill="#feba54"/>
<path d="M517.7,192.2 L523.05,192.2 L523.05,212.7 L517.7,212.7 Z" fill="#feba54"/>
<path d="M522.05,192.2 L527.4,192.2 L527.4,212.7 L522.05,212.7 Z" fill="#feba54"/>
<path d="M526.4,192.2 L531.75,192.2 L531.75,212.7 L526.4,212.7 Z" fill="#feb853"/>
<path d="M530.75,192.2 L536.1,192.2 L536.1,212.7 L530.75,212.7 Z" fill="#fec35e"/>
<path d="M535.1,192.2 L540.45,192.2 L540.45,212.7 L535.1,212.7 Z" fill="#fecd69"/>
<path d="M539.45,192.2 L544.8,192.2 L544.8,212.7 L539.45,212.7 Z" fill="#feda78"/>
<path d="M543.8,192.2 L549.15,192.2 L549.15,212.7 L543.8,212.7 Z" fill="#feda78"/>
<path d="M548.15,192.2 L553.5,192.2 L553.5,212.7 L548.15,212.7 Z" fill="#fec35e"/>
<path d="M552.5,192.2 L557.85,192.2 L557.85,212.7 L552.5,212.7 Z" fill="#feb14b"/>
<path d="M556.85,192.2 L562.2,192.2 L562.2,212.7 L556.85,212.7 Z" fill="#fc6a32"/>
<path d="M561.2,192.2 L566.55,192.2 L566.55,212.7 L561.2,212.7 Z" fill="#e51e1d"/>
<path d="M565.55,192.2 L570.9,192.2 L570.9,212.7 L565.55,212.7 Z" fill="#da141e"/>
<path d="M569.9,192.2 L575.25,192.2 L575.25,212.7 L569.9,212.7 Z" fill="#ac0026"/>
<path d="M574.25,192.2 L579.6,192.2 L579.6,212.7 L574.25,212.7 Z" fill="#8f0026"/>
<path d="M578.6,192.2 L583.95,192.2 L583.95,212.7 L578.6,212.7 Z" fill="#a20026"/>
<path d="M582.95,192.2 L588.3,192.2 L588.3,212.7 L582.95,212.7 Z" fill="#a20026"/>
<path d="M587.3,192.2 L592.65,192.2 L592.65,212.7 L587.3,212.7 Z" fill="#b60026"/>
<path d="M591.65,192.2 L597,192.2 L597,212.7 L591.65,212.7 Z" fill="#d41020"/>
<path d="M596,192.2 L601.35,192.2 L601.35,212.7 L596,212.7 Z" fill="#ce0b22"/>
<path d="M600.35,192.2 L605.7,192.2 L605.7,212.7 L600.35,212.7 Z" fill="#dd161e"/>
<path d="M604.7,192.2 L610.05,192.2 L610.05,212.7 L604.7,212.7 Z" fill="#f74427"/>
<path d="M609.05,192.2 L614.4,192.2 L614.4,212.7 L609.05,212.7 Z" fill="#f74427"/>
<path d="M613.4,192.2 L618.75,192.2 L618.75,212.7 L613.4,212.7 Z" fill="#fd7435"/>
<path d="M617.75,192.2 L623.1,192.2 L623.1,212.7 L617.75,212.7 Z" fill="#fd8339"/>
<path d="M622.1,192.2 L627.45,192.2 L627.45,212.7 L622.1,212.7 Z" fill="#fd9640"/>
<path d="M626.45,192.2 L631.8,192.2 L631.8,212.7 L626.45,212.7 Z" fill="#fd9640"/>
<path d="M630.8,192.2 L636.15,192.2 L636.15,212.7 L630.8,212.7 Z" fill="#fea546"/>
<path d="M635.15,192.2 L640.5,192.2 L640.5,212.7 L635.15,212.7 Z" fill="#fea848"/>
<path d="M639.5,192.2 L644.85,192.2 L644.85,212.7 L639.5,212.7 Z" fill="#fea848"/>
<path d="M643.85,192.2 L649.2,192.2 L649.2,212.7 L643.85,212.7 Z" fill="#feab49"/>
<path d="M648.2,192.2 L653.55,192.2 L653.55,212.7 L648.2,212.7 Z" fill="#fea546"/>
<path d="M652.55,192.2 L657.9,192.2 L657.9,212.7 L652.55,212.7 Z" fill="#feae4a"/>
<path d="M656.9,192.2 L662.25,192.2 L662.25,212.7 L656.9,212.7 Z" fill="#feae4a"/>
<path d="M661.25,192.2 L666.6,192.2 L666.6,212.7 L661.25,212.7 Z" fill="#fea647"/>
<path d="M665.6,192.2 L670.95,192.2 L670.95,212.7 L665.6,212.7 Z" fill="#fea647"/>
<path d="M669.95,192.2 L675.3,192.2 L675.3,212.7 L669.95,212.7 Z" fill="#feb14b"/>
<path d="M674.3,192.2 L679.65,192.2 L679.65,212.7 L674.3,212.7 Z" fill="#feb14b"/>
<path d="M678.65,192.2 L688,192.2 L688,212.7 L678.65,212.7 Z" fill="#feb751"/>
<path d="M506.1,211.7 L514.45,211.7 L512.85,241.9 L504.5,241.9 Z" fill="#fec05b"/>
<path d="M513.45,211.7 L518.8,211.7 L517.2,241.9 L511.85,241.9 Z" fill="#fec05b"/>
<path d="M517.8,211.7 L523.15,211.7 L521.55,241.9 L516.2,241.9 Z" fill="#fec05b"/>
<path d="M522.15,211.7 L527.5,211.7 L525.9,241.9 L520.55,241.9 Z" fill="#feb14b"/>
<path d="M526.5,211.7 L531.85,211.7 L530.25,241.9 L524.9,241.9 Z" fill="#febd58"/>
<path d="M530.85,211.7 L536.2,211.7 L534.6,241.9 L529.25,241.9 Z" fill="#febd58"/>
<path d="M535.2,211.7 L540.55,211.7 L538.95,241.9 L533.6,241.9 Z" fill="#fec35e"/>
<path d="M539.55,211.7 L544.9,211.7 L543.3,241.9 L537.95,241.9 Z" fill="#ffe794"/>
<path d="M543.9,211.7 L549.25,211.7 L547.65,241.9 L542.3,241.9 Z" fill="#fecd69"/>
<path d="M548.25,211.7 L553.6,211.7 L552,241.9 L546.65,241.9 Z" fill="#fec662"/>
<path d="M552.6,211.7 L557.95,211.7 L556.35,241.9 L551,241.9 Z" fill="#feb14b"/>
<path d="M556.95,211.7 L562.3,211.7 L560.7,241.9 L555.35,241.9 Z" fill="#fd8339"/>
<path d="M561.3,211.7 L566.65,211.7 L565.05,241.9 L559.7,241.9 Z" fill="#fc512b"/>
<path d="M565.65,211.7 L571,211.7 L569.4,241.9 L564.05,241.9 Z" fill="#eb2b20"/>
<path d="M570,211.7 L575.35,211.7 L573.75,241.9 L568.4,241.9 Z" fill="#da141e"/>
<path d="M574.35,211.7 L579.7,211.7 L578.1,241.9 L572.75,241.9 Z" fill="#980026"/>
<path d="M578.7,211.7 L584.05,211.7 L582.45,241.9 L577.1,241.9 Z" fill="#b10026"/>
<path d="M583.05,211.7 L588.4,211.7 L586.8,241.9 L581.45,241.9 Z" fill="#a20026"/>
<path d="M587.4,211.7 L592.75,211.7 L591.15,241.9 L585.8,241.9 Z" fill="#b60026"/>
<path d="M591.75,211.7 L597.1,211.7 L595.5,241.9 L590.15,241.9 Z" fill="#ce0b22"/>
<path d="M596.1,211.7 L601.45,211.7 L599.85,241.9 L594.5,241.9 Z" fill="#e41c1d"/>
<path d="M600.45,211.7 L605.8,211.7 L604.2,241.9 L598.85,241.9 Z" fill="#eb2b20"/>
<path d="M604.8,211.7 L610.15,211.7 L608.55,241.9 L603.2,241.9 Z" fill="#fa4a29"/>
<path d="M609.15,211.7 L614.5,211.7 L612.9,241.9 L607.55,241.9 Z" fill="#fa4a29"/>
<path d="M613.5,211.7 L618.85,211.7 L617.25,241.9 L611.9,241.9 Z" fill="#fc5b2e"/>
<path d="M617.85,211.7 L623.2,211.7 L621.6,241.9 L616.25,241.9 Z" fill="#fd7936"/>
<path d="M622.2,211.7 L627.55,211.7 L625.95,241.9 L620.6,241.9 Z" fill="#fd9f44"/>
<path d="M626.55,211.7 L631.9,211.7 L630.3,241.9 L624.95,241.9 Z" fill="#fd9f44"/>
<path d="M630.9,211.7 L636.25,211.7 L634.65,241.9 L629.3,241.9 Z" fill="#fea245"/>
<path d="M635.25,211.7 L640.6,211.7 L639,241.9 L633.65,241.9 Z" fill="#fea848"/>
<path d="M639.6,211.7 L644.95,211.7 L643.35,241.9 L638,241.9 Z" fill="#fea848"/>
<path d="M643.95,211.7 L649.3,211.7 L647.7,241.9 L642.35,241.9 Z" fill="#feab49"/>
<path d="M648.3,211.7 L653.65,211.7 L652.05,241.9 L646.7,241.9 Z" fill="#fea546"/>
<path d="M652.65,211.7 L658,211.7 L656.4,241.9 L651.05,241.9 Z" fill="#feae4a"/>
<path d="M657,211.7 L662.35,211.7 L660.75,241.9 L655.4,241.9 Z" fill="#feae4a"/>
<path d="M661.35,211.7 L666.7,211.7 L665.1,241.9 L659.75,241.9 Z" fill="#fea647"/>
<path d="M665.7,211.7 L671.05,211.7 L669.45,241.9 L664.1,241.9 Z" fill="#fea647"/>
<path d="M670.05,211.7 L675.4,211.7 L673.8,241.9 L668.45,241.9 Z" fill="#feb14b"/>
<path d="M674.4,211.7 L679.75,211.7 L678.15,241.9 L672.8,241.9 Z" fill="#feb14b"/>
<path d="M678.75,211.7 L688.1,211.7 L686.5,241.9 L677.15,241.9 Z" fill="#feb751"/>
<path d="M507.7,240.9 L516.05,240.9 L516.05,280.9 L507.7,280.9 Z" fill="#feba54"/>
<path d="M515.05,240.9 L520.4,240.9 L520.4,280.9 L515.05,280.9 Z" fill="#feba54"/>
<path d="M519.4,240.9 L524.75,240.9 L524.75,280.9 L519.4,280.9 Z" fill="#feba54"/>
<path d="M523.75,240.9 L529.1,240.9 L529.1,280.9 L523.75,280.9 Z" fill="#fec35e"/>
<path d="M528.1,240.9 L533.45,240.9 L533.45,280.9 L528.1,280.9 Z" fill="#febd58"/>
<path d="M532.45,240.9 L537.8,240.9 L537.8,280.9 L532.45,280.9 Z" fill="#fec965"/>
<path d="M536.8,240.9 L542.15,240.9 L542.15,280.9 L536.8,280.9 Z" fill="#fed673"/>
<path d="M541.15,240.9 L546.5,240.9 L546.5,280.9 L541.15,280.9 Z" fill="#fec965"/>
<path d="M545.5,240.9 L550.85,240.9 L550.85,280.9 L545.5,280.9 Z" fill="#fede80"/>
<path d="M549.85,240.9 L555.2,240.9 L555.2,280.9 L549.85,280.9 Z" fill="#fedc7d"/>
<path d="M554.2,240.9 L559.55,240.9 L559.55,280.9 L554.2,280.9 Z" fill="#feb44e"/>
<path d="M558.55,240.9 L563.9,240.9 L563.9,280.9 L558.55,280.9 Z" fill="#fc602f"/>
<path d="M562.9,240.9 L568.25,240.9 L568.25,280.9 L562.9,280.9 Z" fill="#fd6f33"/>
<path d="M567.25,240.9 L572.6,240.9 L572.6,280.9 L567.25,280.9 Z" fill="#fc5b2e"/>
<path d="M571.6,240.9 L576.95,240.9 L576.95,280.9 L571.6,280.9 Z" fill="#eb2b20"/>
<path d="M575.95,240.9 L581.3,240.9 L581.3,280.9 L575.95,280.9 Z" fill="#da141e"/>
<path d="M580.3,240.9 L585.65,240.9 L585.65,280.9 L580.3,280.9 Z" fill="#b60026"/>
<path d="M584.65,240.9 L590,240.9 L590,280.9 L584.65,280.9 Z" fill="#a20026"/>
<path d="M589,240.9 L594.35,240.9 L594.35,280.9 L589,280.9 Z" fill="#b60026"/>
<path d="M593.35,240.9 L598.7,240.9 L598.7,280.9 L593.35,280.9 Z" fill="#b60026"/>
<path d="M597.7,240.9 L603.05,240.9 L603.05,280.9 L597.7,280.9 Z" fill="#ce0b22"/>
<path d="M602.05,240.9 L607.4,240.9 L607.4,280.9 L602.05,280.9 Z" fill="#eb2b20"/>
<path d="M606.4,240.9 L611.75,240.9 L611.75,280.9 L606.4,280.9 Z" fill="#f23924"/>
<path d="M610.75,240.9 L616.1,240.9 L616.1,280.9 L610.75,280.9 Z" fill="#f43d26"/>
<path d="M615.1,240.9 L620.45,240.9 L620.45,280.9 L615.1,280.9 Z" fill="#fd6f33"/>
<path d="M619.45,240.9 L624.8,240.9 L624.8,280.9 L619.45,280.9 Z" fill="#fd6f33"/>
<path d="M623.8,240.9 L629.15,240.9 L629.15,280.9 L623.8,280.9 Z" fill="#fd9640"/>
<path d="M628.15,240.9 L633.5,240.9 L633.5,280.9 L628.15,280.9 Z" fill="#fd9640"/>
<path d="M632.5,240.9 L637.85,240.9 L637.85,280.9 L632.5,280.9 Z" fill="#feab49"/>
<path d="M636.85,240.9 L642.2,240.9 L642.2,280.9 L636.85,280.9 Z" fill="#fea848"/>
<path d="M641.2,240.9 L646.55,240.9 L646.55,280.9 L641.2,280.9 Z" fill="#fea848"/>
<path d="M645.55,240.9 L650.9,240.9 L650.9,280.9 L645.55,280.9 Z" fill="#feab49"/>
<path d="M649.9,240.9 L655.25,240.9 L655.25,280.9 L649.9,280.9 Z" fill="#fea546"/>
<path d="M654.25,240.9 L659.6,240.9 L659.6,280.9 L654.25,280.9 Z" fill="#feae4a"/>
<path d="M658.6,240.9 L663.95,240.9 L663.95,280.9 L658.6,280.9 Z" fill="#feae4a"/>
<path d="M662.95,240.9 L668.3,240.9 L668.3,280.9 L662.95,280.9 Z" fill="#fea647"/>
<path d="M667.3,240.9 L672.65,240.9 L672.65,280.9 L667.3,280.9 Z" fill="#fea647"/>
<path d="M671.65,240.9 L677,240.9 L677,280.9 L671.65,280.9 Z" fill="#feb14b"/>
<path d="M676,240.9 L681.35,240.9 L681.35,280.9 L676,280.9 Z" fill="#feb14b"/>
<path d="M680.35,240.9 L689.7,240.9 L689.7,280.9 L680.35,280.9 Z" fill="#feb751"/>
<path d="M507,279.9 L515.35,279.9 L515.35,319.8 L507,319.8 Z" fill="#fec35e"/>
<path d="M514.35,279.9 L519.7,279.9 L519.7,319.8 L514.35,319.8 Z" fill="#feba54"/>
<path d="M518.7,279.9 L524.05,279.9 L524.05,319.8 L518.7,319.8 Z" fill="#fec05b"/>
<path d="M523.05,279.9 L528.4,279.9 L528.4,319.8 L523.05,319.8 Z" fill="#fec662"/>
<path d="M527.4,279.9 L532.75,279.9 L532.75,319.8 L527.4,319.8 Z" fill="#febd58"/>
<path d="M531.75,279.9 L537.1,279.9 L537.1,319.8 L531.75,319.8 Z" fill="#fecd69"/>
<path d="M536.1,279.9 L541.45,279.9 L541.45,319.8 L536.1,319.8 Z" fill="#fee38a"/>
<path d="M540.45,279.9 L545.8,279.9 L545.8,319.8 L540.45,319.8 Z" fill="#ffe998"/>
<path d="M544.8,279.9 L550.15,279.9 L550.15,319.8 L544.8,319.8 Z" fill="#ffe691"/>
<path d="M549.15,279.9 L554.5,279.9 L554.5,319.8 L549.15,319.8 Z" fill="#fedb79"/>
<path d="M553.5,279.9 L558.85,279.9 L558.85,319.8 L553.5,319.8 Z" fill="#fea546"/>
<path d="M557.85,279.9 L563.2,279.9 L563.2,319.8 L557.85,319.8 Z" fill="#fc602f"/>
<path d="M562.2,279.9 L567.55,279.9 L567.55,319.8 L562.2,319.8 Z" fill="#fc5b2e"/>
<path d="M566.55,279.9 L571.9,279.9 L571.9,319.8 L566.55,319.8 Z" fill="#e6201e"/>
<path d="M570.9,279.9 L576.25,279.9 L576.25,319.8 L570.9,319.8 Z" fill="#d41020"/>
<path d="M575.25,279.9 L580.6,279.9 L580.6,319.8 L575.25,319.8 Z" fill="#940026"/>
<path d="M579.6,279.9 L584.95,279.9 L584.95,319.8 L579.6,319.8 Z" fill="#ac0026"/>
<path d="M583.95,279.9 L589.3,279.9 L589.3,319.8 L583.95,319.8 Z" fill="#ac0026"/>
<path d="M588.3,279.9 L593.65,279.9 L593.65,319.8 L588.3,319.8 Z" fill="#a20026"/>
<path d="M592.65,279.9 L598,279.9 L598,319.8 L592.65,319.8 Z" fill="#a20026"/>
<path d="M597,279.9 L602.35,279.9 L602.35,319.8 L597,319.8 Z" fill="#c20325"/>
<path d="M601.35,279.9 L606.7,279.9 L606.7,319.8 L601.35,319.8 Z" fill="#e41c1d"/>
<path d="M605.7,279.9 L611.05,279.9 L611.05,319.8 L605.7,319.8 Z" fill="#eb2b20"/>
<path d="M610.05,279.9 L615.4,279.9 L615.4,319.8 L610.05,319.8 Z" fill="#fa4a29"/>
<path d="M614.4,279.9 L619.75,279.9 L619.75,319.8 L614.4,319.8 Z" fill="#fc6a32"/>
<path d="M618.75,279.9 L624.1,279.9 L624.1,319.8 L618.75,319.8 Z" fill="#fc6a32"/>
<path d="M623.1,279.9 L628.45,279.9 L628.45,319.8 L623.1,319.8 Z" fill="#fea245"/>
<path d="M627.45,279.9 L632.8,279.9 L632.8,319.8 L627.45,319.8 Z" fill="#fea245"/>
<path d="M631.8,279.9 L637.15,279.9 L637.15,319.8 L631.8,319.8 Z" fill="#feae4a"/>
<path d="M636.15,279.9 L641.5,279.9 L641.5,319.8 L636.15,319.8 Z" fill="#fea546"/>
<path d="M640.5,279.9 L645.85,279.9 L645.85,319.8 L640.5,319.8 Z" fill="#feab49"/>
<path d="M644.85,279.9 L650.2,279.9 L650.2,319.8 L644.85,319.8 Z" fill="#feab49"/>
<path d="M649.2,279.9 L654.55,279.9 L654.55,319.8 L649.2,319.8 Z" fill="#feb54f"/>
<path d="M653.55,279.9 L658.9,279.9 L658.9,319.8 L653.55,319.8 Z" fill="#feab49"/>
<path d="M657.9,279.9 L663.25,279.9 L663.25,319.8 L657.9,319.8 Z" fill="#feab49"/>
<path d="M662.25,279.9 L667.6,279.9 L667.6,319.8 L662.25,319.8 Z" fill="#fea546"/>
<path d="M666.6,279.9 L671.95,279.9 L671.95,319.8 L666.6,319.8 Z" fill="#feb54f"/>
<path d="M670.95,279.9 L676.3,279.9 L676.3,319.8 L670.95,319.8 Z" fill="#feab49"/>
<path d="M675.3,279.9 L680.65,279.9 L680.65,319.8 L675.3,319.8 Z" fill="#feab49"/>
<path d="M679.65,279.9 L689,279.9 L689,319.8 L679.65,319.8 Z" fill="#feba54"/>
<path d="M507,318.8 L515.35,318.8 L515.35,357.8 L507,357.8 Z" fill="#fec05b"/>
<path d="M514.35,318.8 L519.7,318.8 L519.7,357.8 L514.35,357.8 Z" fill="#fec05b"/>
<path d="M518.7,318.8 L524.05,318.8 L524.05,357.8 L518.7,357.8 Z" fill="#fec05b"/>
<path d="M523.05,318.8 L528.4,318.8 L528.4,357.8 L523.05,357.8 Z" fill="#fec05b"/>
<path d="M527.4,318.8 L532.75,318.8 L532.75,357.8 L527.4,357.8 Z" fill="#fec05b"/>
<path d="M531.75,318.8 L537.1,318.8 L537.1,357.8 L531.75,357.8 Z" fill="#feda78"/>
<path d="M536.1,318.8 L541.45,318.8 L541.45,357.8 L536.1,357.8 Z" fill="#fedb79"/>
<path d="M540.45,318.8 L545.8,318.8 L545.8,357.8 L540.45,357.8 Z" fill="#fee38a"/>
<path d="M544.8,318.8 L550.15,318.8 L550.15,357.8 L544.8,357.8 Z" fill="#fee38a"/>
<path d="M549.15,318.8 L554.5,318.8 L554.5,357.8 L549.15,357.8 Z" fill="#feda78"/>
<path d="M553.5,318.8 L558.85,318.8 L558.85,357.8 L553.5,357.8 Z" fill="#fea546"/>
<path d="M557.85,318.8 L563.2,318.8 L563.2,357.8 L557.85,357.8 Z" fill="#fc6a32"/>
<path d="M562.2,318.8 L567.55,318.8 L567.55,357.8 L562.2,357.8 Z" fill="#eb2b20"/>
<path d="M566.55,318.8 L571.9,318.8 L571.9,357.8 L566.55,357.8 Z" fill="#eb2b20"/>
<path d="M570.9,318.8 L576.25,318.8 L576.25,357.8 L570.9,357.8 Z" fill="#e41c1d"/>
<path d="M575.25,318.8 L580.6,318.8 L580.6,357.8 L575.25,357.8 Z" fill="#ce0b22"/>
<path d="M579.6,318.8 L584.95,318.8 L584.95,357.8 L579.6,357.8 Z" fill="#c20325"/>
<path d="M583.95,318.8 L589.3,318.8 L589.3,357.8 L583.95,357.8 Z" fill="#c20325"/>
<path d="M588.3,318.8 L593.65,318.8 L593.65,357.8 L588.3,357.8 Z" fill="#c80723"/>
<path d="M592.65,318.8 L598,318.8 L598,357.8 L592.65,357.8 Z" fill="#da141e"/>
<path d="M597,318.8 L602.35,318.8 L602.35,357.8 L597,357.8 Z" fill="#e6201e"/>
<path d="M601.35,318.8 L606.7,318.8 L606.7,357.8 L601.35,357.8 Z" fill="#eb2b20"/>
<path d="M605.7,318.8 L611.05,318.8 L611.05,357.8 L605.7,357.8 Z" fill="#f53f26"/>
<path d="M610.05,318.8 L615.4,318.8 L615.4,357.8 L610.05,357.8 Z" fill="#fc512b"/>
<path d="M614.4,318.8 L619.75,318.8 L619.75,357.8 L614.4,357.8 Z" fill="#fd7e38"/>
<path d="M618.75,318.8 L624.1,318.8 L624.1,357.8 L618.75,357.8 Z" fill="#fd7e38"/>
<path d="M623.1,318.8 L628.45,318.8 L628.45,357.8 L623.1,357.8 Z" fill="#fd9640"/>
<path d="M627.45,318.8 L632.8,318.8 L632.8,357.8 L627.45,357.8 Z" fill="#fd9640"/>
<path d="M631.8,318.8 L637.15,318.8 L637.15,357.8 L631.8,357.8 Z" fill="#fea546"/>
<path d="M636.15,318.8 L641.5,318.8 L641.5,357.8 L636.15,357.8 Z" fill="#fea546"/>
<path d="M640.5,318.8 L645.85,318.8 L645.85,357.8 L640.5,357.8 Z" fill="#feab49"/>
<path d="M644.85,318.8 L650.2,318.8 L650.2,357.8 L644.85,357.8 Z" fill="#feab49"/>
<path d="M649.2,318.8 L654.55,318.8 L654.55,357.8 L649.2,357.8 Z" fill="#feb54f"/>
<path d="M653.55,318.8 L658.9,318.8 L658.9,357.8 L653.55,357.8 Z" fill="#feab49"/>
<path d="M657.9,318.8 L663.25,318.8 L663.25,357.8 L657.9,357.8 Z" fill="#feab49"/>
<path d="M662.25,318.8 L667.6,318.8 L667.6,357.8 L662.25,357.8 Z" fill="#fea546"/>
<path d="M666.6,318.8 L671.95,318.8 L671.95,357.8 L666.6,357.8 Z" fill="#feb54f"/>
<path d="M670.95,318.8 L676.3,318.8 L676.3,357.8 L670.95,357.8 Z" fill="#feab49"/>
<path d="M675.3,318.8 L680.65,318.8 L680.65,357.8 L675.3,357.8 Z" fill="#feab49"/>
<path d="M679.65,318.8 L689,318.8 L689,357.8 L679.65,357.8 Z" fill="#feba54"/>
</g>
<path d="M553.67,356.3 L554.1,356.3 L554.53,356.03 L554.97,355.76 L555.4,355.49 L555.84,355.22 L556.27,354.95 L556.71,354.68 L557.14,354.4 L557.58,354.12 L558.01,353.84 L558.45,353.55 L558.88,353.26 L559.32,352.96 L559.75,352.66 L560.19,352.35 L560.62,352.04 L561.06,351.72 L561.5,351.39 L561.93,351.05 L562.37,350.71 L562.8,350.36 L563.24,349.99 L563.67,349.62 L564.11,349.23 L564.54,348.83 L564.98,348.42 L565.41,348 L565.85,347.56 L566.28,347.11 L566.72,346.64 L567.15,346.15 L567.59,345.65 L568.02,345.12 L568.46,344.58 L568.89,344.02 L569.33,343.43 L569.76,342.82 L570.2,342.19 L570.63,341.54 L571.07,340.85 L571.5,340.15 L571.94,339.41 L572.37,338.65 L572.81,337.86 L573.24,337.04 L573.68,336.19 L574.11,335.31 L574.55,334.4 L574.98,333.47 L575.42,332.5 L575.85,331.52 L576.28,330.5 L576.72,329.47 L577.15,328.42 L577.59,327.35 L578.02,326.28 L578.46,325.2 L578.89,324.12 L579.33,323.05 L579.76,322 L580.2,320.98 L580.63,319.99 L581.07,319.04 L581.5,318.15 L581.94,317.32 L582.38,316.57 L582.81,315.9 L583.25,315.33 L583.68,314.86 L584.12,314.49 L584.55,314.25 L584.99,314.12 L585.42,314.11 L585.86,314.22 L586.29,314.45 L586.73,314.79 L587.16,315.24 L587.6,315.8 L588.03,316.44 L588.47,317.17 L588.9,317.97 L589.34,318.83 L589.77,319.74 L590.21,320.7 L590.64,321.69 L591.08,322.7 L591.51,323.73 L591.95,324.77 L592.38,325.8 L592.82,326.83 L593.25,327.85 L593.69,328.85 L594.12,329.84 L594.56,330.8 L594.99,331.73 L595.43,332.64 L595.86,333.53 L596.3,334.38 L596.73,335.2 L597.16,336 L597.6,336.76 L598.04,337.5 L598.47,338.2 L598.9,338.88 L599.34,339.53 L599.77,340.15 L600.21,340.75 L600.64,341.32 L601.08,341.86 L601.51,342.39 L601.95,342.89 L602.38,343.37 L602.82,343.82 L603.25,344.26 L603.69,344.68 L604.12,345.08 L604.56,345.47 L605,345.83 L605.43,346.19 L605.87,346.52 L606.3,346.84 L606.74,347.15 L607.17,347.45 L607.61,347.73 L608.04,348 L608.48,348.26 L608.91,348.51 L609.35,348.75 L609.78,348.98 L610.22,349.21 L610.65,349.42 L611.09,349.62 L611.52,349.82 L611.96,350.01 L612.39,350.19 L612.83,350.36 L613.26,350.53 L613.7,350.69 L614.13,350.85 L614.57,350.99 L615,351.14 L615.44,351.28 L615.87,351.41 L616.31,351.54 L616.74,351.67 L617.18,351.79 L617.61,351.9 L618.05,352.01 L618.48,352.12 L618.91,352.23 L619.35,352.33 L619.79,352.43 L620.22,352.52 L620.65,352.61 L621.09,352.7 L621.52,352.78 L621.96,352.87 L622.39,352.95 L622.83,353.03 L623.26,353.1 L623.7,353.17 L624.13,353.24 L624.57,353.31 L625,353.38 L625.44,353.44 L625.88,353.51 L626.31,353.57 L626.75,353.62 L627.18,353.68 L627.62,353.74 L628.05,353.79 L628.49,353.84 L628.92,353.89 L629.36,353.94 L629.79,353.99 L630.23,354.04 L630.66,354.08 L631.1,354.13 L631.53,354.17 L631.97,354.21 L632.4,354.25 L632.84,354.29 L633.27,354.33 L633.71,354.37 L634.14,354.41 L634.58,354.44 L635.01,354.48 L635.45,354.51 L635.88,354.54 L636.32,354.58 L636.75,354.61 L637.19,354.64 L637.62,354.67 L638.06,354.7 L638.49,354.73 L638.93,354.75 L639.36,354.78 L639.8,354.81 L640.23,354.83 L640.66,354.86 L641.1,354.88 L641.54,354.91 L641.97,354.93 L642.4,354.95 L642.84,354.98 L643.27,355 L643.71,355.02 L644.14,355.04 L644.58,355.06 L645.01,355.08 L645.45,355.1 L645.88,355.12 L646.32,355.14 L646.75,355.16 L647.19,355.18 L647.62,355.19 L648.06,355.21 L648.5,355.23 L648.93,355.24 L649.37,355.26 L649.8,355.28 L650.24,355.29 L650.67,355.31 L651.11,355.32 L651.54,355.34 L651.98,355.35 L652.41,355.36 L652.85,355.38 L653.28,355.39 L653.72,355.4 L654.15,355.42 L654.59,355.43 L655.02,355.44 L655.46,355.45 L655.46,357.8 L554.1,357.8 Z" fill="#f8e2ec" fill-opacity="0.86"/>
<path d="M554.1,356.3 L554.53,356.03 L554.97,355.76 L555.4,355.49 L555.84,355.22 L556.27,354.95 L556.71,354.68 L557.14,354.4 L557.58,354.12 L558.01,353.84 L558.45,353.55 L558.88,353.26 L559.32,352.96 L559.75,352.66 L560.19,352.35 L560.62,352.04 L561.06,351.72 L561.5,351.39 L561.93,351.05 L562.37,350.71 L562.8,350.36 L563.24,349.99 L563.67,349.62 L564.11,349.23 L564.54,348.83 L564.98,348.42 L565.41,348 L565.85,347.56 L566.28,347.11 L566.72,346.64 L567.15,346.15 L567.59,345.65 L568.02,345.12 L568.46,344.58 L568.89,344.02 L569.33,343.43 L569.76,342.82 L570.2,342.19 L570.63,341.54 L571.07,340.85 L571.5,340.15 L571.94,339.41 L572.37,338.65 L572.81,337.86 L573.24,337.04 L573.68,336.19 L574.11,335.31 L574.55,334.4 L574.98,333.47 L575.42,332.5 L575.85,331.52 L576.28,330.5 L576.72,329.47 L577.15,328.42 L577.59,327.35 L578.02,326.28 L578.46,325.2 L578.89,324.12 L579.33,323.05 L579.76,322 L580.2,320.98 L580.63,319.99 L581.07,319.04 L581.5,318.15 L581.94,317.32 L582.38,316.57 L582.81,315.9 L583.25,315.33 L583.68,314.86 L584.12,314.49 L584.55,314.25 L584.99,314.12 L585.42,314.11 L585.86,314.22 L586.29,314.45 L586.73,314.79 L587.16,315.24 L587.6,315.8 L588.03,316.44 L588.47,317.17 L588.9,317.97 L589.34,318.83 L589.77,319.74 L590.21,320.7 L590.64,321.69 L591.08,322.7 L591.51,323.73 L591.95,324.77 L592.38,325.8 L592.82,326.83 L593.25,327.85 L593.69,328.85 L594.12,329.84 L594.56,330.8 L594.99,331.73 L595.43,332.64 L595.86,333.53 L596.3,334.38 L596.73,335.2 L597.16,336 L597.6,336.76 L598.04,337.5 L598.47,338.2 L598.9,338.88 L599.34,339.53 L599.77,340.15 L600.21,340.75 L600.64,341.32 L601.08,341.86 L601.51,342.39 L601.95,342.89 L602.38,343.37 L602.82,343.82 L603.25,344.26 L603.69,344.68 L604.12,345.08 L604.56,345.47 L605,345.83 L605.43,346.19 L605.87,346.52 L606.3,346.84 L606.74,347.15 L607.17,347.45 L607.61,347.73 L608.04,348 L608.48,348.26 L608.91,348.51 L609.35,348.75 L609.78,348.98 L610.22,349.21 L610.65,349.42 L611.09,349.62 L611.52,349.82 L611.96,350.01 L612.39,350.19 L612.83,350.36 L613.26,350.53 L613.7,350.69 L614.13,350.85 L614.57,350.99 L615,351.14 L615.44,351.28 L615.87,351.41 L616.31,351.54 L616.74,351.67 L617.18,351.79 L617.61,351.9 L618.05,352.01 L618.48,352.12 L618.91,352.23 L619.35,352.33 L619.79,352.43 L620.22,352.52 L620.65,352.61 L621.09,352.7 L621.52,352.78 L621.96,352.87 L622.39,352.95 L622.83,353.03 L623.26,353.1 L623.7,353.17 L624.13,353.24 L624.57,353.31 L625,353.38 L625.44,353.44 L625.88,353.51 L626.31,353.57 L626.75,353.62 L627.18,353.68 L627.62,353.74 L628.05,353.79 L628.49,353.84 L628.92,353.89 L629.36,353.94 L629.79,353.99 L630.23,354.04 L630.66,354.08 L631.1,354.13 L631.53,354.17 L631.97,354.21 L632.4,354.25 L632.84,354.29 L633.27,354.33 L633.71,354.37 L634.14,354.41 L634.58,354.44 L635.01,354.48 L635.45,354.51 L635.88,354.54 L636.32,354.58 L636.75,354.61 L637.19,354.64 L637.62,354.67 L638.06,354.7 L638.49,354.73 L638.93,354.75 L639.36,354.78 L639.8,354.81 L640.23,354.83 L640.66,354.86 L641.1,354.88 L641.54,354.91 L641.97,354.93 L642.4,354.95 L642.84,354.98 L643.27,355 L643.71,355.02 L644.14,355.04 L644.58,355.06 L645.01,355.08 L645.45,355.1 L645.88,355.12 L646.32,355.14 L646.75,355.16 L647.19,355.18 L647.62,355.19 L648.06,355.21 L648.5,355.23 L648.93,355.24 L649.37,355.26 L649.8,355.28 L650.24,355.29 L650.67,355.31 L651.11,355.32 L651.54,355.34 L651.98,355.35 L652.41,355.36 L652.85,355.38 L653.28,355.39 L653.72,355.4 L654.15,355.42 L654.59,355.43 L655.02,355.44 L655.46,355.45" fill="none" stroke="#9c10aa" stroke-width="1.6"/>
<path d="M553.67,356 L554.1,356 L554.53,355.4 L554.97,354.8 L555.4,354.19 L555.84,353.58 L556.27,352.96 L556.71,352.34 L557.14,351.7 L557.58,351.05 L558.01,350.39 L558.45,349.72 L558.88,349.03 L559.32,348.32 L559.75,347.59 L560.19,346.85 L560.62,346.09 L561.06,345.3 L561.5,344.5 L561.93,343.68 L562.37,342.84 L562.8,341.98 L563.24,341.11 L563.67,340.23 L564.11,339.34 L564.54,338.45 L564.98,337.57 L565.41,336.7 L565.85,335.85 L566.28,335.02 L566.72,334.24 L567.15,333.5 L567.59,332.82 L568.02,332.22 L568.46,331.69 L568.89,331.25 L569.33,330.91 L569.76,330.67 L570.2,330.53 L570.63,330.5 L571.07,330.58 L571.5,330.76 L571.94,331.05 L572.37,331.42 L572.81,331.87 L573.24,332.4 L573.68,332.99 L574.11,333.63 L574.55,334.31 L574.98,335.02 L575.42,335.75 L575.85,336.5 L576.28,337.25 L576.72,338 L577.15,338.74 L577.59,339.46 L578.02,340.17 L578.46,340.87 L578.89,341.54 L579.33,342.18 L579.76,342.8 L580.2,343.4 L580.63,343.97 L581.07,344.51 L581.5,345.03 L581.94,345.53 L582.38,346 L582.81,346.45 L583.25,346.87 L583.68,347.28 L584.12,347.66 L584.55,348.03 L584.99,348.37 L585.42,348.7 L585.86,349.01 L586.29,349.3 L586.73,349.58 L587.16,349.85 L587.6,350.1 L588.03,350.34 L588.47,350.56 L588.9,350.78 L589.34,350.98 L589.77,351.18 L590.21,351.36 L590.64,351.54 L591.08,351.71 L591.51,351.87 L591.95,352.02 L592.38,352.16 L592.82,352.3 L593.25,352.43 L593.69,352.56 L594.12,352.68 L594.56,352.79 L594.99,352.9 L595.43,353 L595.86,353.1 L596.3,353.2 L596.73,353.29 L597.16,353.38 L597.6,353.46 L598.04,353.54 L598.47,353.62 L598.9,353.69 L599.34,353.76 L599.77,353.83 L600.21,353.9 L600.64,353.96 L601.08,354.02 L601.51,354.08 L601.95,354.13 L602.38,354.18 L602.82,354.24 L603.25,354.29 L603.69,354.33 L604.12,354.38 L604.56,354.42 L605,354.47 L605.43,354.51 L605.87,354.55 L606.3,354.59 L606.74,354.62 L607.17,354.66 L607.61,354.69 L608.04,354.73 L608.48,354.76 L608.91,354.79 L609.35,354.82 L609.78,354.85 L610.22,354.88 L610.65,354.9 L611.09,354.93 L611.52,354.95 L611.96,354.98 L612.39,355 L612.83,355.03 L613.26,355.05 L613.7,355.07 L614.13,355.09 L614.57,355.11 L615,355.13 L615.44,355.15 L615.87,355.17 L616.31,355.19 L616.74,355.21 L617.18,355.22 L617.61,355.24 L618.05,355.26 L618.48,355.27 L618.91,355.29 L619.35,355.3 L619.79,355.32 L620.22,355.33 L620.65,355.34 L621.09,355.36 L621.52,355.37 L621.96,355.38 L622.39,355.39 L622.83,355.41 L623.26,355.42 L623.7,355.43 L624.13,355.44 L624.57,355.45 L625,355.46 L625.44,355.47 L625.88,355.48 L626.31,355.49 L626.75,355.5 L627.18,355.51 L627.62,355.52 L628.05,355.53 L628.49,355.54 L628.92,355.54 L629.36,355.55 L629.79,355.56 L630.23,355.57 L630.66,355.58 L631.1,355.58 L631.53,355.59 L631.97,355.6 L632.4,355.6 L632.84,355.61 L633.27,355.62 L633.71,355.62 L634.14,355.63 L634.58,355.64 L635.01,355.64 L635.45,355.65 L635.88,355.65 L636.32,355.66 L636.75,355.66 L637.19,355.67 L637.62,355.68 L638.06,355.68 L638.49,355.69 L638.93,355.69 L639.36,355.7 L639.8,355.7 L640.23,355.7 L640.66,355.71 L641.1,355.71 L641.54,355.72 L641.97,355.72 L642.4,355.73 L642.84,355.73 L643.27,355.73 L643.71,355.74 L644.14,355.74 L644.58,355.75 L645.01,355.75 L645.45,355.75 L645.88,355.76 L646.32,355.76 L646.75,355.76 L647.19,355.77 L647.62,355.77 L648.06,355.77 L648.5,355.78 L648.93,355.78 L649.37,355.78 L649.8,355.79 L650.24,355.79 L650.67,355.79 L651.11,355.8 L651.54,355.8 L651.98,355.8 L652.41,355.8 L652.85,355.81 L653.28,355.81 L653.72,355.81 L654.15,355.81 L654.59,355.82 L655.02,355.82 L655.46,355.82 L655.46,357.8 L554.1,357.8 Z" fill="#fffafa" fill-opacity="0.75"/>
<path d="M519.3,356 L519.74,356 L520.17,356 L520.61,356 L521.04,356 L521.48,356 L521.91,356 L522.35,356 L522.78,356 L523.22,356 L523.65,356 L524.09,356 L524.52,356 L524.96,356 L525.39,356 L525.83,356 L526.26,356 L526.7,356 L527.13,356 L527.57,356 L528,356 L528.44,356 L528.87,356 L529.31,356 L529.74,356 L530.18,356 L530.61,356 L531.05,356 L531.48,356 L531.92,356 L532.35,356 L532.78,356 L533.22,356 L533.65,356 L534.09,356 L534.52,356 L534.96,356 L535.39,356 L535.83,356 L536.26,356 L536.7,356 L537.13,356 L537.57,356 L538,356 L538.44,356 L538.88,356 L539.31,356 L539.75,356 L540.18,356 L540.62,356 L541.05,356 L541.49,356 L541.92,356 L542.36,356 L542.79,356 L543.23,356 L543.66,356 L544.1,356 L544.53,356 L544.97,356 L545.4,356 L545.84,356 L546.27,356 L546.71,356 L547.14,356 L547.58,356 L548.01,356 L548.45,356 L548.88,356 L549.32,356 L549.75,356 L550.19,356 L550.62,356 L551.06,356 L551.49,356 L551.93,356 L552.36,356 L552.8,356 L553.23,356 L553.67,356 L554.1,356 L554.53,355.4 L554.97,354.8 L555.4,354.19 L555.84,353.58 L556.27,352.96 L556.71,352.34 L557.14,351.7 L557.58,351.05 L558.01,350.39 L558.45,349.72 L558.88,349.03 L559.32,348.32 L559.75,347.59 L560.19,346.85 L560.62,346.09 L561.06,345.3 L561.5,344.5 L561.93,343.68 L562.37,342.84 L562.8,341.98 L563.24,341.11 L563.67,340.23 L564.11,339.34 L564.54,338.45 L564.98,337.57 L565.41,336.7 L565.85,335.85 L566.28,335.02 L566.72,334.24 L567.15,333.5 L567.59,332.82 L568.02,332.22 L568.46,331.69 L568.89,331.25 L569.33,330.91 L569.76,330.67 L570.2,330.53 L570.63,330.5 L571.07,330.58 L571.5,330.76 L571.94,331.05 L572.37,331.42 L572.81,331.87 L573.24,332.4 L573.68,332.99 L574.11,333.63 L574.55,334.31 L574.98,335.02 L575.42,335.75 L575.85,336.5 L576.28,337.25 L576.72,338 L577.15,338.74 L577.59,339.46 L578.02,340.17 L578.46,340.87 L578.89,341.54 L579.33,342.18 L579.76,342.8 L580.2,343.4 L580.63,343.97 L581.07,344.51 L581.5,345.03 L581.94,345.53 L582.38,346 L582.81,346.45 L583.25,346.87 L583.68,347.28 L584.12,347.66 L584.55,348.03 L584.99,348.37 L585.42,348.7 L585.86,349.01 L586.29,349.3 L586.73,349.58 L587.16,349.85 L587.6,350.1 L588.03,350.34 L588.47,350.56 L588.9,350.78 L589.34,350.98 L589.77,351.18 L590.21,351.36 L590.64,351.54 L591.08,351.71 L591.51,351.87 L591.95,352.02 L592.38,352.16 L592.82,352.3 L593.25,352.43 L593.69,352.56 L594.12,352.68 L594.56,352.79 L594.99,352.9 L595.43,353 L595.86,353.1 L596.3,353.2 L596.73,353.29 L597.16,353.38 L597.6,353.46 L598.04,353.54 L598.47,353.62 L598.9,353.69 L599.34,353.76 L599.77,353.83 L600.21,353.9 L600.64,353.96 L601.08,354.02 L601.51,354.08 L601.95,354.13 L602.38,354.18 L602.82,354.24 L603.25,354.29 L603.69,354.33 L604.12,354.38 L604.56,354.42 L605,354.47 L605.43,354.51 L605.87,354.55 L606.3,354.59 L606.74,354.62 L607.17,354.66 L607.61,354.69 L608.04,354.73 L608.48,354.76 L608.91,354.79 L609.35,354.82 L609.78,354.85 L610.22,354.88 L610.65,354.9 L611.09,354.93 L611.52,354.95 L611.96,354.98 L612.39,355 L612.83,355.03 L613.26,355.05 L613.7,355.07 L614.13,355.09 L614.57,355.11 L615,355.13 L615.44,355.15 L615.87,355.17 L616.31,355.19 L616.74,355.21 L617.18,355.22 L617.61,355.24 L618.05,355.26 L618.48,355.27 L618.91,355.29 L619.35,355.3 L619.79,355.32 L620.22,355.33 L620.65,355.34 L621.09,355.36 L621.52,355.37 L621.96,355.38 L622.39,355.39 L622.83,355.41 L623.26,355.42 L623.7,355.43 L624.13,355.44 L624.57,355.45 L625,355.46 L625.44,355.47 L625.88,355.48 L626.31,355.49 L626.75,355.5 L627.18,355.51 L627.62,355.52 L628.05,355.53 L628.49,355.54 L628.92,355.54 L629.36,355.55 L629.79,355.56 L630.23,355.57 L630.66,355.58 L631.1,355.58 L631.53,355.59 L631.97,355.6 L632.4,355.6 L632.84,355.61 L633.27,355.62 L633.71,355.62 L634.14,355.63 L634.58,355.64 L635.01,355.64 L635.45,355.65 L635.88,355.65 L636.32,355.66 L636.75,355.66 L637.19,355.67 L637.62,355.68 L638.06,355.68 L638.49,355.69 L638.93,355.69 L639.36,355.7 L639.8,355.7 L640.23,355.7 L640.66,355.71 L641.1,355.71 L641.54,355.72 L641.97,355.72 L642.4,355.73 L642.84,355.73 L643.27,355.73 L643.71,355.74 L644.14,355.74 L644.58,355.75 L645.01,355.75 L645.45,355.75 L645.88,355.76 L646.32,355.76 L646.75,355.76 L647.19,355.77 L647.62,355.77 L648.06,355.77 L648.5,355.78 L648.93,355.78 L649.37,355.78 L649.8,355.79 L650.24,355.79 L650.67,355.79 L651.11,355.8 L651.54,355.8 L651.98,355.8 L652.41,355.8 L652.85,355.81 L653.28,355.81 L653.72,355.81 L654.15,355.81 L654.59,355.82 L655.02,355.82 L655.46,355.82" fill="none" stroke="#ffa200" stroke-width="1.5"/>
<rect x="510.4" y="12.1" width="174" height="345.7" fill="none" stroke="#6a5a50" stroke-width="0.7"/>
<line x1="510.4" y1="92.6" x2="684.4" y2="92.6" stroke="#fff" stroke-width="1.5" stroke-dasharray="4.2,3.4"/>
<text x="556.8" y="84.3" font-size="15.6" font-style="italic" fill="#fff">T<tspan font-size="11" font-style="normal" dy="1.7">4i-4o</tspan><tspan dy="-1.7" font-style="normal"> = 145K</tspan></text>
<text x="638.2" y="28.8" font-size="12"><tspan font-weight="bold" font-size="12.8">q</tspan> (0,0,0)</text>
<line x1="503.4" y1="338.3" x2="510.4" y2="338.3" stroke="#000" stroke-width="1.8"/>
<text x="495.6" y="343.5" font-size="13" text-anchor="end">20</text>
<line x1="503.4" y1="299.35" x2="510.4" y2="299.35" stroke="#000" stroke-width="1.8"/>
<text x="495.6" y="304.55" font-size="13" text-anchor="end">40</text>
<line x1="503.4" y1="260.4" x2="510.4" y2="260.4" stroke="#000" stroke-width="1.8"/>
<text x="495.6" y="265.6" font-size="13" text-anchor="end">60</text>
<line x1="503.4" y1="221.45" x2="510.4" y2="221.45" stroke="#000" stroke-width="1.8"/>
<text x="495.6" y="226.65" font-size="13" text-anchor="end">80</text>
<line x1="503.4" y1="182.5" x2="510.4" y2="182.5" stroke="#000" stroke-width="1.8"/>
<text x="495.6" y="187.7" font-size="13" text-anchor="end">100</text>
<line x1="503.4" y1="143.55" x2="510.4" y2="143.55" stroke="#000" stroke-width="1.8"/>
<text x="495.6" y="148.75" font-size="13" text-anchor="end">120</text>
<line x1="503.4" y1="104.6" x2="510.4" y2="104.6" stroke="#000" stroke-width="1.8"/>
<text x="495.6" y="109.8" font-size="13" text-anchor="end">140</text>
<line x1="503.4" y1="65.65" x2="510.4" y2="65.65" stroke="#000" stroke-width="1.8"/>
<text x="495.6" y="70.85" font-size="13" text-anchor="end">160</text>
<line x1="503.4" y1="26.7" x2="510.4" y2="26.7" stroke="#000" stroke-width="1.8"/>
<text x="495.6" y="31.9" font-size="13" text-anchor="end">180</text>
<line x1="554.1" y1="357.8" x2="554.1" y2="365.3" stroke="#000" stroke-width="1.8"/>
<line x1="641.1" y1="357.8" x2="641.1" y2="365.3" stroke="#000" stroke-width="1.8"/>
<text x="554.4" y="382.8" font-size="12.5" text-anchor="middle">0</text>
<text x="641.1" y="382.8" font-size="12.5" text-anchor="middle">100</text>
<text x="599.6" y="392.6" font-size="12" text-anchor="middle">Energy loss (meV)</text>
<text transform="translate(469.0,195.5) rotate(-90)" font-size="12.5" text-anchor="middle">Temperature (K)</text>
<text x="484.4" y="13.2" font-size="17" font-weight="bold">d</text>
</svg></body></html>
